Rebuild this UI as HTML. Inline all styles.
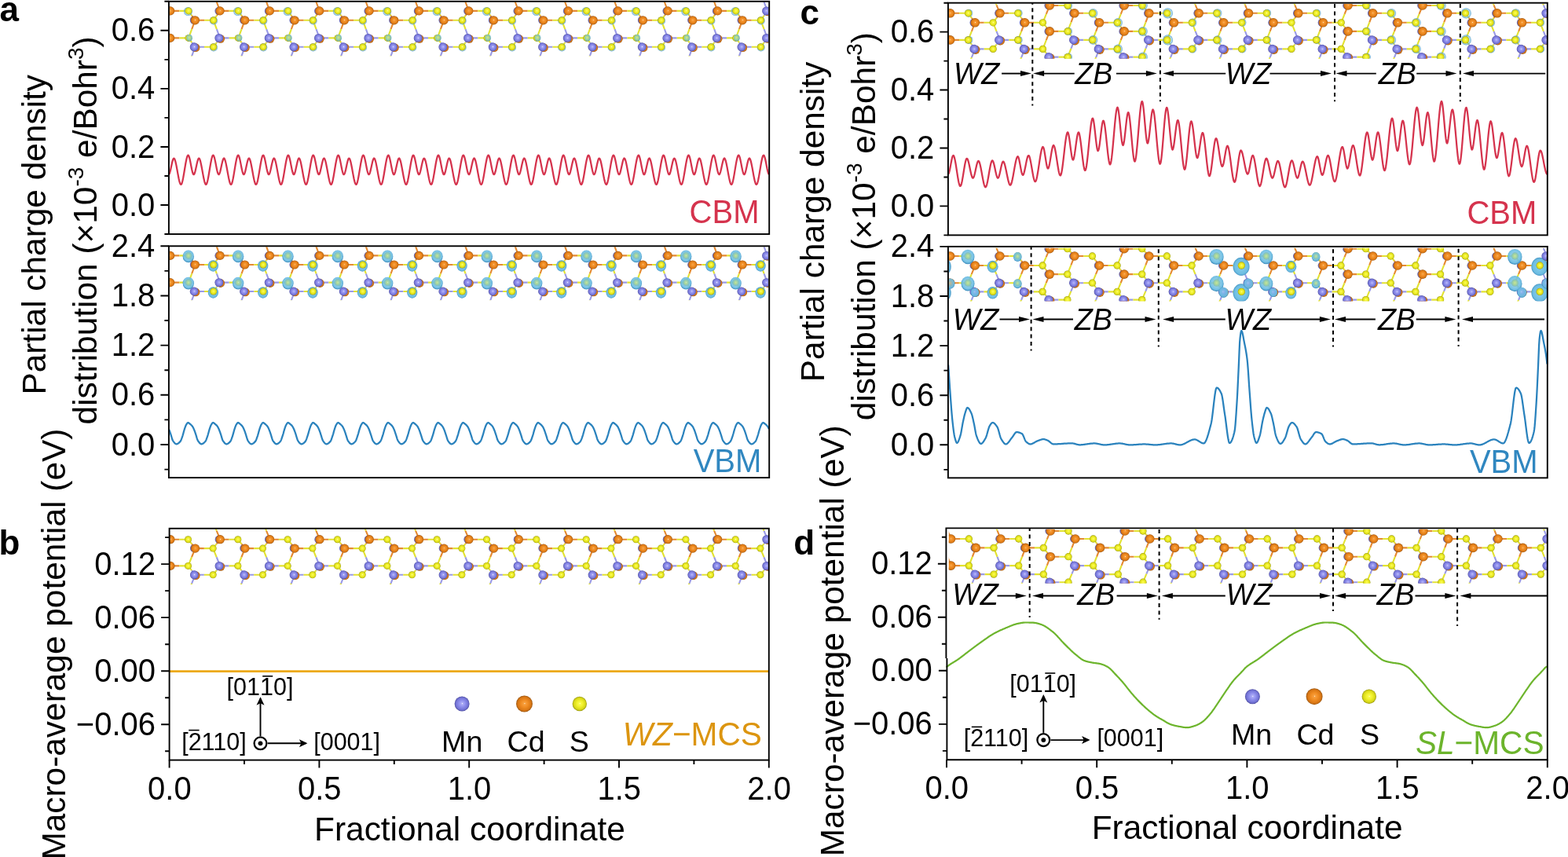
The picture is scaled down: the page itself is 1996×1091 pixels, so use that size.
<!DOCTYPE html><html><head><meta charset="utf-8"><title>Partial charge density and macro-average potential</title><style>html,body{margin:0;padding:0;background:#fff;overflow:hidden}svg{display:block}text{font-family:'Liberation Sans', Arial, Helvetica, sans-serif;fill:#000}</style></head><body>
<svg xmlns="http://www.w3.org/2000/svg" width="1996" height="1091" viewBox="0 0 1996 1091">
<defs>
<radialGradient id="gCd" cx="0.5" cy="0.5" r="0.5" fx="0.52" fy="0.48"><stop offset="0" stop-color="#FFF2DA"/><stop offset="0.1" stop-color="#F7A040"/><stop offset="0.45" stop-color="#F08C22"/><stop offset="0.82" stop-color="#D87614"/><stop offset="1" stop-color="#9A5612"/></radialGradient>
<radialGradient id="gMn" cx="0.5" cy="0.5" r="0.5" fx="0.52" fy="0.48"><stop offset="0" stop-color="#FFFFFF"/><stop offset="0.1" stop-color="#AEAEF6"/><stop offset="0.45" stop-color="#8E8EEC"/><stop offset="0.82" stop-color="#7272D4"/><stop offset="1" stop-color="#4E4EA0"/></radialGradient>
<radialGradient id="gS" cx="0.5" cy="0.5" r="0.5" fx="0.52" fy="0.48"><stop offset="0" stop-color="#FFFFE8"/><stop offset="0.1" stop-color="#FAFA50"/><stop offset="0.45" stop-color="#F0F02A"/><stop offset="0.82" stop-color="#D6D618"/><stop offset="1" stop-color="#96960E"/></radialGradient>
<radialGradient id="gIso" cx="0.5" cy="0.5" r="0.5"><stop offset="0" stop-color="#8ED0EC"/><stop offset="0.82" stop-color="#6CBDE2"/><stop offset="1" stop-color="#4A98C6"/></radialGradient>
<radialGradient id="gIsoF" cx="0.5" cy="0.45" r="0.5"><stop offset="0" stop-color="#86CBE8" stop-opacity="0.45"/><stop offset="0.45" stop-color="#74C2E5" stop-opacity="0.8"/><stop offset="0.85" stop-color="#6CBDE2" stop-opacity="0.95"/><stop offset="1" stop-color="#4A98C6" stop-opacity="1"/></radialGradient>
<radialGradient id="gIsoC" cx="0.5" cy="0.5" r="0.5"><stop offset="0" stop-color="#8ED0EC" stop-opacity="0.25"/><stop offset="0.7" stop-color="#7CC6E6" stop-opacity="0.55"/><stop offset="1" stop-color="#4A98C6" stop-opacity="0.8"/></radialGradient>
</defs>
<rect width="1996" height="1091" fill="#fff"/>
<clipPath id="cpaC"><rect x="215.8" y="2.3" width="762.5" height="69.2"/></clipPath>
<g clip-path="url(#cpaC)">
<path d="M153.36 13.9L165.01 13.9M153.36 13.9L149.17 19.85M153.36 13.9L149.17 2.73M185.03 25.8L196.68 25.8M185.03 25.8L180.84 19.85M185.03 25.8L180.84 37.1M216.7 13.9L228.35 13.9M216.7 13.9L212.51 19.85M216.7 13.9L212.51 2.73M216.7 48.4L228.35 48.4M216.7 48.4L212.51 54.1M216.7 48.4L212.51 37.1M248.37 25.8L260.02 25.8M248.37 25.8L244.19 19.85M248.37 25.8L244.19 37.1M280.04 13.9L291.69 13.9M280.04 13.9L275.86 19.85M280.04 13.9L275.86 2.73M311.71 25.8L323.36 25.8M311.71 25.8L307.52 19.85M311.71 25.8L307.52 37.1M343.38 13.9L355.03 13.9M343.38 13.9L339.19 19.85M343.38 13.9L339.19 2.73M375.05 25.8L386.7 25.8M375.05 25.8L370.87 19.85M375.05 25.8L370.87 37.1M406.72 13.9L418.37 13.9M406.72 13.9L402.54 19.85M406.72 13.9L402.54 2.73M438.39 25.8L450.04 25.8M438.39 25.8L434.21 19.85M438.39 25.8L434.21 37.1M470.06 13.9L481.71 13.9M470.06 13.9L465.88 19.85M470.06 13.9L465.88 2.73M501.73 25.8L513.38 25.8M501.73 25.8L497.55 19.85M501.73 25.8L497.55 37.1M533.4 13.9L545.05 13.9M533.4 13.9L529.22 19.85M533.4 13.9L529.22 2.73M565.07 25.8L576.72 25.8M565.07 25.8L560.88 19.85M565.07 25.8L560.88 37.1M596.74 13.9L608.39 13.9M596.74 13.9L592.55 19.85M596.74 13.9L592.55 2.73M628.41 25.8L640.06 25.8M628.41 25.8L624.23 19.85M628.41 25.8L624.23 37.1M660.08 13.9L671.73 13.9M660.08 13.9L655.89 19.85M660.08 13.9L655.89 2.73M691.75 25.8L703.4 25.8M691.75 25.8L687.56 19.85M691.75 25.8L687.56 37.1M723.42 13.9L735.07 13.9M723.42 13.9L719.24 19.85M723.42 13.9L719.24 2.73M755.09 25.8L766.74 25.8M755.09 25.8L750.9 19.85M755.09 25.8L750.9 37.1M786.76 13.9L798.41 13.9M786.76 13.9L782.57 19.85M786.76 13.9L782.57 2.73M818.43 25.8L830.08 25.8M818.43 25.8L814.25 19.85M818.43 25.8L814.25 37.1M850.1 13.9L861.75 13.9M850.1 13.9L845.92 19.85M850.1 13.9L845.92 2.73M881.77 25.8L893.42 25.8M881.77 25.8L877.59 19.85M881.77 25.8L877.59 37.1M913.44 13.9L925.09 13.9M913.44 13.9L909.25 19.85M913.44 13.9L909.25 2.73M945.11 25.8L956.76 25.8M945.11 25.8L940.93 19.85M945.11 25.8L940.93 37.1M1008.45 25.8L1020.1 25.8M1008.45 25.8L1004.26 19.85M1008.45 25.8L1004.26 37.1M1040.12 13.9L1051.77 13.9M1040.12 13.9L1035.93 19.85M1040.12 13.9L1035.93 2.73" stroke="#E58A32" stroke-width="2.1" fill="none"/>
<path d="M153.36 48.4L165.01 48.4M153.36 48.4L149.17 54.1M153.36 48.4L149.17 37.1M185.03 59.8L196.68 59.8M185.03 59.8L180.84 54.1M185.03 59.8L180.84 71.22M248.37 59.8L260.02 59.8M248.37 59.8L244.19 54.1M248.37 59.8L244.19 71.22M280.04 48.4L291.69 48.4M280.04 48.4L275.86 54.1M280.04 48.4L275.86 37.1M311.71 59.8L323.36 59.8M311.71 59.8L307.52 54.1M311.71 59.8L307.52 71.22M343.38 48.4L355.03 48.4M343.38 48.4L339.19 54.1M343.38 48.4L339.19 37.1M375.05 59.8L386.7 59.8M375.05 59.8L370.87 54.1M375.05 59.8L370.87 71.22M406.72 48.4L418.37 48.4M406.72 48.4L402.54 54.1M406.72 48.4L402.54 37.1M438.39 59.8L450.04 59.8M438.39 59.8L434.21 54.1M438.39 59.8L434.21 71.22M470.06 48.4L481.71 48.4M470.06 48.4L465.88 54.1M470.06 48.4L465.88 37.1M501.73 59.8L513.38 59.8M501.73 59.8L497.55 54.1M501.73 59.8L497.55 71.22M533.4 48.4L545.05 48.4M533.4 48.4L529.22 54.1M533.4 48.4L529.22 37.1M565.07 59.8L576.72 59.8M565.07 59.8L560.88 54.1M565.07 59.8L560.88 71.22M596.74 48.4L608.39 48.4M596.74 48.4L592.55 54.1M596.74 48.4L592.55 37.1M628.41 59.8L640.06 59.8M628.41 59.8L624.23 54.1M628.41 59.8L624.23 71.22M660.08 48.4L671.73 48.4M660.08 48.4L655.89 54.1M660.08 48.4L655.89 37.1M691.75 59.8L703.4 59.8M691.75 59.8L687.56 54.1M691.75 59.8L687.56 71.22M723.42 48.4L735.07 48.4M723.42 48.4L719.24 54.1M723.42 48.4L719.24 37.1M755.09 59.8L766.74 59.8M755.09 59.8L750.9 54.1M755.09 59.8L750.9 71.22M786.76 48.4L798.41 48.4M786.76 48.4L782.57 54.1M786.76 48.4L782.57 37.1M818.43 59.8L830.08 59.8M818.43 59.8L814.25 54.1M818.43 59.8L814.25 71.22M850.1 48.4L861.75 48.4M850.1 48.4L845.92 54.1M850.1 48.4L845.92 37.1M881.77 59.8L893.42 59.8M881.77 59.8L877.59 54.1M881.77 59.8L877.59 71.22M913.44 48.4L925.09 48.4M913.44 48.4L909.25 54.1M913.44 48.4L909.25 37.1M945.11 59.8L956.76 59.8M945.11 59.8L940.93 54.1M945.11 59.8L940.93 71.22M976.78 13.9L988.43 13.9M976.78 13.9L972.6 19.85M976.78 13.9L972.6 2.73M976.78 48.4L988.43 48.4M976.78 48.4L972.6 54.1M976.78 48.4L972.6 37.1M1008.45 59.8L1020.1 59.8M1008.45 59.8L1004.26 54.1M1008.45 59.8L1004.26 71.22M1040.12 48.4L1051.77 48.4M1040.12 48.4L1035.93 54.1M1040.12 48.4L1035.93 37.1" stroke="#9A9AE6" stroke-width="2.1" fill="none"/>
<path d="M165.01 13.9L176.66 13.9M149.17 19.85L144.99 25.8M149.17 2.73L144.99 -8.45M165.01 48.4L176.66 48.4M149.17 54.1L144.99 59.8M149.17 37.1L144.99 25.8M196.68 25.8L208.33 25.8M180.84 19.85L176.66 13.9M180.84 37.1L176.66 48.4M196.68 59.8L208.33 59.8M180.84 54.1L176.66 48.4M180.84 71.22L176.66 82.65M228.35 13.9L240 13.9M212.51 19.85L208.33 25.8M212.51 2.73L208.33 -8.45M228.35 48.4L240 48.4M212.51 54.1L208.33 59.8M212.51 37.1L208.33 25.8M260.02 25.8L271.67 25.8M244.19 19.85L240 13.9M244.19 37.1L240 48.4M260.02 59.8L271.67 59.8M244.19 54.1L240 48.4M244.19 71.22L240 82.65M291.69 13.9L303.34 13.9M275.86 19.85L271.67 25.8M275.86 2.73L271.67 -8.45M291.69 48.4L303.34 48.4M275.86 54.1L271.67 59.8M275.86 37.1L271.67 25.8M323.36 25.8L335.01 25.8M307.52 19.85L303.34 13.9M307.52 37.1L303.34 48.4M323.36 59.8L335.01 59.8M307.52 54.1L303.34 48.4M307.52 71.22L303.34 82.65M355.03 13.9L366.68 13.9M339.19 19.85L335.01 25.8M339.19 2.73L335.01 -8.45M355.03 48.4L366.68 48.4M339.19 54.1L335.01 59.8M339.19 37.1L335.01 25.8M386.7 25.8L398.35 25.8M370.87 19.85L366.68 13.9M370.87 37.1L366.68 48.4M386.7 59.8L398.35 59.8M370.87 54.1L366.68 48.4M370.87 71.22L366.68 82.65M418.37 13.9L430.02 13.9M402.54 19.85L398.35 25.8M402.54 2.73L398.35 -8.45M418.37 48.4L430.02 48.4M402.54 54.1L398.35 59.8M402.54 37.1L398.35 25.8M450.04 25.8L461.69 25.8M434.21 19.85L430.02 13.9M434.21 37.1L430.02 48.4M450.04 59.8L461.69 59.8M434.21 54.1L430.02 48.4M434.21 71.22L430.02 82.65M481.71 13.9L493.36 13.9M465.88 19.85L461.69 25.8M465.88 2.73L461.69 -8.45M481.71 48.4L493.36 48.4M465.88 54.1L461.69 59.8M465.88 37.1L461.69 25.8M513.38 25.8L525.03 25.8M497.55 19.85L493.36 13.9M497.55 37.1L493.36 48.4M513.38 59.8L525.03 59.8M497.55 54.1L493.36 48.4M497.55 71.22L493.36 82.65M545.05 13.9L556.7 13.9M529.22 19.85L525.03 25.8M529.22 2.73L525.03 -8.45M545.05 48.4L556.7 48.4M529.22 54.1L525.03 59.8M529.22 37.1L525.03 25.8M576.72 25.8L588.37 25.8M560.88 19.85L556.7 13.9M560.88 37.1L556.7 48.4M576.72 59.8L588.37 59.8M560.88 54.1L556.7 48.4M560.88 71.22L556.7 82.65M608.39 13.9L620.04 13.9M592.55 19.85L588.37 25.8M592.55 2.73L588.37 -8.45M608.39 48.4L620.04 48.4M592.55 54.1L588.37 59.8M592.55 37.1L588.37 25.8M640.06 25.8L651.71 25.8M624.23 19.85L620.04 13.9M624.23 37.1L620.04 48.4M640.06 59.8L651.71 59.8M624.23 54.1L620.04 48.4M624.23 71.22L620.04 82.65M671.73 13.9L683.38 13.9M655.89 19.85L651.71 25.8M655.89 2.73L651.71 -8.45M671.73 48.4L683.38 48.4M655.89 54.1L651.71 59.8M655.89 37.1L651.71 25.8M703.4 25.8L715.05 25.8M687.56 19.85L683.38 13.9M687.56 37.1L683.38 48.4M703.4 59.8L715.05 59.8M687.56 54.1L683.38 48.4M687.56 71.22L683.38 82.65M735.07 13.9L746.72 13.9M719.24 19.85L715.05 25.8M719.24 2.73L715.05 -8.45M735.07 48.4L746.72 48.4M719.24 54.1L715.05 59.8M719.24 37.1L715.05 25.8M766.74 25.8L778.39 25.8M750.9 19.85L746.72 13.9M750.9 37.1L746.72 48.4M766.74 59.8L778.39 59.8M750.9 54.1L746.72 48.4M750.9 71.22L746.72 82.65M798.41 13.9L810.06 13.9M782.57 19.85L778.39 25.8M782.57 2.73L778.39 -8.45M798.41 48.4L810.06 48.4M782.57 54.1L778.39 59.8M782.57 37.1L778.39 25.8M830.08 25.8L841.73 25.8M814.25 19.85L810.06 13.9M814.25 37.1L810.06 48.4M830.08 59.8L841.73 59.8M814.25 54.1L810.06 48.4M814.25 71.22L810.06 82.65M861.75 13.9L873.4 13.9M845.92 19.85L841.73 25.8M845.92 2.73L841.73 -8.45M861.75 48.4L873.4 48.4M845.92 54.1L841.73 59.8M845.92 37.1L841.73 25.8M893.42 25.8L905.07 25.8M877.59 19.85L873.4 13.9M877.59 37.1L873.4 48.4M893.42 59.8L905.07 59.8M877.59 54.1L873.4 48.4M877.59 71.22L873.4 82.65M925.09 13.9L936.74 13.9M909.25 19.85L905.07 25.8M909.25 2.73L905.07 -8.45M925.09 48.4L936.74 48.4M909.25 54.1L905.07 59.8M909.25 37.1L905.07 25.8M956.76 25.8L968.41 25.8M940.93 19.85L936.74 13.9M940.93 37.1L936.74 48.4M956.76 59.8L968.41 59.8M940.93 54.1L936.74 48.4M940.93 71.22L936.74 82.65M988.43 13.9L1000.08 13.9M972.6 19.85L968.41 25.8M972.6 2.73L968.41 -8.45M988.43 48.4L1000.08 48.4M972.6 54.1L968.41 59.8M972.6 37.1L968.41 25.8M1020.1 25.8L1031.75 25.8M1004.26 19.85L1000.08 13.9M1004.26 37.1L1000.08 48.4M1020.1 59.8L1031.75 59.8M1004.26 54.1L1000.08 48.4M1004.26 71.22L1000.08 82.65M1051.77 13.9L1063.42 13.9M1035.93 19.85L1031.75 25.8M1035.93 2.73L1031.75 -8.45M1051.77 48.4L1063.42 48.4M1035.93 54.1L1031.75 59.8M1035.93 37.1L1031.75 25.8" stroke="#E2E232" stroke-width="2.1" fill="none"/>
<circle cx="176.06" cy="14.5" r="5.5" fill="url(#gIsoC)"/>
<circle cx="208.63" cy="26.4" r="5" fill="url(#gIsoC)"/>
<circle cx="208.63" cy="60.4" r="5" fill="url(#gIsoC)"/>
<circle cx="239.4" cy="14.5" r="5.5" fill="url(#gIsoC)"/>
<circle cx="271.97" cy="26.4" r="5" fill="url(#gIsoC)"/>
<circle cx="271.97" cy="60.4" r="5" fill="url(#gIsoC)"/>
<circle cx="302.74" cy="14.5" r="5.5" fill="url(#gIsoC)"/>
<circle cx="335.31" cy="26.4" r="5" fill="url(#gIsoC)"/>
<circle cx="335.31" cy="60.4" r="5" fill="url(#gIsoC)"/>
<circle cx="366.08" cy="14.5" r="5.5" fill="url(#gIsoC)"/>
<circle cx="398.65" cy="26.4" r="5" fill="url(#gIsoC)"/>
<circle cx="398.65" cy="60.4" r="5" fill="url(#gIsoC)"/>
<circle cx="429.42" cy="14.5" r="5.5" fill="url(#gIsoC)"/>
<circle cx="461.99" cy="26.4" r="5" fill="url(#gIsoC)"/>
<circle cx="461.99" cy="60.4" r="5" fill="url(#gIsoC)"/>
<circle cx="492.76" cy="14.5" r="5.5" fill="url(#gIsoC)"/>
<circle cx="525.33" cy="26.4" r="5" fill="url(#gIsoC)"/>
<circle cx="525.33" cy="60.4" r="5" fill="url(#gIsoC)"/>
<circle cx="556.1" cy="14.5" r="5.5" fill="url(#gIsoC)"/>
<circle cx="588.67" cy="26.4" r="5" fill="url(#gIsoC)"/>
<circle cx="588.67" cy="60.4" r="5" fill="url(#gIsoC)"/>
<circle cx="619.44" cy="14.5" r="5.5" fill="url(#gIsoC)"/>
<circle cx="652.01" cy="26.4" r="5" fill="url(#gIsoC)"/>
<circle cx="652.01" cy="60.4" r="5" fill="url(#gIsoC)"/>
<circle cx="682.78" cy="14.5" r="5.5" fill="url(#gIsoC)"/>
<circle cx="715.35" cy="26.4" r="5" fill="url(#gIsoC)"/>
<circle cx="715.35" cy="60.4" r="5" fill="url(#gIsoC)"/>
<circle cx="746.12" cy="14.5" r="5.5" fill="url(#gIsoC)"/>
<circle cx="778.69" cy="26.4" r="5" fill="url(#gIsoC)"/>
<circle cx="778.69" cy="60.4" r="5" fill="url(#gIsoC)"/>
<circle cx="809.46" cy="14.5" r="5.5" fill="url(#gIsoC)"/>
<circle cx="842.03" cy="26.4" r="5" fill="url(#gIsoC)"/>
<circle cx="842.03" cy="60.4" r="5" fill="url(#gIsoC)"/>
<circle cx="872.8" cy="14.5" r="5.5" fill="url(#gIsoC)"/>
<circle cx="905.37" cy="26.4" r="5" fill="url(#gIsoC)"/>
<circle cx="905.37" cy="60.4" r="5" fill="url(#gIsoC)"/>
<circle cx="936.14" cy="14.5" r="5.5" fill="url(#gIsoC)"/>
<circle cx="968.71" cy="26.4" r="5" fill="url(#gIsoC)"/>
<circle cx="968.71" cy="60.4" r="5" fill="url(#gIsoC)"/>
<circle cx="999.48" cy="14.5" r="5.5" fill="url(#gIsoC)"/>
<circle cx="1032.05" cy="26.4" r="5" fill="url(#gIsoC)"/>
<circle cx="1032.05" cy="60.4" r="5" fill="url(#gIsoC)"/>
<circle cx="1062.82" cy="14.5" r="5.5" fill="url(#gIsoC)"/>
<circle cx="151.76" cy="13.9" r="4.96" fill="url(#gMn)"/>
<circle cx="153.36" cy="13.9" r="5.62" fill="url(#gCd)"/>
<circle cx="176.66" cy="13.9" r="4.52" fill="url(#gS)"/>
<circle cx="153.96" cy="49.3" r="5.42" fill="url(#gCd)"/>
<circle cx="152.16" cy="48.4" r="5.46" fill="url(#gMn)"/>
<circle cx="176.66" cy="48.4" r="4.52" fill="url(#gS)"/>
<circle cx="183.43" cy="25.8" r="4.96" fill="url(#gMn)"/>
<circle cx="185.03" cy="25.8" r="5.62" fill="url(#gCd)"/>
<circle cx="208.33" cy="25.8" r="4.52" fill="url(#gS)"/>
<circle cx="185.63" cy="60.7" r="5.42" fill="url(#gCd)"/>
<circle cx="183.83" cy="59.8" r="5.46" fill="url(#gMn)"/>
<circle cx="208.33" cy="59.8" r="4.52" fill="url(#gS)"/>
<circle cx="216.7" cy="13.9" r="5.62" fill="url(#gCd)"/>
<circle cx="240" cy="13.9" r="4.52" fill="url(#gS)"/>
<circle cx="216.7" cy="48.4" r="5.62" fill="url(#gCd)"/>
<circle cx="240" cy="48.4" r="4.52" fill="url(#gS)"/>
<circle cx="246.77" cy="25.8" r="4.96" fill="url(#gMn)"/>
<circle cx="248.37" cy="25.8" r="5.62" fill="url(#gCd)"/>
<circle cx="271.67" cy="25.8" r="4.52" fill="url(#gS)"/>
<circle cx="248.97" cy="60.7" r="5.42" fill="url(#gCd)"/>
<circle cx="247.17" cy="59.8" r="5.46" fill="url(#gMn)"/>
<circle cx="271.67" cy="59.8" r="4.52" fill="url(#gS)"/>
<circle cx="278.44" cy="13.9" r="4.96" fill="url(#gMn)"/>
<circle cx="280.04" cy="13.9" r="5.62" fill="url(#gCd)"/>
<circle cx="303.34" cy="13.9" r="4.52" fill="url(#gS)"/>
<circle cx="280.64" cy="49.3" r="5.42" fill="url(#gCd)"/>
<circle cx="278.84" cy="48.4" r="5.46" fill="url(#gMn)"/>
<circle cx="303.34" cy="48.4" r="4.52" fill="url(#gS)"/>
<circle cx="310.11" cy="25.8" r="4.96" fill="url(#gMn)"/>
<circle cx="311.71" cy="25.8" r="5.62" fill="url(#gCd)"/>
<circle cx="335.01" cy="25.8" r="4.52" fill="url(#gS)"/>
<circle cx="312.31" cy="60.7" r="5.42" fill="url(#gCd)"/>
<circle cx="310.51" cy="59.8" r="5.46" fill="url(#gMn)"/>
<circle cx="335.01" cy="59.8" r="4.52" fill="url(#gS)"/>
<circle cx="341.78" cy="13.9" r="4.96" fill="url(#gMn)"/>
<circle cx="343.38" cy="13.9" r="5.62" fill="url(#gCd)"/>
<circle cx="366.68" cy="13.9" r="4.52" fill="url(#gS)"/>
<circle cx="343.98" cy="49.3" r="5.42" fill="url(#gCd)"/>
<circle cx="342.18" cy="48.4" r="5.46" fill="url(#gMn)"/>
<circle cx="366.68" cy="48.4" r="4.52" fill="url(#gS)"/>
<circle cx="373.45" cy="25.8" r="4.96" fill="url(#gMn)"/>
<circle cx="375.05" cy="25.8" r="5.62" fill="url(#gCd)"/>
<circle cx="398.35" cy="25.8" r="4.52" fill="url(#gS)"/>
<circle cx="375.65" cy="60.7" r="5.42" fill="url(#gCd)"/>
<circle cx="373.85" cy="59.8" r="5.46" fill="url(#gMn)"/>
<circle cx="398.35" cy="59.8" r="4.52" fill="url(#gS)"/>
<circle cx="405.12" cy="13.9" r="4.96" fill="url(#gMn)"/>
<circle cx="406.72" cy="13.9" r="5.62" fill="url(#gCd)"/>
<circle cx="430.02" cy="13.9" r="4.52" fill="url(#gS)"/>
<circle cx="407.32" cy="49.3" r="5.42" fill="url(#gCd)"/>
<circle cx="405.52" cy="48.4" r="5.46" fill="url(#gMn)"/>
<circle cx="430.02" cy="48.4" r="4.52" fill="url(#gS)"/>
<circle cx="436.79" cy="25.8" r="4.96" fill="url(#gMn)"/>
<circle cx="438.39" cy="25.8" r="5.62" fill="url(#gCd)"/>
<circle cx="461.69" cy="25.8" r="4.52" fill="url(#gS)"/>
<circle cx="438.99" cy="60.7" r="5.42" fill="url(#gCd)"/>
<circle cx="437.19" cy="59.8" r="5.46" fill="url(#gMn)"/>
<circle cx="461.69" cy="59.8" r="4.52" fill="url(#gS)"/>
<circle cx="468.46" cy="13.9" r="4.96" fill="url(#gMn)"/>
<circle cx="470.06" cy="13.9" r="5.62" fill="url(#gCd)"/>
<circle cx="493.36" cy="13.9" r="4.52" fill="url(#gS)"/>
<circle cx="470.66" cy="49.3" r="5.42" fill="url(#gCd)"/>
<circle cx="468.86" cy="48.4" r="5.46" fill="url(#gMn)"/>
<circle cx="493.36" cy="48.4" r="4.52" fill="url(#gS)"/>
<circle cx="500.13" cy="25.8" r="4.96" fill="url(#gMn)"/>
<circle cx="501.73" cy="25.8" r="5.62" fill="url(#gCd)"/>
<circle cx="525.03" cy="25.8" r="4.52" fill="url(#gS)"/>
<circle cx="502.33" cy="60.7" r="5.42" fill="url(#gCd)"/>
<circle cx="500.53" cy="59.8" r="5.46" fill="url(#gMn)"/>
<circle cx="525.03" cy="59.8" r="4.52" fill="url(#gS)"/>
<circle cx="531.8" cy="13.9" r="4.96" fill="url(#gMn)"/>
<circle cx="533.4" cy="13.9" r="5.62" fill="url(#gCd)"/>
<circle cx="556.7" cy="13.9" r="4.52" fill="url(#gS)"/>
<circle cx="534" cy="49.3" r="5.42" fill="url(#gCd)"/>
<circle cx="532.2" cy="48.4" r="5.46" fill="url(#gMn)"/>
<circle cx="556.7" cy="48.4" r="4.52" fill="url(#gS)"/>
<circle cx="563.47" cy="25.8" r="4.96" fill="url(#gMn)"/>
<circle cx="565.07" cy="25.8" r="5.62" fill="url(#gCd)"/>
<circle cx="588.37" cy="25.8" r="4.52" fill="url(#gS)"/>
<circle cx="565.67" cy="60.7" r="5.42" fill="url(#gCd)"/>
<circle cx="563.87" cy="59.8" r="5.46" fill="url(#gMn)"/>
<circle cx="588.37" cy="59.8" r="4.52" fill="url(#gS)"/>
<circle cx="595.14" cy="13.9" r="4.96" fill="url(#gMn)"/>
<circle cx="596.74" cy="13.9" r="5.62" fill="url(#gCd)"/>
<circle cx="620.04" cy="13.9" r="4.52" fill="url(#gS)"/>
<circle cx="597.34" cy="49.3" r="5.42" fill="url(#gCd)"/>
<circle cx="595.54" cy="48.4" r="5.46" fill="url(#gMn)"/>
<circle cx="620.04" cy="48.4" r="4.52" fill="url(#gS)"/>
<circle cx="626.81" cy="25.8" r="4.96" fill="url(#gMn)"/>
<circle cx="628.41" cy="25.8" r="5.62" fill="url(#gCd)"/>
<circle cx="651.71" cy="25.8" r="4.52" fill="url(#gS)"/>
<circle cx="629.01" cy="60.7" r="5.42" fill="url(#gCd)"/>
<circle cx="627.21" cy="59.8" r="5.46" fill="url(#gMn)"/>
<circle cx="651.71" cy="59.8" r="4.52" fill="url(#gS)"/>
<circle cx="658.48" cy="13.9" r="4.96" fill="url(#gMn)"/>
<circle cx="660.08" cy="13.9" r="5.62" fill="url(#gCd)"/>
<circle cx="683.38" cy="13.9" r="4.52" fill="url(#gS)"/>
<circle cx="660.68" cy="49.3" r="5.42" fill="url(#gCd)"/>
<circle cx="658.88" cy="48.4" r="5.46" fill="url(#gMn)"/>
<circle cx="683.38" cy="48.4" r="4.52" fill="url(#gS)"/>
<circle cx="690.15" cy="25.8" r="4.96" fill="url(#gMn)"/>
<circle cx="691.75" cy="25.8" r="5.62" fill="url(#gCd)"/>
<circle cx="715.05" cy="25.8" r="4.52" fill="url(#gS)"/>
<circle cx="692.35" cy="60.7" r="5.42" fill="url(#gCd)"/>
<circle cx="690.55" cy="59.8" r="5.46" fill="url(#gMn)"/>
<circle cx="715.05" cy="59.8" r="4.52" fill="url(#gS)"/>
<circle cx="721.82" cy="13.9" r="4.96" fill="url(#gMn)"/>
<circle cx="723.42" cy="13.9" r="5.62" fill="url(#gCd)"/>
<circle cx="746.72" cy="13.9" r="4.52" fill="url(#gS)"/>
<circle cx="724.02" cy="49.3" r="5.42" fill="url(#gCd)"/>
<circle cx="722.22" cy="48.4" r="5.46" fill="url(#gMn)"/>
<circle cx="746.72" cy="48.4" r="4.52" fill="url(#gS)"/>
<circle cx="753.49" cy="25.8" r="4.96" fill="url(#gMn)"/>
<circle cx="755.09" cy="25.8" r="5.62" fill="url(#gCd)"/>
<circle cx="778.39" cy="25.8" r="4.52" fill="url(#gS)"/>
<circle cx="755.69" cy="60.7" r="5.42" fill="url(#gCd)"/>
<circle cx="753.89" cy="59.8" r="5.46" fill="url(#gMn)"/>
<circle cx="778.39" cy="59.8" r="4.52" fill="url(#gS)"/>
<circle cx="785.16" cy="13.9" r="4.96" fill="url(#gMn)"/>
<circle cx="786.76" cy="13.9" r="5.62" fill="url(#gCd)"/>
<circle cx="810.06" cy="13.9" r="4.52" fill="url(#gS)"/>
<circle cx="787.36" cy="49.3" r="5.42" fill="url(#gCd)"/>
<circle cx="785.56" cy="48.4" r="5.46" fill="url(#gMn)"/>
<circle cx="810.06" cy="48.4" r="4.52" fill="url(#gS)"/>
<circle cx="816.83" cy="25.8" r="4.96" fill="url(#gMn)"/>
<circle cx="818.43" cy="25.8" r="5.62" fill="url(#gCd)"/>
<circle cx="841.73" cy="25.8" r="4.52" fill="url(#gS)"/>
<circle cx="819.03" cy="60.7" r="5.42" fill="url(#gCd)"/>
<circle cx="817.23" cy="59.8" r="5.46" fill="url(#gMn)"/>
<circle cx="841.73" cy="59.8" r="4.52" fill="url(#gS)"/>
<circle cx="848.5" cy="13.9" r="4.96" fill="url(#gMn)"/>
<circle cx="850.1" cy="13.9" r="5.62" fill="url(#gCd)"/>
<circle cx="873.4" cy="13.9" r="4.52" fill="url(#gS)"/>
<circle cx="850.7" cy="49.3" r="5.42" fill="url(#gCd)"/>
<circle cx="848.9" cy="48.4" r="5.46" fill="url(#gMn)"/>
<circle cx="873.4" cy="48.4" r="4.52" fill="url(#gS)"/>
<circle cx="880.17" cy="25.8" r="4.96" fill="url(#gMn)"/>
<circle cx="881.77" cy="25.8" r="5.62" fill="url(#gCd)"/>
<circle cx="905.07" cy="25.8" r="4.52" fill="url(#gS)"/>
<circle cx="882.37" cy="60.7" r="5.42" fill="url(#gCd)"/>
<circle cx="880.57" cy="59.8" r="5.46" fill="url(#gMn)"/>
<circle cx="905.07" cy="59.8" r="4.52" fill="url(#gS)"/>
<circle cx="911.84" cy="13.9" r="4.96" fill="url(#gMn)"/>
<circle cx="913.44" cy="13.9" r="5.62" fill="url(#gCd)"/>
<circle cx="936.74" cy="13.9" r="4.52" fill="url(#gS)"/>
<circle cx="914.04" cy="49.3" r="5.42" fill="url(#gCd)"/>
<circle cx="912.24" cy="48.4" r="5.46" fill="url(#gMn)"/>
<circle cx="936.74" cy="48.4" r="4.52" fill="url(#gS)"/>
<circle cx="943.51" cy="25.8" r="4.96" fill="url(#gMn)"/>
<circle cx="945.11" cy="25.8" r="5.62" fill="url(#gCd)"/>
<circle cx="968.41" cy="25.8" r="4.52" fill="url(#gS)"/>
<circle cx="945.71" cy="60.7" r="5.42" fill="url(#gCd)"/>
<circle cx="943.91" cy="59.8" r="5.46" fill="url(#gMn)"/>
<circle cx="968.41" cy="59.8" r="4.52" fill="url(#gS)"/>
<circle cx="977.38" cy="14.8" r="5.42" fill="url(#gCd)"/>
<circle cx="975.58" cy="13.9" r="5.46" fill="url(#gMn)"/>
<circle cx="1000.08" cy="13.9" r="4.52" fill="url(#gS)"/>
<circle cx="977.38" cy="49.3" r="5.42" fill="url(#gCd)"/>
<circle cx="975.58" cy="48.4" r="5.46" fill="url(#gMn)"/>
<circle cx="1000.08" cy="48.4" r="4.52" fill="url(#gS)"/>
<circle cx="1006.85" cy="25.8" r="4.96" fill="url(#gMn)"/>
<circle cx="1008.45" cy="25.8" r="5.62" fill="url(#gCd)"/>
<circle cx="1031.75" cy="25.8" r="4.52" fill="url(#gS)"/>
<circle cx="1009.05" cy="60.7" r="5.42" fill="url(#gCd)"/>
<circle cx="1007.25" cy="59.8" r="5.46" fill="url(#gMn)"/>
<circle cx="1031.75" cy="59.8" r="4.52" fill="url(#gS)"/>
<circle cx="1038.52" cy="13.9" r="4.96" fill="url(#gMn)"/>
<circle cx="1040.12" cy="13.9" r="5.62" fill="url(#gCd)"/>
<circle cx="1063.42" cy="13.9" r="4.52" fill="url(#gS)"/>
<circle cx="1040.72" cy="49.3" r="5.42" fill="url(#gCd)"/>
<circle cx="1038.92" cy="48.4" r="5.46" fill="url(#gMn)"/>
<circle cx="1063.42" cy="48.4" r="4.52" fill="url(#gS)"/>
<ellipse cx="177.76" cy="48.1" rx="4" ry="4.4" fill="url(#gIsoF)" opacity="0.75"/>
<ellipse cx="241.1" cy="48.1" rx="4" ry="4.4" fill="url(#gIsoF)" opacity="0.75"/>
<ellipse cx="304.44" cy="48.1" rx="4" ry="4.4" fill="url(#gIsoF)" opacity="0.75"/>
<ellipse cx="367.78" cy="48.1" rx="4" ry="4.4" fill="url(#gIsoF)" opacity="0.75"/>
<ellipse cx="431.12" cy="48.1" rx="4" ry="4.4" fill="url(#gIsoF)" opacity="0.75"/>
<ellipse cx="494.46" cy="48.1" rx="4" ry="4.4" fill="url(#gIsoF)" opacity="0.75"/>
<ellipse cx="557.8" cy="48.1" rx="4" ry="4.4" fill="url(#gIsoF)" opacity="0.75"/>
<ellipse cx="621.14" cy="48.1" rx="4" ry="4.4" fill="url(#gIsoF)" opacity="0.75"/>
<ellipse cx="684.48" cy="48.1" rx="4" ry="4.4" fill="url(#gIsoF)" opacity="0.75"/>
<ellipse cx="747.82" cy="48.1" rx="4" ry="4.4" fill="url(#gIsoF)" opacity="0.75"/>
<ellipse cx="811.16" cy="48.1" rx="4" ry="4.4" fill="url(#gIsoF)" opacity="0.75"/>
<ellipse cx="874.5" cy="48.1" rx="4" ry="4.4" fill="url(#gIsoF)" opacity="0.75"/>
<ellipse cx="937.84" cy="48.1" rx="4" ry="4.4" fill="url(#gIsoF)" opacity="0.75"/>
<ellipse cx="1001.18" cy="48.1" rx="4" ry="4.4" fill="url(#gIsoF)" opacity="0.75"/>
<ellipse cx="1064.52" cy="48.1" rx="4" ry="4.4" fill="url(#gIsoF)" opacity="0.75"/>
</g>
<clipPath id="cpaV"><rect x="215.8" y="314.2" width="762.5" height="68.1"/></clipPath>
<g clip-path="url(#cpaV)">
<path d="M153.36 325.4L165.01 325.4M153.36 325.4L149.17 331.2M153.36 325.4L149.17 314.15M185.03 337L196.68 337M185.03 337L180.84 331.2M185.03 337L180.84 348.3M216.7 325.4L228.35 325.4M216.7 325.4L212.51 331.2M216.7 325.4L212.51 314.15M216.7 359.6L228.35 359.6M216.7 359.6L212.51 365.3M216.7 359.6L212.51 348.3M248.37 337L260.02 337M248.37 337L244.19 331.2M248.37 337L244.19 348.3M280.04 325.4L291.69 325.4M280.04 325.4L275.86 331.2M280.04 325.4L275.86 314.15M311.71 337L323.36 337M311.71 337L307.52 331.2M311.71 337L307.52 348.3M343.38 325.4L355.03 325.4M343.38 325.4L339.19 331.2M343.38 325.4L339.19 314.15M375.05 337L386.7 337M375.05 337L370.87 331.2M375.05 337L370.87 348.3M406.72 325.4L418.37 325.4M406.72 325.4L402.54 331.2M406.72 325.4L402.54 314.15M438.39 337L450.04 337M438.39 337L434.21 331.2M438.39 337L434.21 348.3M470.06 325.4L481.71 325.4M470.06 325.4L465.88 331.2M470.06 325.4L465.88 314.15M501.73 337L513.38 337M501.73 337L497.55 331.2M501.73 337L497.55 348.3M533.4 325.4L545.05 325.4M533.4 325.4L529.22 331.2M533.4 325.4L529.22 314.15M565.07 337L576.72 337M565.07 337L560.88 331.2M565.07 337L560.88 348.3M596.74 325.4L608.39 325.4M596.74 325.4L592.55 331.2M596.74 325.4L592.55 314.15M628.41 337L640.06 337M628.41 337L624.23 331.2M628.41 337L624.23 348.3M660.08 325.4L671.73 325.4M660.08 325.4L655.89 331.2M660.08 325.4L655.89 314.15M691.75 337L703.4 337M691.75 337L687.56 331.2M691.75 337L687.56 348.3M723.42 325.4L735.07 325.4M723.42 325.4L719.24 331.2M723.42 325.4L719.24 314.15M755.09 337L766.74 337M755.09 337L750.9 331.2M755.09 337L750.9 348.3M786.76 325.4L798.41 325.4M786.76 325.4L782.57 331.2M786.76 325.4L782.57 314.15M818.43 337L830.08 337M818.43 337L814.25 331.2M818.43 337L814.25 348.3M850.1 325.4L861.75 325.4M850.1 325.4L845.92 331.2M850.1 325.4L845.92 314.15M881.77 337L893.42 337M881.77 337L877.59 331.2M881.77 337L877.59 348.3M913.44 325.4L925.09 325.4M913.44 325.4L909.25 331.2M913.44 325.4L909.25 314.15M945.11 337L956.76 337M945.11 337L940.93 331.2M945.11 337L940.93 348.3M1008.45 337L1020.1 337M1008.45 337L1004.26 331.2M1008.45 337L1004.26 348.3M1040.12 325.4L1051.77 325.4M1040.12 325.4L1035.93 331.2M1040.12 325.4L1035.93 314.15" stroke="#E58A32" stroke-width="2.1" fill="none"/>
<path d="M153.36 359.6L165.01 359.6M153.36 359.6L149.17 365.3M153.36 359.6L149.17 348.3M185.03 371L196.68 371M185.03 371L180.84 365.3M185.03 371L180.84 382.35M248.37 371L260.02 371M248.37 371L244.19 365.3M248.37 371L244.19 382.35M280.04 359.6L291.69 359.6M280.04 359.6L275.86 365.3M280.04 359.6L275.86 348.3M311.71 371L323.36 371M311.71 371L307.52 365.3M311.71 371L307.52 382.35M343.38 359.6L355.03 359.6M343.38 359.6L339.19 365.3M343.38 359.6L339.19 348.3M375.05 371L386.7 371M375.05 371L370.87 365.3M375.05 371L370.87 382.35M406.72 359.6L418.37 359.6M406.72 359.6L402.54 365.3M406.72 359.6L402.54 348.3M438.39 371L450.04 371M438.39 371L434.21 365.3M438.39 371L434.21 382.35M470.06 359.6L481.71 359.6M470.06 359.6L465.88 365.3M470.06 359.6L465.88 348.3M501.73 371L513.38 371M501.73 371L497.55 365.3M501.73 371L497.55 382.35M533.4 359.6L545.05 359.6M533.4 359.6L529.22 365.3M533.4 359.6L529.22 348.3M565.07 371L576.72 371M565.07 371L560.88 365.3M565.07 371L560.88 382.35M596.74 359.6L608.39 359.6M596.74 359.6L592.55 365.3M596.74 359.6L592.55 348.3M628.41 371L640.06 371M628.41 371L624.23 365.3M628.41 371L624.23 382.35M660.08 359.6L671.73 359.6M660.08 359.6L655.89 365.3M660.08 359.6L655.89 348.3M691.75 371L703.4 371M691.75 371L687.56 365.3M691.75 371L687.56 382.35M723.42 359.6L735.07 359.6M723.42 359.6L719.24 365.3M723.42 359.6L719.24 348.3M755.09 371L766.74 371M755.09 371L750.9 365.3M755.09 371L750.9 382.35M786.76 359.6L798.41 359.6M786.76 359.6L782.57 365.3M786.76 359.6L782.57 348.3M818.43 371L830.08 371M818.43 371L814.25 365.3M818.43 371L814.25 382.35M850.1 359.6L861.75 359.6M850.1 359.6L845.92 365.3M850.1 359.6L845.92 348.3M881.77 371L893.42 371M881.77 371L877.59 365.3M881.77 371L877.59 382.35M913.44 359.6L925.09 359.6M913.44 359.6L909.25 365.3M913.44 359.6L909.25 348.3M945.11 371L956.76 371M945.11 371L940.93 365.3M945.11 371L940.93 382.35M976.78 325.4L988.43 325.4M976.78 325.4L972.6 331.2M976.78 325.4L972.6 314.15M976.78 359.6L988.43 359.6M976.78 359.6L972.6 365.3M976.78 359.6L972.6 348.3M1008.45 371L1020.1 371M1008.45 371L1004.26 365.3M1008.45 371L1004.26 382.35M1040.12 359.6L1051.77 359.6M1040.12 359.6L1035.93 365.3M1040.12 359.6L1035.93 348.3" stroke="#9A9AE6" stroke-width="2.1" fill="none"/>
<path d="M165.01 325.4L176.66 325.4M149.17 331.2L144.99 337M149.17 314.15L144.99 302.9M165.01 359.6L176.66 359.6M149.17 365.3L144.99 371M149.17 348.3L144.99 337M196.68 337L208.33 337M180.84 331.2L176.66 325.4M180.84 348.3L176.66 359.6M196.68 371L208.33 371M180.84 365.3L176.66 359.6M180.84 382.35L176.66 393.7M228.35 325.4L240 325.4M212.51 331.2L208.33 337M212.51 314.15L208.33 302.9M228.35 359.6L240 359.6M212.51 365.3L208.33 371M212.51 348.3L208.33 337M260.02 337L271.67 337M244.19 331.2L240 325.4M244.19 348.3L240 359.6M260.02 371L271.67 371M244.19 365.3L240 359.6M244.19 382.35L240 393.7M291.69 325.4L303.34 325.4M275.86 331.2L271.67 337M275.86 314.15L271.67 302.9M291.69 359.6L303.34 359.6M275.86 365.3L271.67 371M275.86 348.3L271.67 337M323.36 337L335.01 337M307.52 331.2L303.34 325.4M307.52 348.3L303.34 359.6M323.36 371L335.01 371M307.52 365.3L303.34 359.6M307.52 382.35L303.34 393.7M355.03 325.4L366.68 325.4M339.19 331.2L335.01 337M339.19 314.15L335.01 302.9M355.03 359.6L366.68 359.6M339.19 365.3L335.01 371M339.19 348.3L335.01 337M386.7 337L398.35 337M370.87 331.2L366.68 325.4M370.87 348.3L366.68 359.6M386.7 371L398.35 371M370.87 365.3L366.68 359.6M370.87 382.35L366.68 393.7M418.37 325.4L430.02 325.4M402.54 331.2L398.35 337M402.54 314.15L398.35 302.9M418.37 359.6L430.02 359.6M402.54 365.3L398.35 371M402.54 348.3L398.35 337M450.04 337L461.69 337M434.21 331.2L430.02 325.4M434.21 348.3L430.02 359.6M450.04 371L461.69 371M434.21 365.3L430.02 359.6M434.21 382.35L430.02 393.7M481.71 325.4L493.36 325.4M465.88 331.2L461.69 337M465.88 314.15L461.69 302.9M481.71 359.6L493.36 359.6M465.88 365.3L461.69 371M465.88 348.3L461.69 337M513.38 337L525.03 337M497.55 331.2L493.36 325.4M497.55 348.3L493.36 359.6M513.38 371L525.03 371M497.55 365.3L493.36 359.6M497.55 382.35L493.36 393.7M545.05 325.4L556.7 325.4M529.22 331.2L525.03 337M529.22 314.15L525.03 302.9M545.05 359.6L556.7 359.6M529.22 365.3L525.03 371M529.22 348.3L525.03 337M576.72 337L588.37 337M560.88 331.2L556.7 325.4M560.88 348.3L556.7 359.6M576.72 371L588.37 371M560.88 365.3L556.7 359.6M560.88 382.35L556.7 393.7M608.39 325.4L620.04 325.4M592.55 331.2L588.37 337M592.55 314.15L588.37 302.9M608.39 359.6L620.04 359.6M592.55 365.3L588.37 371M592.55 348.3L588.37 337M640.06 337L651.71 337M624.23 331.2L620.04 325.4M624.23 348.3L620.04 359.6M640.06 371L651.71 371M624.23 365.3L620.04 359.6M624.23 382.35L620.04 393.7M671.73 325.4L683.38 325.4M655.89 331.2L651.71 337M655.89 314.15L651.71 302.9M671.73 359.6L683.38 359.6M655.89 365.3L651.71 371M655.89 348.3L651.71 337M703.4 337L715.05 337M687.56 331.2L683.38 325.4M687.56 348.3L683.38 359.6M703.4 371L715.05 371M687.56 365.3L683.38 359.6M687.56 382.35L683.38 393.7M735.07 325.4L746.72 325.4M719.24 331.2L715.05 337M719.24 314.15L715.05 302.9M735.07 359.6L746.72 359.6M719.24 365.3L715.05 371M719.24 348.3L715.05 337M766.74 337L778.39 337M750.9 331.2L746.72 325.4M750.9 348.3L746.72 359.6M766.74 371L778.39 371M750.9 365.3L746.72 359.6M750.9 382.35L746.72 393.7M798.41 325.4L810.06 325.4M782.57 331.2L778.39 337M782.57 314.15L778.39 302.9M798.41 359.6L810.06 359.6M782.57 365.3L778.39 371M782.57 348.3L778.39 337M830.08 337L841.73 337M814.25 331.2L810.06 325.4M814.25 348.3L810.06 359.6M830.08 371L841.73 371M814.25 365.3L810.06 359.6M814.25 382.35L810.06 393.7M861.75 325.4L873.4 325.4M845.92 331.2L841.73 337M845.92 314.15L841.73 302.9M861.75 359.6L873.4 359.6M845.92 365.3L841.73 371M845.92 348.3L841.73 337M893.42 337L905.07 337M877.59 331.2L873.4 325.4M877.59 348.3L873.4 359.6M893.42 371L905.07 371M877.59 365.3L873.4 359.6M877.59 382.35L873.4 393.7M925.09 325.4L936.74 325.4M909.25 331.2L905.07 337M909.25 314.15L905.07 302.9M925.09 359.6L936.74 359.6M909.25 365.3L905.07 371M909.25 348.3L905.07 337M956.76 337L968.41 337M940.93 331.2L936.74 325.4M940.93 348.3L936.74 359.6M956.76 371L968.41 371M940.93 365.3L936.74 359.6M940.93 382.35L936.74 393.7M988.43 325.4L1000.08 325.4M972.6 331.2L968.41 337M972.6 314.15L968.41 302.9M988.43 359.6L1000.08 359.6M972.6 365.3L968.41 371M972.6 348.3L968.41 337M1020.1 337L1031.75 337M1004.26 331.2L1000.08 325.4M1004.26 348.3L1000.08 359.6M1020.1 371L1031.75 371M1004.26 365.3L1000.08 359.6M1004.26 382.35L1000.08 393.7M1051.77 325.4L1063.42 325.4M1035.93 331.2L1031.75 337M1035.93 314.15L1031.75 302.9M1051.77 359.6L1063.42 359.6M1035.93 365.3L1031.75 371M1035.93 348.3L1031.75 337" stroke="#E2E232" stroke-width="2.1" fill="none"/>
<ellipse cx="208.03" cy="338.4" rx="6.6" ry="7.26" fill="url(#gIso)"/>
<ellipse cx="208.03" cy="372.4" rx="6.6" ry="7.26" fill="url(#gIso)"/>
<ellipse cx="271.37" cy="338.4" rx="6.6" ry="7.26" fill="url(#gIso)"/>
<ellipse cx="271.37" cy="372.4" rx="6.6" ry="7.26" fill="url(#gIso)"/>
<ellipse cx="334.71" cy="338.4" rx="6.6" ry="7.26" fill="url(#gIso)"/>
<ellipse cx="334.71" cy="372.4" rx="6.6" ry="7.26" fill="url(#gIso)"/>
<ellipse cx="398.05" cy="338.4" rx="6.6" ry="7.26" fill="url(#gIso)"/>
<ellipse cx="398.05" cy="372.4" rx="6.6" ry="7.26" fill="url(#gIso)"/>
<ellipse cx="461.39" cy="338.4" rx="6.6" ry="7.26" fill="url(#gIso)"/>
<ellipse cx="461.39" cy="372.4" rx="6.6" ry="7.26" fill="url(#gIso)"/>
<ellipse cx="524.73" cy="338.4" rx="6.6" ry="7.26" fill="url(#gIso)"/>
<ellipse cx="524.73" cy="372.4" rx="6.6" ry="7.26" fill="url(#gIso)"/>
<ellipse cx="588.07" cy="338.4" rx="6.6" ry="7.26" fill="url(#gIso)"/>
<ellipse cx="588.07" cy="372.4" rx="6.6" ry="7.26" fill="url(#gIso)"/>
<ellipse cx="651.41" cy="338.4" rx="6.6" ry="7.26" fill="url(#gIso)"/>
<ellipse cx="651.41" cy="372.4" rx="6.6" ry="7.26" fill="url(#gIso)"/>
<ellipse cx="714.75" cy="338.4" rx="6.6" ry="7.26" fill="url(#gIso)"/>
<ellipse cx="714.75" cy="372.4" rx="6.6" ry="7.26" fill="url(#gIso)"/>
<ellipse cx="778.09" cy="338.4" rx="6.6" ry="7.26" fill="url(#gIso)"/>
<ellipse cx="778.09" cy="372.4" rx="6.6" ry="7.26" fill="url(#gIso)"/>
<ellipse cx="841.43" cy="338.4" rx="6.6" ry="7.26" fill="url(#gIso)"/>
<ellipse cx="841.43" cy="372.4" rx="6.6" ry="7.26" fill="url(#gIso)"/>
<ellipse cx="904.77" cy="338.4" rx="6.6" ry="7.26" fill="url(#gIso)"/>
<ellipse cx="904.77" cy="372.4" rx="6.6" ry="7.26" fill="url(#gIso)"/>
<ellipse cx="968.11" cy="338.4" rx="6.6" ry="7.26" fill="url(#gIso)"/>
<ellipse cx="968.11" cy="372.4" rx="6.6" ry="7.26" fill="url(#gIso)"/>
<ellipse cx="1031.45" cy="338.4" rx="6.6" ry="7.26" fill="url(#gIso)"/>
<ellipse cx="1031.45" cy="372.4" rx="6.6" ry="7.26" fill="url(#gIso)"/>
<circle cx="151.76" cy="325.4" r="4.96" fill="url(#gMn)"/>
<circle cx="153.36" cy="325.4" r="5.62" fill="url(#gCd)"/>
<circle cx="176.66" cy="325.4" r="4.52" fill="url(#gS)"/>
<circle cx="153.96" cy="360.5" r="5.42" fill="url(#gCd)"/>
<circle cx="152.16" cy="359.6" r="5.46" fill="url(#gMn)"/>
<circle cx="176.66" cy="359.6" r="4.52" fill="url(#gS)"/>
<circle cx="183.43" cy="337" r="4.96" fill="url(#gMn)"/>
<circle cx="185.03" cy="337" r="5.62" fill="url(#gCd)"/>
<circle cx="208.33" cy="337" r="4.52" fill="url(#gS)"/>
<circle cx="185.63" cy="371.9" r="5.42" fill="url(#gCd)"/>
<circle cx="183.83" cy="371" r="5.46" fill="url(#gMn)"/>
<circle cx="208.33" cy="371" r="4.52" fill="url(#gS)"/>
<circle cx="216.7" cy="325.4" r="5.62" fill="url(#gCd)"/>
<circle cx="240" cy="325.4" r="4.52" fill="url(#gS)"/>
<circle cx="216.7" cy="359.6" r="5.62" fill="url(#gCd)"/>
<circle cx="240" cy="359.6" r="4.52" fill="url(#gS)"/>
<circle cx="246.77" cy="337" r="4.96" fill="url(#gMn)"/>
<circle cx="248.37" cy="337" r="5.62" fill="url(#gCd)"/>
<circle cx="271.67" cy="337" r="4.52" fill="url(#gS)"/>
<circle cx="248.97" cy="371.9" r="5.42" fill="url(#gCd)"/>
<circle cx="247.17" cy="371" r="5.46" fill="url(#gMn)"/>
<circle cx="271.67" cy="371" r="4.52" fill="url(#gS)"/>
<circle cx="278.44" cy="325.4" r="4.96" fill="url(#gMn)"/>
<circle cx="280.04" cy="325.4" r="5.62" fill="url(#gCd)"/>
<circle cx="303.34" cy="325.4" r="4.52" fill="url(#gS)"/>
<circle cx="280.64" cy="360.5" r="5.42" fill="url(#gCd)"/>
<circle cx="278.84" cy="359.6" r="5.46" fill="url(#gMn)"/>
<circle cx="303.34" cy="359.6" r="4.52" fill="url(#gS)"/>
<circle cx="310.11" cy="337" r="4.96" fill="url(#gMn)"/>
<circle cx="311.71" cy="337" r="5.62" fill="url(#gCd)"/>
<circle cx="335.01" cy="337" r="4.52" fill="url(#gS)"/>
<circle cx="312.31" cy="371.9" r="5.42" fill="url(#gCd)"/>
<circle cx="310.51" cy="371" r="5.46" fill="url(#gMn)"/>
<circle cx="335.01" cy="371" r="4.52" fill="url(#gS)"/>
<circle cx="341.78" cy="325.4" r="4.96" fill="url(#gMn)"/>
<circle cx="343.38" cy="325.4" r="5.62" fill="url(#gCd)"/>
<circle cx="366.68" cy="325.4" r="4.52" fill="url(#gS)"/>
<circle cx="343.98" cy="360.5" r="5.42" fill="url(#gCd)"/>
<circle cx="342.18" cy="359.6" r="5.46" fill="url(#gMn)"/>
<circle cx="366.68" cy="359.6" r="4.52" fill="url(#gS)"/>
<circle cx="373.45" cy="337" r="4.96" fill="url(#gMn)"/>
<circle cx="375.05" cy="337" r="5.62" fill="url(#gCd)"/>
<circle cx="398.35" cy="337" r="4.52" fill="url(#gS)"/>
<circle cx="375.65" cy="371.9" r="5.42" fill="url(#gCd)"/>
<circle cx="373.85" cy="371" r="5.46" fill="url(#gMn)"/>
<circle cx="398.35" cy="371" r="4.52" fill="url(#gS)"/>
<circle cx="405.12" cy="325.4" r="4.96" fill="url(#gMn)"/>
<circle cx="406.72" cy="325.4" r="5.62" fill="url(#gCd)"/>
<circle cx="430.02" cy="325.4" r="4.52" fill="url(#gS)"/>
<circle cx="407.32" cy="360.5" r="5.42" fill="url(#gCd)"/>
<circle cx="405.52" cy="359.6" r="5.46" fill="url(#gMn)"/>
<circle cx="430.02" cy="359.6" r="4.52" fill="url(#gS)"/>
<circle cx="436.79" cy="337" r="4.96" fill="url(#gMn)"/>
<circle cx="438.39" cy="337" r="5.62" fill="url(#gCd)"/>
<circle cx="461.69" cy="337" r="4.52" fill="url(#gS)"/>
<circle cx="438.99" cy="371.9" r="5.42" fill="url(#gCd)"/>
<circle cx="437.19" cy="371" r="5.46" fill="url(#gMn)"/>
<circle cx="461.69" cy="371" r="4.52" fill="url(#gS)"/>
<circle cx="468.46" cy="325.4" r="4.96" fill="url(#gMn)"/>
<circle cx="470.06" cy="325.4" r="5.62" fill="url(#gCd)"/>
<circle cx="493.36" cy="325.4" r="4.52" fill="url(#gS)"/>
<circle cx="470.66" cy="360.5" r="5.42" fill="url(#gCd)"/>
<circle cx="468.86" cy="359.6" r="5.46" fill="url(#gMn)"/>
<circle cx="493.36" cy="359.6" r="4.52" fill="url(#gS)"/>
<circle cx="500.13" cy="337" r="4.96" fill="url(#gMn)"/>
<circle cx="501.73" cy="337" r="5.62" fill="url(#gCd)"/>
<circle cx="525.03" cy="337" r="4.52" fill="url(#gS)"/>
<circle cx="502.33" cy="371.9" r="5.42" fill="url(#gCd)"/>
<circle cx="500.53" cy="371" r="5.46" fill="url(#gMn)"/>
<circle cx="525.03" cy="371" r="4.52" fill="url(#gS)"/>
<circle cx="531.8" cy="325.4" r="4.96" fill="url(#gMn)"/>
<circle cx="533.4" cy="325.4" r="5.62" fill="url(#gCd)"/>
<circle cx="556.7" cy="325.4" r="4.52" fill="url(#gS)"/>
<circle cx="534" cy="360.5" r="5.42" fill="url(#gCd)"/>
<circle cx="532.2" cy="359.6" r="5.46" fill="url(#gMn)"/>
<circle cx="556.7" cy="359.6" r="4.52" fill="url(#gS)"/>
<circle cx="563.47" cy="337" r="4.96" fill="url(#gMn)"/>
<circle cx="565.07" cy="337" r="5.62" fill="url(#gCd)"/>
<circle cx="588.37" cy="337" r="4.52" fill="url(#gS)"/>
<circle cx="565.67" cy="371.9" r="5.42" fill="url(#gCd)"/>
<circle cx="563.87" cy="371" r="5.46" fill="url(#gMn)"/>
<circle cx="588.37" cy="371" r="4.52" fill="url(#gS)"/>
<circle cx="595.14" cy="325.4" r="4.96" fill="url(#gMn)"/>
<circle cx="596.74" cy="325.4" r="5.62" fill="url(#gCd)"/>
<circle cx="620.04" cy="325.4" r="4.52" fill="url(#gS)"/>
<circle cx="597.34" cy="360.5" r="5.42" fill="url(#gCd)"/>
<circle cx="595.54" cy="359.6" r="5.46" fill="url(#gMn)"/>
<circle cx="620.04" cy="359.6" r="4.52" fill="url(#gS)"/>
<circle cx="626.81" cy="337" r="4.96" fill="url(#gMn)"/>
<circle cx="628.41" cy="337" r="5.62" fill="url(#gCd)"/>
<circle cx="651.71" cy="337" r="4.52" fill="url(#gS)"/>
<circle cx="629.01" cy="371.9" r="5.42" fill="url(#gCd)"/>
<circle cx="627.21" cy="371" r="5.46" fill="url(#gMn)"/>
<circle cx="651.71" cy="371" r="4.52" fill="url(#gS)"/>
<circle cx="658.48" cy="325.4" r="4.96" fill="url(#gMn)"/>
<circle cx="660.08" cy="325.4" r="5.62" fill="url(#gCd)"/>
<circle cx="683.38" cy="325.4" r="4.52" fill="url(#gS)"/>
<circle cx="660.68" cy="360.5" r="5.42" fill="url(#gCd)"/>
<circle cx="658.88" cy="359.6" r="5.46" fill="url(#gMn)"/>
<circle cx="683.38" cy="359.6" r="4.52" fill="url(#gS)"/>
<circle cx="690.15" cy="337" r="4.96" fill="url(#gMn)"/>
<circle cx="691.75" cy="337" r="5.62" fill="url(#gCd)"/>
<circle cx="715.05" cy="337" r="4.52" fill="url(#gS)"/>
<circle cx="692.35" cy="371.9" r="5.42" fill="url(#gCd)"/>
<circle cx="690.55" cy="371" r="5.46" fill="url(#gMn)"/>
<circle cx="715.05" cy="371" r="4.52" fill="url(#gS)"/>
<circle cx="721.82" cy="325.4" r="4.96" fill="url(#gMn)"/>
<circle cx="723.42" cy="325.4" r="5.62" fill="url(#gCd)"/>
<circle cx="746.72" cy="325.4" r="4.52" fill="url(#gS)"/>
<circle cx="724.02" cy="360.5" r="5.42" fill="url(#gCd)"/>
<circle cx="722.22" cy="359.6" r="5.46" fill="url(#gMn)"/>
<circle cx="746.72" cy="359.6" r="4.52" fill="url(#gS)"/>
<circle cx="753.49" cy="337" r="4.96" fill="url(#gMn)"/>
<circle cx="755.09" cy="337" r="5.62" fill="url(#gCd)"/>
<circle cx="778.39" cy="337" r="4.52" fill="url(#gS)"/>
<circle cx="755.69" cy="371.9" r="5.42" fill="url(#gCd)"/>
<circle cx="753.89" cy="371" r="5.46" fill="url(#gMn)"/>
<circle cx="778.39" cy="371" r="4.52" fill="url(#gS)"/>
<circle cx="785.16" cy="325.4" r="4.96" fill="url(#gMn)"/>
<circle cx="786.76" cy="325.4" r="5.62" fill="url(#gCd)"/>
<circle cx="810.06" cy="325.4" r="4.52" fill="url(#gS)"/>
<circle cx="787.36" cy="360.5" r="5.42" fill="url(#gCd)"/>
<circle cx="785.56" cy="359.6" r="5.46" fill="url(#gMn)"/>
<circle cx="810.06" cy="359.6" r="4.52" fill="url(#gS)"/>
<circle cx="816.83" cy="337" r="4.96" fill="url(#gMn)"/>
<circle cx="818.43" cy="337" r="5.62" fill="url(#gCd)"/>
<circle cx="841.73" cy="337" r="4.52" fill="url(#gS)"/>
<circle cx="819.03" cy="371.9" r="5.42" fill="url(#gCd)"/>
<circle cx="817.23" cy="371" r="5.46" fill="url(#gMn)"/>
<circle cx="841.73" cy="371" r="4.52" fill="url(#gS)"/>
<circle cx="848.5" cy="325.4" r="4.96" fill="url(#gMn)"/>
<circle cx="850.1" cy="325.4" r="5.62" fill="url(#gCd)"/>
<circle cx="873.4" cy="325.4" r="4.52" fill="url(#gS)"/>
<circle cx="850.7" cy="360.5" r="5.42" fill="url(#gCd)"/>
<circle cx="848.9" cy="359.6" r="5.46" fill="url(#gMn)"/>
<circle cx="873.4" cy="359.6" r="4.52" fill="url(#gS)"/>
<circle cx="880.17" cy="337" r="4.96" fill="url(#gMn)"/>
<circle cx="881.77" cy="337" r="5.62" fill="url(#gCd)"/>
<circle cx="905.07" cy="337" r="4.52" fill="url(#gS)"/>
<circle cx="882.37" cy="371.9" r="5.42" fill="url(#gCd)"/>
<circle cx="880.57" cy="371" r="5.46" fill="url(#gMn)"/>
<circle cx="905.07" cy="371" r="4.52" fill="url(#gS)"/>
<circle cx="911.84" cy="325.4" r="4.96" fill="url(#gMn)"/>
<circle cx="913.44" cy="325.4" r="5.62" fill="url(#gCd)"/>
<circle cx="936.74" cy="325.4" r="4.52" fill="url(#gS)"/>
<circle cx="914.04" cy="360.5" r="5.42" fill="url(#gCd)"/>
<circle cx="912.24" cy="359.6" r="5.46" fill="url(#gMn)"/>
<circle cx="936.74" cy="359.6" r="4.52" fill="url(#gS)"/>
<circle cx="943.51" cy="337" r="4.96" fill="url(#gMn)"/>
<circle cx="945.11" cy="337" r="5.62" fill="url(#gCd)"/>
<circle cx="968.41" cy="337" r="4.52" fill="url(#gS)"/>
<circle cx="945.71" cy="371.9" r="5.42" fill="url(#gCd)"/>
<circle cx="943.91" cy="371" r="5.46" fill="url(#gMn)"/>
<circle cx="968.41" cy="371" r="4.52" fill="url(#gS)"/>
<circle cx="977.38" cy="326.3" r="5.42" fill="url(#gCd)"/>
<circle cx="975.58" cy="325.4" r="5.46" fill="url(#gMn)"/>
<circle cx="1000.08" cy="325.4" r="4.52" fill="url(#gS)"/>
<circle cx="977.38" cy="360.5" r="5.42" fill="url(#gCd)"/>
<circle cx="975.58" cy="359.6" r="5.46" fill="url(#gMn)"/>
<circle cx="1000.08" cy="359.6" r="4.52" fill="url(#gS)"/>
<circle cx="1006.85" cy="337" r="4.96" fill="url(#gMn)"/>
<circle cx="1008.45" cy="337" r="5.62" fill="url(#gCd)"/>
<circle cx="1031.75" cy="337" r="4.52" fill="url(#gS)"/>
<circle cx="1009.05" cy="371.9" r="5.42" fill="url(#gCd)"/>
<circle cx="1007.25" cy="371" r="5.46" fill="url(#gMn)"/>
<circle cx="1031.75" cy="371" r="4.52" fill="url(#gS)"/>
<circle cx="1038.52" cy="325.4" r="4.96" fill="url(#gMn)"/>
<circle cx="1040.12" cy="325.4" r="5.62" fill="url(#gCd)"/>
<circle cx="1063.42" cy="325.4" r="4.52" fill="url(#gS)"/>
<circle cx="1040.72" cy="360.5" r="5.42" fill="url(#gCd)"/>
<circle cx="1038.92" cy="359.6" r="5.46" fill="url(#gMn)"/>
<circle cx="1063.42" cy="359.6" r="4.52" fill="url(#gS)"/>
<ellipse cx="176.46" cy="326.4" rx="7.2" ry="7.92" fill="url(#gIsoF)"/>
<ellipse cx="176.46" cy="360.6" rx="7.2" ry="7.92" fill="url(#gIsoF)"/>
<ellipse cx="239.8" cy="326.4" rx="7.2" ry="7.92" fill="url(#gIsoF)"/>
<ellipse cx="239.8" cy="360.6" rx="7.2" ry="7.92" fill="url(#gIsoF)"/>
<ellipse cx="303.14" cy="326.4" rx="7.2" ry="7.92" fill="url(#gIsoF)"/>
<ellipse cx="303.14" cy="360.6" rx="7.2" ry="7.92" fill="url(#gIsoF)"/>
<ellipse cx="366.48" cy="326.4" rx="7.2" ry="7.92" fill="url(#gIsoF)"/>
<ellipse cx="366.48" cy="360.6" rx="7.2" ry="7.92" fill="url(#gIsoF)"/>
<ellipse cx="429.82" cy="326.4" rx="7.2" ry="7.92" fill="url(#gIsoF)"/>
<ellipse cx="429.82" cy="360.6" rx="7.2" ry="7.92" fill="url(#gIsoF)"/>
<ellipse cx="493.16" cy="326.4" rx="7.2" ry="7.92" fill="url(#gIsoF)"/>
<ellipse cx="493.16" cy="360.6" rx="7.2" ry="7.92" fill="url(#gIsoF)"/>
<ellipse cx="556.5" cy="326.4" rx="7.2" ry="7.92" fill="url(#gIsoF)"/>
<ellipse cx="556.5" cy="360.6" rx="7.2" ry="7.92" fill="url(#gIsoF)"/>
<ellipse cx="619.84" cy="326.4" rx="7.2" ry="7.92" fill="url(#gIsoF)"/>
<ellipse cx="619.84" cy="360.6" rx="7.2" ry="7.92" fill="url(#gIsoF)"/>
<ellipse cx="683.18" cy="326.4" rx="7.2" ry="7.92" fill="url(#gIsoF)"/>
<ellipse cx="683.18" cy="360.6" rx="7.2" ry="7.92" fill="url(#gIsoF)"/>
<ellipse cx="746.52" cy="326.4" rx="7.2" ry="7.92" fill="url(#gIsoF)"/>
<ellipse cx="746.52" cy="360.6" rx="7.2" ry="7.92" fill="url(#gIsoF)"/>
<ellipse cx="809.86" cy="326.4" rx="7.2" ry="7.92" fill="url(#gIsoF)"/>
<ellipse cx="809.86" cy="360.6" rx="7.2" ry="7.92" fill="url(#gIsoF)"/>
<ellipse cx="873.2" cy="326.4" rx="7.2" ry="7.92" fill="url(#gIsoF)"/>
<ellipse cx="873.2" cy="360.6" rx="7.2" ry="7.92" fill="url(#gIsoF)"/>
<ellipse cx="936.54" cy="326.4" rx="7.2" ry="7.92" fill="url(#gIsoF)"/>
<ellipse cx="936.54" cy="360.6" rx="7.2" ry="7.92" fill="url(#gIsoF)"/>
<ellipse cx="999.88" cy="326.4" rx="7.2" ry="7.92" fill="url(#gIsoF)"/>
<ellipse cx="999.88" cy="360.6" rx="7.2" ry="7.92" fill="url(#gIsoF)"/>
<ellipse cx="1063.22" cy="326.4" rx="7.2" ry="7.92" fill="url(#gIsoF)"/>
<ellipse cx="1063.22" cy="360.6" rx="7.2" ry="7.92" fill="url(#gIsoF)"/>
</g>
<clipPath id="cpb"><rect x="215.8" y="673.6" width="762.5" height="70.4"/></clipPath>
<g clip-path="url(#cpb)">
<path d="M153.56 686.7L164.86 686.7M153.56 686.7L149.03 692.4M153.56 686.7L149.03 675.55M185.23 698.1L196.53 698.1M185.23 698.1L180.69 692.4M185.23 698.1L180.69 709.25M216.9 686.7L228.2 686.7M216.9 686.7L212.37 692.4M216.9 686.7L212.37 675.55M216.9 720.4L228.2 720.4M216.9 720.4L212.37 726.1M216.9 720.4L212.37 709.25M248.57 698.1L259.87 698.1M248.57 698.1L244.03 692.4M248.57 698.1L244.03 709.25M280.24 686.7L291.54 686.7M280.24 686.7L275.71 692.4M280.24 686.7L275.71 675.55M311.91 698.1L323.21 698.1M311.91 698.1L307.38 692.4M311.91 698.1L307.38 709.25M343.58 686.7L354.88 686.7M343.58 686.7L339.05 692.4M343.58 686.7L339.05 675.55M375.25 698.1L386.55 698.1M375.25 698.1L370.72 692.4M375.25 698.1L370.72 709.25M406.92 686.7L418.22 686.7M406.92 686.7L402.38 692.4M406.92 686.7L402.38 675.55M438.59 698.1L449.89 698.1M438.59 698.1L434.06 692.4M438.59 698.1L434.06 709.25M470.26 686.7L481.56 686.7M470.26 686.7L465.73 692.4M470.26 686.7L465.73 675.55M501.93 698.1L513.23 698.1M501.93 698.1L497.4 692.4M501.93 698.1L497.4 709.25M533.6 686.7L544.9 686.7M533.6 686.7L529.07 692.4M533.6 686.7L529.07 675.55M565.27 698.1L576.57 698.1M565.27 698.1L560.74 692.4M565.27 698.1L560.74 709.25M596.94 686.7L608.24 686.7M596.94 686.7L592.4 692.4M596.94 686.7L592.4 675.55M628.61 698.1L639.91 698.1M628.61 698.1L624.08 692.4M628.61 698.1L624.08 709.25M660.28 686.7L671.58 686.7M660.28 686.7L655.75 692.4M660.28 686.7L655.75 675.55M691.95 698.1L703.25 698.1M691.95 698.1L687.41 692.4M691.95 698.1L687.41 709.25M723.62 686.7L734.92 686.7M723.62 686.7L719.09 692.4M723.62 686.7L719.09 675.55M755.29 698.1L766.59 698.1M755.29 698.1L750.75 692.4M755.29 698.1L750.75 709.25M786.96 686.7L798.26 686.7M786.96 686.7L782.42 692.4M786.96 686.7L782.42 675.55M818.63 698.1L829.93 698.1M818.63 698.1L814.1 692.4M818.63 698.1L814.1 709.25M850.3 686.7L861.6 686.7M850.3 686.7L845.77 692.4M850.3 686.7L845.77 675.55M881.97 698.1L893.27 698.1M881.97 698.1L877.44 692.4M881.97 698.1L877.44 709.25M913.64 686.7L924.94 686.7M913.64 686.7L909.11 692.4M913.64 686.7L909.11 675.55M945.31 698.1L956.61 698.1M945.31 698.1L940.78 692.4M945.31 698.1L940.78 709.25M1008.65 698.1L1019.95 698.1M1008.65 698.1L1004.12 692.4M1008.65 698.1L1004.12 709.25M1040.32 686.7L1051.62 686.7M1040.32 686.7L1035.79 692.4M1040.32 686.7L1035.79 675.55" stroke="#E58A32" stroke-width="2.1" fill="none"/>
<path d="M153.56 720.4L164.86 720.4M153.56 720.4L149.03 726.1M153.56 720.4L149.03 709.25M185.23 731.8L196.53 731.8M185.23 731.8L180.69 726.1M185.23 731.8L180.69 742.95M248.57 731.8L259.87 731.8M248.57 731.8L244.03 726.1M248.57 731.8L244.03 742.95M280.24 720.4L291.54 720.4M280.24 720.4L275.71 726.1M280.24 720.4L275.71 709.25M311.91 731.8L323.21 731.8M311.91 731.8L307.38 726.1M311.91 731.8L307.38 742.95M343.58 720.4L354.88 720.4M343.58 720.4L339.05 726.1M343.58 720.4L339.05 709.25M375.25 731.8L386.55 731.8M375.25 731.8L370.72 726.1M375.25 731.8L370.72 742.95M406.92 720.4L418.22 720.4M406.92 720.4L402.38 726.1M406.92 720.4L402.38 709.25M438.59 731.8L449.89 731.8M438.59 731.8L434.06 726.1M438.59 731.8L434.06 742.95M470.26 720.4L481.56 720.4M470.26 720.4L465.73 726.1M470.26 720.4L465.73 709.25M501.93 731.8L513.23 731.8M501.93 731.8L497.4 726.1M501.93 731.8L497.4 742.95M533.6 720.4L544.9 720.4M533.6 720.4L529.07 726.1M533.6 720.4L529.07 709.25M565.27 731.8L576.57 731.8M565.27 731.8L560.74 726.1M565.27 731.8L560.74 742.95M596.94 720.4L608.24 720.4M596.94 720.4L592.4 726.1M596.94 720.4L592.4 709.25M628.61 731.8L639.91 731.8M628.61 731.8L624.08 726.1M628.61 731.8L624.08 742.95M660.28 720.4L671.58 720.4M660.28 720.4L655.75 726.1M660.28 720.4L655.75 709.25M691.95 731.8L703.25 731.8M691.95 731.8L687.41 726.1M691.95 731.8L687.41 742.95M723.62 720.4L734.92 720.4M723.62 720.4L719.09 726.1M723.62 720.4L719.09 709.25M755.29 731.8L766.59 731.8M755.29 731.8L750.75 726.1M755.29 731.8L750.75 742.95M786.96 720.4L798.26 720.4M786.96 720.4L782.42 726.1M786.96 720.4L782.42 709.25M818.63 731.8L829.93 731.8M818.63 731.8L814.1 726.1M818.63 731.8L814.1 742.95M850.3 720.4L861.6 720.4M850.3 720.4L845.77 726.1M850.3 720.4L845.77 709.25M881.97 731.8L893.27 731.8M881.97 731.8L877.44 726.1M881.97 731.8L877.44 742.95M913.64 720.4L924.94 720.4M913.64 720.4L909.11 726.1M913.64 720.4L909.11 709.25M945.31 731.8L956.61 731.8M945.31 731.8L940.78 726.1M945.31 731.8L940.78 742.95M976.98 686.7L988.28 686.7M976.98 686.7L972.45 692.4M976.98 686.7L972.45 675.55M976.98 720.4L988.28 720.4M976.98 720.4L972.45 726.1M976.98 720.4L972.45 709.25M1008.65 731.8L1019.95 731.8M1008.65 731.8L1004.12 726.1M1008.65 731.8L1004.12 742.95M1040.32 720.4L1051.62 720.4M1040.32 720.4L1035.79 726.1M1040.32 720.4L1035.79 709.25" stroke="#9A9AE6" stroke-width="2.1" fill="none"/>
<path d="M164.86 686.7L176.16 686.7M149.03 692.4L144.49 698.1M149.03 675.55L144.49 664.4M164.86 720.4L176.16 720.4M149.03 726.1L144.49 731.8M149.03 709.25L144.49 698.1M196.53 698.1L207.83 698.1M180.69 692.4L176.16 686.7M180.69 709.25L176.16 720.4M196.53 731.8L207.83 731.8M180.69 726.1L176.16 720.4M180.69 742.95L176.16 754.1M228.2 686.7L239.5 686.7M212.37 692.4L207.83 698.1M212.37 675.55L207.83 664.4M228.2 720.4L239.5 720.4M212.37 726.1L207.83 731.8M212.37 709.25L207.83 698.1M259.87 698.1L271.17 698.1M244.03 692.4L239.5 686.7M244.03 709.25L239.5 720.4M259.87 731.8L271.17 731.8M244.03 726.1L239.5 720.4M244.03 742.95L239.5 754.1M291.54 686.7L302.84 686.7M275.71 692.4L271.17 698.1M275.71 675.55L271.17 664.4M291.54 720.4L302.84 720.4M275.71 726.1L271.17 731.8M275.71 709.25L271.17 698.1M323.21 698.1L334.51 698.1M307.38 692.4L302.84 686.7M307.38 709.25L302.84 720.4M323.21 731.8L334.51 731.8M307.38 726.1L302.84 720.4M307.38 742.95L302.84 754.1M354.88 686.7L366.18 686.7M339.05 692.4L334.51 698.1M339.05 675.55L334.51 664.4M354.88 720.4L366.18 720.4M339.05 726.1L334.51 731.8M339.05 709.25L334.51 698.1M386.55 698.1L397.85 698.1M370.72 692.4L366.18 686.7M370.72 709.25L366.18 720.4M386.55 731.8L397.85 731.8M370.72 726.1L366.18 720.4M370.72 742.95L366.18 754.1M418.22 686.7L429.52 686.7M402.38 692.4L397.85 698.1M402.38 675.55L397.85 664.4M418.22 720.4L429.52 720.4M402.38 726.1L397.85 731.8M402.38 709.25L397.85 698.1M449.89 698.1L461.19 698.1M434.06 692.4L429.52 686.7M434.06 709.25L429.52 720.4M449.89 731.8L461.19 731.8M434.06 726.1L429.52 720.4M434.06 742.95L429.52 754.1M481.56 686.7L492.86 686.7M465.73 692.4L461.19 698.1M465.73 675.55L461.19 664.4M481.56 720.4L492.86 720.4M465.73 726.1L461.19 731.8M465.73 709.25L461.19 698.1M513.23 698.1L524.53 698.1M497.4 692.4L492.86 686.7M497.4 709.25L492.86 720.4M513.23 731.8L524.53 731.8M497.4 726.1L492.86 720.4M497.4 742.95L492.86 754.1M544.9 686.7L556.2 686.7M529.07 692.4L524.53 698.1M529.07 675.55L524.53 664.4M544.9 720.4L556.2 720.4M529.07 726.1L524.53 731.8M529.07 709.25L524.53 698.1M576.57 698.1L587.87 698.1M560.74 692.4L556.2 686.7M560.74 709.25L556.2 720.4M576.57 731.8L587.87 731.8M560.74 726.1L556.2 720.4M560.74 742.95L556.2 754.1M608.24 686.7L619.54 686.7M592.4 692.4L587.87 698.1M592.4 675.55L587.87 664.4M608.24 720.4L619.54 720.4M592.4 726.1L587.87 731.8M592.4 709.25L587.87 698.1M639.91 698.1L651.21 698.1M624.08 692.4L619.54 686.7M624.08 709.25L619.54 720.4M639.91 731.8L651.21 731.8M624.08 726.1L619.54 720.4M624.08 742.95L619.54 754.1M671.58 686.7L682.88 686.7M655.75 692.4L651.21 698.1M655.75 675.55L651.21 664.4M671.58 720.4L682.88 720.4M655.75 726.1L651.21 731.8M655.75 709.25L651.21 698.1M703.25 698.1L714.55 698.1M687.41 692.4L682.88 686.7M687.41 709.25L682.88 720.4M703.25 731.8L714.55 731.8M687.41 726.1L682.88 720.4M687.41 742.95L682.88 754.1M734.92 686.7L746.22 686.7M719.09 692.4L714.55 698.1M719.09 675.55L714.55 664.4M734.92 720.4L746.22 720.4M719.09 726.1L714.55 731.8M719.09 709.25L714.55 698.1M766.59 698.1L777.89 698.1M750.75 692.4L746.22 686.7M750.75 709.25L746.22 720.4M766.59 731.8L777.89 731.8M750.75 726.1L746.22 720.4M750.75 742.95L746.22 754.1M798.26 686.7L809.56 686.7M782.42 692.4L777.89 698.1M782.42 675.55L777.89 664.4M798.26 720.4L809.56 720.4M782.42 726.1L777.89 731.8M782.42 709.25L777.89 698.1M829.93 698.1L841.23 698.1M814.1 692.4L809.56 686.7M814.1 709.25L809.56 720.4M829.93 731.8L841.23 731.8M814.1 726.1L809.56 720.4M814.1 742.95L809.56 754.1M861.6 686.7L872.9 686.7M845.77 692.4L841.23 698.1M845.77 675.55L841.23 664.4M861.6 720.4L872.9 720.4M845.77 726.1L841.23 731.8M845.77 709.25L841.23 698.1M893.27 698.1L904.57 698.1M877.44 692.4L872.9 686.7M877.44 709.25L872.9 720.4M893.27 731.8L904.57 731.8M877.44 726.1L872.9 720.4M877.44 742.95L872.9 754.1M924.94 686.7L936.24 686.7M909.11 692.4L904.57 698.1M909.11 675.55L904.57 664.4M924.94 720.4L936.24 720.4M909.11 726.1L904.57 731.8M909.11 709.25L904.57 698.1M956.61 698.1L967.91 698.1M940.78 692.4L936.24 686.7M940.78 709.25L936.24 720.4M956.61 731.8L967.91 731.8M940.78 726.1L936.24 720.4M940.78 742.95L936.24 754.1M988.28 686.7L999.58 686.7M972.45 692.4L967.91 698.1M972.45 675.55L967.91 664.4M988.28 720.4L999.58 720.4M972.45 726.1L967.91 731.8M972.45 709.25L967.91 698.1M1019.95 698.1L1031.25 698.1M1004.12 692.4L999.58 686.7M1004.12 709.25L999.58 720.4M1019.95 731.8L1031.25 731.8M1004.12 726.1L999.58 720.4M1004.12 742.95L999.58 754.1M1051.62 686.7L1062.92 686.7M1035.79 692.4L1031.25 698.1M1035.79 675.55L1031.25 664.4M1051.62 720.4L1062.92 720.4M1035.79 726.1L1031.25 731.8M1035.79 709.25L1031.25 698.1" stroke="#E2E232" stroke-width="2.1" fill="none"/>
<circle cx="151.96" cy="686.7" r="4.96" fill="url(#gMn)"/>
<circle cx="153.56" cy="686.7" r="5.62" fill="url(#gCd)"/>
<circle cx="176.16" cy="686.7" r="4.52" fill="url(#gS)"/>
<circle cx="154.16" cy="721.3" r="5.42" fill="url(#gCd)"/>
<circle cx="152.36" cy="720.4" r="5.46" fill="url(#gMn)"/>
<circle cx="176.16" cy="720.4" r="4.52" fill="url(#gS)"/>
<circle cx="183.63" cy="698.1" r="4.96" fill="url(#gMn)"/>
<circle cx="185.23" cy="698.1" r="5.62" fill="url(#gCd)"/>
<circle cx="207.83" cy="698.1" r="4.52" fill="url(#gS)"/>
<circle cx="185.83" cy="732.7" r="5.42" fill="url(#gCd)"/>
<circle cx="184.03" cy="731.8" r="5.46" fill="url(#gMn)"/>
<circle cx="207.83" cy="731.8" r="4.52" fill="url(#gS)"/>
<circle cx="216.9" cy="686.7" r="5.62" fill="url(#gCd)"/>
<circle cx="239.5" cy="686.7" r="4.52" fill="url(#gS)"/>
<circle cx="216.9" cy="720.4" r="5.62" fill="url(#gCd)"/>
<circle cx="239.5" cy="720.4" r="4.52" fill="url(#gS)"/>
<circle cx="246.97" cy="698.1" r="4.96" fill="url(#gMn)"/>
<circle cx="248.57" cy="698.1" r="5.62" fill="url(#gCd)"/>
<circle cx="271.17" cy="698.1" r="4.52" fill="url(#gS)"/>
<circle cx="249.17" cy="732.7" r="5.42" fill="url(#gCd)"/>
<circle cx="247.37" cy="731.8" r="5.46" fill="url(#gMn)"/>
<circle cx="271.17" cy="731.8" r="4.52" fill="url(#gS)"/>
<circle cx="278.64" cy="686.7" r="4.96" fill="url(#gMn)"/>
<circle cx="280.24" cy="686.7" r="5.62" fill="url(#gCd)"/>
<circle cx="302.84" cy="686.7" r="4.52" fill="url(#gS)"/>
<circle cx="280.84" cy="721.3" r="5.42" fill="url(#gCd)"/>
<circle cx="279.04" cy="720.4" r="5.46" fill="url(#gMn)"/>
<circle cx="302.84" cy="720.4" r="4.52" fill="url(#gS)"/>
<circle cx="310.31" cy="698.1" r="4.96" fill="url(#gMn)"/>
<circle cx="311.91" cy="698.1" r="5.62" fill="url(#gCd)"/>
<circle cx="334.51" cy="698.1" r="4.52" fill="url(#gS)"/>
<circle cx="312.51" cy="732.7" r="5.42" fill="url(#gCd)"/>
<circle cx="310.71" cy="731.8" r="5.46" fill="url(#gMn)"/>
<circle cx="334.51" cy="731.8" r="4.52" fill="url(#gS)"/>
<circle cx="341.98" cy="686.7" r="4.96" fill="url(#gMn)"/>
<circle cx="343.58" cy="686.7" r="5.62" fill="url(#gCd)"/>
<circle cx="366.18" cy="686.7" r="4.52" fill="url(#gS)"/>
<circle cx="344.18" cy="721.3" r="5.42" fill="url(#gCd)"/>
<circle cx="342.38" cy="720.4" r="5.46" fill="url(#gMn)"/>
<circle cx="366.18" cy="720.4" r="4.52" fill="url(#gS)"/>
<circle cx="373.65" cy="698.1" r="4.96" fill="url(#gMn)"/>
<circle cx="375.25" cy="698.1" r="5.62" fill="url(#gCd)"/>
<circle cx="397.85" cy="698.1" r="4.52" fill="url(#gS)"/>
<circle cx="375.85" cy="732.7" r="5.42" fill="url(#gCd)"/>
<circle cx="374.05" cy="731.8" r="5.46" fill="url(#gMn)"/>
<circle cx="397.85" cy="731.8" r="4.52" fill="url(#gS)"/>
<circle cx="405.32" cy="686.7" r="4.96" fill="url(#gMn)"/>
<circle cx="406.92" cy="686.7" r="5.62" fill="url(#gCd)"/>
<circle cx="429.52" cy="686.7" r="4.52" fill="url(#gS)"/>
<circle cx="407.52" cy="721.3" r="5.42" fill="url(#gCd)"/>
<circle cx="405.72" cy="720.4" r="5.46" fill="url(#gMn)"/>
<circle cx="429.52" cy="720.4" r="4.52" fill="url(#gS)"/>
<circle cx="436.99" cy="698.1" r="4.96" fill="url(#gMn)"/>
<circle cx="438.59" cy="698.1" r="5.62" fill="url(#gCd)"/>
<circle cx="461.19" cy="698.1" r="4.52" fill="url(#gS)"/>
<circle cx="439.19" cy="732.7" r="5.42" fill="url(#gCd)"/>
<circle cx="437.39" cy="731.8" r="5.46" fill="url(#gMn)"/>
<circle cx="461.19" cy="731.8" r="4.52" fill="url(#gS)"/>
<circle cx="468.66" cy="686.7" r="4.96" fill="url(#gMn)"/>
<circle cx="470.26" cy="686.7" r="5.62" fill="url(#gCd)"/>
<circle cx="492.86" cy="686.7" r="4.52" fill="url(#gS)"/>
<circle cx="470.86" cy="721.3" r="5.42" fill="url(#gCd)"/>
<circle cx="469.06" cy="720.4" r="5.46" fill="url(#gMn)"/>
<circle cx="492.86" cy="720.4" r="4.52" fill="url(#gS)"/>
<circle cx="500.33" cy="698.1" r="4.96" fill="url(#gMn)"/>
<circle cx="501.93" cy="698.1" r="5.62" fill="url(#gCd)"/>
<circle cx="524.53" cy="698.1" r="4.52" fill="url(#gS)"/>
<circle cx="502.53" cy="732.7" r="5.42" fill="url(#gCd)"/>
<circle cx="500.73" cy="731.8" r="5.46" fill="url(#gMn)"/>
<circle cx="524.53" cy="731.8" r="4.52" fill="url(#gS)"/>
<circle cx="532" cy="686.7" r="4.96" fill="url(#gMn)"/>
<circle cx="533.6" cy="686.7" r="5.62" fill="url(#gCd)"/>
<circle cx="556.2" cy="686.7" r="4.52" fill="url(#gS)"/>
<circle cx="534.2" cy="721.3" r="5.42" fill="url(#gCd)"/>
<circle cx="532.4" cy="720.4" r="5.46" fill="url(#gMn)"/>
<circle cx="556.2" cy="720.4" r="4.52" fill="url(#gS)"/>
<circle cx="563.67" cy="698.1" r="4.96" fill="url(#gMn)"/>
<circle cx="565.27" cy="698.1" r="5.62" fill="url(#gCd)"/>
<circle cx="587.87" cy="698.1" r="4.52" fill="url(#gS)"/>
<circle cx="565.87" cy="732.7" r="5.42" fill="url(#gCd)"/>
<circle cx="564.07" cy="731.8" r="5.46" fill="url(#gMn)"/>
<circle cx="587.87" cy="731.8" r="4.52" fill="url(#gS)"/>
<circle cx="595.34" cy="686.7" r="4.96" fill="url(#gMn)"/>
<circle cx="596.94" cy="686.7" r="5.62" fill="url(#gCd)"/>
<circle cx="619.54" cy="686.7" r="4.52" fill="url(#gS)"/>
<circle cx="597.54" cy="721.3" r="5.42" fill="url(#gCd)"/>
<circle cx="595.74" cy="720.4" r="5.46" fill="url(#gMn)"/>
<circle cx="619.54" cy="720.4" r="4.52" fill="url(#gS)"/>
<circle cx="627.01" cy="698.1" r="4.96" fill="url(#gMn)"/>
<circle cx="628.61" cy="698.1" r="5.62" fill="url(#gCd)"/>
<circle cx="651.21" cy="698.1" r="4.52" fill="url(#gS)"/>
<circle cx="629.21" cy="732.7" r="5.42" fill="url(#gCd)"/>
<circle cx="627.41" cy="731.8" r="5.46" fill="url(#gMn)"/>
<circle cx="651.21" cy="731.8" r="4.52" fill="url(#gS)"/>
<circle cx="658.68" cy="686.7" r="4.96" fill="url(#gMn)"/>
<circle cx="660.28" cy="686.7" r="5.62" fill="url(#gCd)"/>
<circle cx="682.88" cy="686.7" r="4.52" fill="url(#gS)"/>
<circle cx="660.88" cy="721.3" r="5.42" fill="url(#gCd)"/>
<circle cx="659.08" cy="720.4" r="5.46" fill="url(#gMn)"/>
<circle cx="682.88" cy="720.4" r="4.52" fill="url(#gS)"/>
<circle cx="690.35" cy="698.1" r="4.96" fill="url(#gMn)"/>
<circle cx="691.95" cy="698.1" r="5.62" fill="url(#gCd)"/>
<circle cx="714.55" cy="698.1" r="4.52" fill="url(#gS)"/>
<circle cx="692.55" cy="732.7" r="5.42" fill="url(#gCd)"/>
<circle cx="690.75" cy="731.8" r="5.46" fill="url(#gMn)"/>
<circle cx="714.55" cy="731.8" r="4.52" fill="url(#gS)"/>
<circle cx="722.02" cy="686.7" r="4.96" fill="url(#gMn)"/>
<circle cx="723.62" cy="686.7" r="5.62" fill="url(#gCd)"/>
<circle cx="746.22" cy="686.7" r="4.52" fill="url(#gS)"/>
<circle cx="724.22" cy="721.3" r="5.42" fill="url(#gCd)"/>
<circle cx="722.42" cy="720.4" r="5.46" fill="url(#gMn)"/>
<circle cx="746.22" cy="720.4" r="4.52" fill="url(#gS)"/>
<circle cx="753.69" cy="698.1" r="4.96" fill="url(#gMn)"/>
<circle cx="755.29" cy="698.1" r="5.62" fill="url(#gCd)"/>
<circle cx="777.89" cy="698.1" r="4.52" fill="url(#gS)"/>
<circle cx="755.89" cy="732.7" r="5.42" fill="url(#gCd)"/>
<circle cx="754.09" cy="731.8" r="5.46" fill="url(#gMn)"/>
<circle cx="777.89" cy="731.8" r="4.52" fill="url(#gS)"/>
<circle cx="785.36" cy="686.7" r="4.96" fill="url(#gMn)"/>
<circle cx="786.96" cy="686.7" r="5.62" fill="url(#gCd)"/>
<circle cx="809.56" cy="686.7" r="4.52" fill="url(#gS)"/>
<circle cx="787.56" cy="721.3" r="5.42" fill="url(#gCd)"/>
<circle cx="785.76" cy="720.4" r="5.46" fill="url(#gMn)"/>
<circle cx="809.56" cy="720.4" r="4.52" fill="url(#gS)"/>
<circle cx="817.03" cy="698.1" r="4.96" fill="url(#gMn)"/>
<circle cx="818.63" cy="698.1" r="5.62" fill="url(#gCd)"/>
<circle cx="841.23" cy="698.1" r="4.52" fill="url(#gS)"/>
<circle cx="819.23" cy="732.7" r="5.42" fill="url(#gCd)"/>
<circle cx="817.43" cy="731.8" r="5.46" fill="url(#gMn)"/>
<circle cx="841.23" cy="731.8" r="4.52" fill="url(#gS)"/>
<circle cx="848.7" cy="686.7" r="4.96" fill="url(#gMn)"/>
<circle cx="850.3" cy="686.7" r="5.62" fill="url(#gCd)"/>
<circle cx="872.9" cy="686.7" r="4.52" fill="url(#gS)"/>
<circle cx="850.9" cy="721.3" r="5.42" fill="url(#gCd)"/>
<circle cx="849.1" cy="720.4" r="5.46" fill="url(#gMn)"/>
<circle cx="872.9" cy="720.4" r="4.52" fill="url(#gS)"/>
<circle cx="880.37" cy="698.1" r="4.96" fill="url(#gMn)"/>
<circle cx="881.97" cy="698.1" r="5.62" fill="url(#gCd)"/>
<circle cx="904.57" cy="698.1" r="4.52" fill="url(#gS)"/>
<circle cx="882.57" cy="732.7" r="5.42" fill="url(#gCd)"/>
<circle cx="880.77" cy="731.8" r="5.46" fill="url(#gMn)"/>
<circle cx="904.57" cy="731.8" r="4.52" fill="url(#gS)"/>
<circle cx="912.04" cy="686.7" r="4.96" fill="url(#gMn)"/>
<circle cx="913.64" cy="686.7" r="5.62" fill="url(#gCd)"/>
<circle cx="936.24" cy="686.7" r="4.52" fill="url(#gS)"/>
<circle cx="914.24" cy="721.3" r="5.42" fill="url(#gCd)"/>
<circle cx="912.44" cy="720.4" r="5.46" fill="url(#gMn)"/>
<circle cx="936.24" cy="720.4" r="4.52" fill="url(#gS)"/>
<circle cx="943.71" cy="698.1" r="4.96" fill="url(#gMn)"/>
<circle cx="945.31" cy="698.1" r="5.62" fill="url(#gCd)"/>
<circle cx="967.91" cy="698.1" r="4.52" fill="url(#gS)"/>
<circle cx="945.91" cy="732.7" r="5.42" fill="url(#gCd)"/>
<circle cx="944.11" cy="731.8" r="5.46" fill="url(#gMn)"/>
<circle cx="967.91" cy="731.8" r="4.52" fill="url(#gS)"/>
<circle cx="977.58" cy="687.6" r="5.42" fill="url(#gCd)"/>
<circle cx="975.78" cy="686.7" r="5.46" fill="url(#gMn)"/>
<circle cx="999.58" cy="686.7" r="4.52" fill="url(#gS)"/>
<circle cx="977.58" cy="721.3" r="5.42" fill="url(#gCd)"/>
<circle cx="975.78" cy="720.4" r="5.46" fill="url(#gMn)"/>
<circle cx="999.58" cy="720.4" r="4.52" fill="url(#gS)"/>
<circle cx="1007.05" cy="698.1" r="4.96" fill="url(#gMn)"/>
<circle cx="1008.65" cy="698.1" r="5.62" fill="url(#gCd)"/>
<circle cx="1031.25" cy="698.1" r="4.52" fill="url(#gS)"/>
<circle cx="1009.25" cy="732.7" r="5.42" fill="url(#gCd)"/>
<circle cx="1007.45" cy="731.8" r="5.46" fill="url(#gMn)"/>
<circle cx="1031.25" cy="731.8" r="4.52" fill="url(#gS)"/>
<circle cx="1038.72" cy="686.7" r="4.96" fill="url(#gMn)"/>
<circle cx="1040.32" cy="686.7" r="5.62" fill="url(#gCd)"/>
<circle cx="1062.92" cy="686.7" r="4.52" fill="url(#gS)"/>
<circle cx="1040.92" cy="721.3" r="5.42" fill="url(#gCd)"/>
<circle cx="1039.12" cy="720.4" r="5.46" fill="url(#gMn)"/>
<circle cx="1062.92" cy="720.4" r="4.52" fill="url(#gS)"/>
</g>
<clipPath id="cpcC"><rect x="1207.8" y="5" width="761.1" height="69.7"/></clipPath>
<g clip-path="url(#cpcC)">
<path d="M1146.3 16.8L1157.75 16.8M1146.3 16.8L1141.92 22.8M1146.3 16.8L1141.92 6.4M1177.95 28.8L1189.4 28.8M1177.95 28.8L1173.57 22.8M1177.95 28.8L1173.57 39.85M1209.6 16.8L1221.05 16.8M1209.6 16.8L1205.22 22.8M1209.6 16.8L1205.22 6.4M1209.6 50.9L1221.05 50.9M1209.6 50.9L1205.22 56.65M1209.6 50.9L1205.22 39.85M1241.25 28.8L1252.7 28.8M1241.25 28.8L1236.88 22.8M1241.25 28.8L1236.88 39.85M1272.9 16.8L1284.35 16.8M1272.9 16.8L1268.53 22.8M1272.9 16.8L1268.53 6.4M1304.55 28.8L1316 28.8M1304.55 28.8L1300.17 22.8M1304.55 28.8L1300.17 39.85M1336.2 7L1347.65 7M1336.2 7L1331.82 1.5M1336.2 7L1331.82 17.9M1336.2 39.9L1347.65 39.9M1336.2 39.9L1331.82 34.35M1336.2 39.9L1331.82 51.15M1367.85 16.8L1379.3 16.8M1367.85 16.8L1363.47 11.9M1367.85 16.8L1363.47 28.35M1399.5 28.8L1410.95 28.8M1399.5 28.8L1395.12 22.8M1399.5 28.8L1395.12 39.85M1431.15 7L1442.6 7M1431.15 7L1426.78 1.5M1431.15 7L1426.78 17.9M1431.15 39.9L1442.6 39.9M1431.15 39.9L1426.78 34.35M1431.15 39.9L1426.78 51.15M1462.8 16.8L1474.25 16.8M1462.8 16.8L1458.42 11.9M1462.8 16.8L1458.42 28.35M1494.45 28.8L1505.9 28.8M1494.45 28.8L1490.07 22.8M1494.45 28.8L1490.07 39.85M1526.1 16.8L1537.55 16.8M1526.1 16.8L1521.72 22.8M1526.1 16.8L1521.72 6.4M1557.75 28.8L1569.2 28.8M1557.75 28.8L1553.38 22.8M1557.75 28.8L1553.38 39.85M1589.4 16.8L1600.85 16.8M1589.4 16.8L1585.03 22.8M1589.4 16.8L1585.03 6.4M1621.05 28.8L1632.5 28.8M1621.05 28.8L1616.67 22.8M1621.05 28.8L1616.67 39.85M1652.7 16.8L1664.15 16.8M1652.7 16.8L1648.32 22.8M1652.7 16.8L1648.32 6.4M1684.35 28.8L1695.8 28.8M1684.35 28.8L1679.97 22.8M1684.35 28.8L1679.97 39.85M1716 7L1727.45 7M1716 7L1711.62 1.5M1716 7L1711.62 17.9M1716 39.9L1727.45 39.9M1716 39.9L1711.62 34.35M1716 39.9L1711.62 51.15M1747.65 16.8L1759.1 16.8M1747.65 16.8L1743.28 11.9M1747.65 16.8L1743.28 28.35M1779.3 28.8L1790.75 28.8M1779.3 28.8L1774.92 22.8M1779.3 28.8L1774.92 39.85M1810.95 7L1822.4 7M1810.95 7L1806.57 1.5M1810.95 7L1806.57 17.9M1810.95 39.9L1822.4 39.9M1810.95 39.9L1806.57 34.35M1810.95 39.9L1806.57 51.15M1842.6 16.8L1854.05 16.8M1842.6 16.8L1838.22 11.9M1842.6 16.8L1838.22 28.35M1874.25 28.8L1885.7 28.8M1874.25 28.8L1869.88 22.8M1874.25 28.8L1869.88 39.85M1905.9 16.8L1917.35 16.8M1905.9 16.8L1901.53 22.8M1905.9 16.8L1901.53 6.4M1937.55 28.8L1949 28.8M1937.55 28.8L1933.17 22.8M1937.55 28.8L1933.17 39.85M2000.85 28.8L2012.3 28.8M2000.85 28.8L1996.47 22.8M2000.85 28.8L1996.47 39.85M2032.5 16.8L2043.95 16.8M2032.5 16.8L2028.12 22.8M2032.5 16.8L2028.12 6.4" stroke="#E58A32" stroke-width="2.1" fill="none"/>
<path d="M1146.3 50.9L1157.75 50.9M1146.3 50.9L1141.92 56.65M1146.3 50.9L1141.92 39.85M1177.95 62.4L1189.4 62.4M1177.95 62.4L1173.57 56.65M1177.95 62.4L1173.57 73.05M1241.25 62.4L1252.7 62.4M1241.25 62.4L1236.88 56.65M1241.25 62.4L1236.88 73.05M1272.9 50.9L1284.35 50.9M1272.9 50.9L1268.53 56.65M1272.9 50.9L1268.53 39.85M1304.55 62.4L1316 62.4M1304.55 62.4L1300.17 56.65M1304.55 62.4L1300.17 73.05M1336.2 72.6L1347.65 72.6M1336.2 72.6L1331.82 67.5M1336.2 72.6L1331.82 83.9M1367.85 50.9L1379.3 50.9M1367.85 50.9L1363.47 45.4M1367.85 50.9L1363.47 61.75M1399.5 62.4L1410.95 62.4M1399.5 62.4L1395.12 56.65M1399.5 62.4L1395.12 73.05M1431.15 72.6L1442.6 72.6M1431.15 72.6L1426.78 67.5M1431.15 72.6L1426.78 83.9M1462.8 50.9L1474.25 50.9M1462.8 50.9L1458.42 45.4M1462.8 50.9L1458.42 61.75M1494.45 62.4L1505.9 62.4M1494.45 62.4L1490.07 56.65M1494.45 62.4L1490.07 73.05M1526.1 50.9L1537.55 50.9M1526.1 50.9L1521.72 56.65M1526.1 50.9L1521.72 39.85M1557.75 62.4L1569.2 62.4M1557.75 62.4L1553.38 56.65M1557.75 62.4L1553.38 73.05M1589.4 50.9L1600.85 50.9M1589.4 50.9L1585.03 56.65M1589.4 50.9L1585.03 39.85M1621.05 62.4L1632.5 62.4M1621.05 62.4L1616.67 56.65M1621.05 62.4L1616.67 73.05M1652.7 50.9L1664.15 50.9M1652.7 50.9L1648.32 56.65M1652.7 50.9L1648.32 39.85M1684.35 62.4L1695.8 62.4M1684.35 62.4L1679.97 56.65M1684.35 62.4L1679.97 73.05M1716 72.6L1727.45 72.6M1716 72.6L1711.62 67.5M1716 72.6L1711.62 83.9M1747.65 50.9L1759.1 50.9M1747.65 50.9L1743.28 45.4M1747.65 50.9L1743.28 61.75M1779.3 62.4L1790.75 62.4M1779.3 62.4L1774.92 56.65M1779.3 62.4L1774.92 73.05M1810.95 72.6L1822.4 72.6M1810.95 72.6L1806.57 67.5M1810.95 72.6L1806.57 83.9M1842.6 50.9L1854.05 50.9M1842.6 50.9L1838.22 45.4M1842.6 50.9L1838.22 61.75M1874.25 62.4L1885.7 62.4M1874.25 62.4L1869.88 56.65M1874.25 62.4L1869.88 73.05M1905.9 50.9L1917.35 50.9M1905.9 50.9L1901.53 56.65M1905.9 50.9L1901.53 39.85M1937.55 62.4L1949 62.4M1937.55 62.4L1933.17 56.65M1937.55 62.4L1933.17 73.05M1969.2 16.8L1980.65 16.8M1969.2 16.8L1964.82 22.8M1969.2 16.8L1964.82 6.4M1969.2 50.9L1980.65 50.9M1969.2 50.9L1964.82 56.65M1969.2 50.9L1964.82 39.85M2000.85 62.4L2012.3 62.4M2000.85 62.4L1996.47 56.65M2000.85 62.4L1996.47 73.05M2032.5 50.9L2043.95 50.9M2032.5 50.9L2028.12 56.65M2032.5 50.9L2028.12 39.85" stroke="#9A9AE6" stroke-width="2.1" fill="none"/>
<path d="M1157.75 16.8L1169.2 16.8M1141.92 22.8L1137.55 28.8M1141.92 6.4L1137.55 -4M1157.75 50.9L1169.2 50.9M1141.92 56.65L1137.55 62.4M1141.92 39.85L1137.55 28.8M1189.4 28.8L1200.85 28.8M1173.57 22.8L1169.2 16.8M1173.57 39.85L1169.2 50.9M1189.4 62.4L1200.85 62.4M1173.57 56.65L1169.2 50.9M1173.57 73.05L1169.2 83.7M1221.05 16.8L1232.5 16.8M1205.22 22.8L1200.85 28.8M1205.22 6.4L1200.85 -4M1221.05 50.9L1232.5 50.9M1205.22 56.65L1200.85 62.4M1205.22 39.85L1200.85 28.8M1252.7 28.8L1264.15 28.8M1236.88 22.8L1232.5 16.8M1236.88 39.85L1232.5 50.9M1252.7 62.4L1264.15 62.4M1236.88 56.65L1232.5 50.9M1236.88 73.05L1232.5 83.7M1284.35 16.8L1295.8 16.8M1268.53 22.8L1264.15 28.8M1268.53 6.4L1264.15 -4M1284.35 50.9L1295.8 50.9M1268.53 56.65L1264.15 62.4M1268.53 39.85L1264.15 28.8M1316 28.8L1327.45 28.8M1300.17 22.8L1295.8 16.8M1300.17 39.85L1295.8 50.9M1316 62.4L1327.45 62.4M1300.17 56.65L1295.8 50.9M1300.17 73.05L1295.8 83.7M1347.65 7L1359.1 7M1331.82 1.5L1327.45 -4M1331.82 17.9L1327.45 28.8M1347.65 39.9L1359.1 39.9M1331.82 34.35L1327.45 28.8M1331.82 51.15L1327.45 62.4M1347.65 72.6L1359.1 72.6M1331.82 67.5L1327.45 62.4M1331.82 83.9L1327.45 95.2M1379.3 16.8L1390.75 16.8M1363.47 11.9L1359.1 7M1363.47 28.35L1359.1 39.9M1379.3 50.9L1390.75 50.9M1363.47 45.4L1359.1 39.9M1363.47 61.75L1359.1 72.6M1410.95 28.8L1422.4 28.8M1395.12 22.8L1390.75 16.8M1395.12 39.85L1390.75 50.9M1410.95 62.4L1422.4 62.4M1395.12 56.65L1390.75 50.9M1395.12 73.05L1390.75 83.7M1442.6 7L1454.05 7M1426.78 1.5L1422.4 -4M1426.78 17.9L1422.4 28.8M1442.6 39.9L1454.05 39.9M1426.78 34.35L1422.4 28.8M1426.78 51.15L1422.4 62.4M1442.6 72.6L1454.05 72.6M1426.78 67.5L1422.4 62.4M1426.78 83.9L1422.4 95.2M1474.25 16.8L1485.7 16.8M1458.42 11.9L1454.05 7M1458.42 28.35L1454.05 39.9M1474.25 50.9L1485.7 50.9M1458.42 45.4L1454.05 39.9M1458.42 61.75L1454.05 72.6M1505.9 28.8L1517.35 28.8M1490.07 22.8L1485.7 16.8M1490.07 39.85L1485.7 50.9M1505.9 62.4L1517.35 62.4M1490.07 56.65L1485.7 50.9M1490.07 73.05L1485.7 83.7M1537.55 16.8L1549 16.8M1521.72 22.8L1517.35 28.8M1521.72 6.4L1517.35 -4M1537.55 50.9L1549 50.9M1521.72 56.65L1517.35 62.4M1521.72 39.85L1517.35 28.8M1569.2 28.8L1580.65 28.8M1553.38 22.8L1549 16.8M1553.38 39.85L1549 50.9M1569.2 62.4L1580.65 62.4M1553.38 56.65L1549 50.9M1553.38 73.05L1549 83.7M1600.85 16.8L1612.3 16.8M1585.03 22.8L1580.65 28.8M1585.03 6.4L1580.65 -4M1600.85 50.9L1612.3 50.9M1585.03 56.65L1580.65 62.4M1585.03 39.85L1580.65 28.8M1632.5 28.8L1643.95 28.8M1616.67 22.8L1612.3 16.8M1616.67 39.85L1612.3 50.9M1632.5 62.4L1643.95 62.4M1616.67 56.65L1612.3 50.9M1616.67 73.05L1612.3 83.7M1664.15 16.8L1675.6 16.8M1648.32 22.8L1643.95 28.8M1648.32 6.4L1643.95 -4M1664.15 50.9L1675.6 50.9M1648.32 56.65L1643.95 62.4M1648.32 39.85L1643.95 28.8M1695.8 28.8L1707.25 28.8M1679.97 22.8L1675.6 16.8M1679.97 39.85L1675.6 50.9M1695.8 62.4L1707.25 62.4M1679.97 56.65L1675.6 50.9M1679.97 73.05L1675.6 83.7M1727.45 7L1738.9 7M1711.62 1.5L1707.25 -4M1711.62 17.9L1707.25 28.8M1727.45 39.9L1738.9 39.9M1711.62 34.35L1707.25 28.8M1711.62 51.15L1707.25 62.4M1727.45 72.6L1738.9 72.6M1711.62 67.5L1707.25 62.4M1711.62 83.9L1707.25 95.2M1759.1 16.8L1770.55 16.8M1743.28 11.9L1738.9 7M1743.28 28.35L1738.9 39.9M1759.1 50.9L1770.55 50.9M1743.28 45.4L1738.9 39.9M1743.28 61.75L1738.9 72.6M1790.75 28.8L1802.2 28.8M1774.92 22.8L1770.55 16.8M1774.92 39.85L1770.55 50.9M1790.75 62.4L1802.2 62.4M1774.92 56.65L1770.55 50.9M1774.92 73.05L1770.55 83.7M1822.4 7L1833.85 7M1806.57 1.5L1802.2 -4M1806.57 17.9L1802.2 28.8M1822.4 39.9L1833.85 39.9M1806.57 34.35L1802.2 28.8M1806.57 51.15L1802.2 62.4M1822.4 72.6L1833.85 72.6M1806.57 67.5L1802.2 62.4M1806.57 83.9L1802.2 95.2M1854.05 16.8L1865.5 16.8M1838.22 11.9L1833.85 7M1838.22 28.35L1833.85 39.9M1854.05 50.9L1865.5 50.9M1838.22 45.4L1833.85 39.9M1838.22 61.75L1833.85 72.6M1885.7 28.8L1897.15 28.8M1869.88 22.8L1865.5 16.8M1869.88 39.85L1865.5 50.9M1885.7 62.4L1897.15 62.4M1869.88 56.65L1865.5 50.9M1869.88 73.05L1865.5 83.7M1917.35 16.8L1928.8 16.8M1901.53 22.8L1897.15 28.8M1901.53 6.4L1897.15 -4M1917.35 50.9L1928.8 50.9M1901.53 56.65L1897.15 62.4M1901.53 39.85L1897.15 28.8M1949 28.8L1960.45 28.8M1933.17 22.8L1928.8 16.8M1933.17 39.85L1928.8 50.9M1949 62.4L1960.45 62.4M1933.17 56.65L1928.8 50.9M1933.17 73.05L1928.8 83.7M1980.65 16.8L1992.1 16.8M1964.82 22.8L1960.45 28.8M1964.82 6.4L1960.45 -4M1980.65 50.9L1992.1 50.9M1964.82 56.65L1960.45 62.4M1964.82 39.85L1960.45 28.8M2012.3 28.8L2023.75 28.8M1996.47 22.8L1992.1 16.8M1996.47 39.85L1992.1 50.9M2012.3 62.4L2023.75 62.4M1996.47 56.65L1992.1 50.9M1996.47 73.05L1992.1 83.7M2043.95 16.8L2055.4 16.8M2028.12 22.8L2023.75 28.8M2028.12 6.4L2023.75 -4M2043.95 50.9L2055.4 50.9M2028.12 56.65L2023.75 62.4M2028.12 39.85L2023.75 28.8" stroke="#E2E232" stroke-width="2.1" fill="none"/>
<circle cx="1170" cy="16.8" r="5.6" fill="url(#gIsoC)"/>
<circle cx="1170" cy="50.9" r="5.6" fill="url(#gIsoC)"/>
<circle cx="1201.65" cy="28.8" r="5" fill="url(#gIsoC)"/>
<circle cx="1201.65" cy="62.4" r="5" fill="url(#gIsoC)"/>
<circle cx="1233.3" cy="16.8" r="5" fill="url(#gIsoC)"/>
<circle cx="1233.3" cy="50.9" r="5" fill="url(#gIsoC)"/>
<circle cx="1296.6" cy="16.8" r="5" fill="url(#gIsoC)"/>
<circle cx="1296.6" cy="50.9" r="5" fill="url(#gIsoC)"/>
<circle cx="1359.9" cy="7" r="5.2" fill="url(#gIsoC)"/>
<circle cx="1359.9" cy="39.9" r="5.2" fill="url(#gIsoC)"/>
<circle cx="1359.9" cy="72.6" r="5.2" fill="url(#gIsoC)"/>
<circle cx="1391.55" cy="16.8" r="5.8" fill="url(#gIsoC)"/>
<circle cx="1391.55" cy="50.9" r="5.8" fill="url(#gIsoC)"/>
<circle cx="1423.2" cy="28.8" r="5.8" fill="url(#gIsoC)"/>
<circle cx="1423.2" cy="62.4" r="5.8" fill="url(#gIsoC)"/>
<circle cx="1454.85" cy="7" r="6" fill="url(#gIsoC)"/>
<circle cx="1454.85" cy="39.9" r="6" fill="url(#gIsoC)"/>
<circle cx="1454.85" cy="72.6" r="6" fill="url(#gIsoC)"/>
<circle cx="1486.5" cy="16.8" r="6.6" fill="url(#gIsoC)"/>
<circle cx="1486.5" cy="50.9" r="6.6" fill="url(#gIsoC)"/>
<circle cx="1518.15" cy="28.8" r="5.2" fill="url(#gIsoC)"/>
<circle cx="1518.15" cy="62.4" r="5.2" fill="url(#gIsoC)"/>
<circle cx="1549.8" cy="16.8" r="5.6" fill="url(#gIsoC)"/>
<circle cx="1549.8" cy="50.9" r="5.6" fill="url(#gIsoC)"/>
<circle cx="1581.45" cy="28.8" r="5" fill="url(#gIsoC)"/>
<circle cx="1581.45" cy="62.4" r="5" fill="url(#gIsoC)"/>
<circle cx="1613.1" cy="16.8" r="5" fill="url(#gIsoC)"/>
<circle cx="1613.1" cy="50.9" r="5" fill="url(#gIsoC)"/>
<circle cx="1676.4" cy="16.8" r="5" fill="url(#gIsoC)"/>
<circle cx="1676.4" cy="50.9" r="5" fill="url(#gIsoC)"/>
<circle cx="1739.7" cy="7" r="5.2" fill="url(#gIsoC)"/>
<circle cx="1739.7" cy="39.9" r="5.2" fill="url(#gIsoC)"/>
<circle cx="1739.7" cy="72.6" r="5.2" fill="url(#gIsoC)"/>
<circle cx="1771.35" cy="16.8" r="5.8" fill="url(#gIsoC)"/>
<circle cx="1771.35" cy="50.9" r="5.8" fill="url(#gIsoC)"/>
<circle cx="1803" cy="28.8" r="5.8" fill="url(#gIsoC)"/>
<circle cx="1803" cy="62.4" r="5.8" fill="url(#gIsoC)"/>
<circle cx="1834.65" cy="7" r="6" fill="url(#gIsoC)"/>
<circle cx="1834.65" cy="39.9" r="6" fill="url(#gIsoC)"/>
<circle cx="1834.65" cy="72.6" r="6" fill="url(#gIsoC)"/>
<circle cx="1866.3" cy="16.8" r="6.6" fill="url(#gIsoC)"/>
<circle cx="1866.3" cy="50.9" r="6.6" fill="url(#gIsoC)"/>
<circle cx="1897.95" cy="28.8" r="5.2" fill="url(#gIsoC)"/>
<circle cx="1897.95" cy="62.4" r="5.2" fill="url(#gIsoC)"/>
<circle cx="1929.6" cy="16.8" r="5.6" fill="url(#gIsoC)"/>
<circle cx="1929.6" cy="50.9" r="5.6" fill="url(#gIsoC)"/>
<circle cx="1961.25" cy="28.8" r="5" fill="url(#gIsoC)"/>
<circle cx="1961.25" cy="62.4" r="5" fill="url(#gIsoC)"/>
<circle cx="1992.9" cy="16.8" r="5" fill="url(#gIsoC)"/>
<circle cx="1992.9" cy="50.9" r="5" fill="url(#gIsoC)"/>
<circle cx="2056.2" cy="16.8" r="5" fill="url(#gIsoC)"/>
<circle cx="2056.2" cy="50.9" r="5" fill="url(#gIsoC)"/>
<circle cx="1144.7" cy="16.8" r="5.12" fill="url(#gMn)"/>
<circle cx="1146.3" cy="16.8" r="5.78" fill="url(#gCd)"/>
<circle cx="1169.2" cy="16.8" r="4.65" fill="url(#gS)"/>
<circle cx="1146.9" cy="51.8" r="5.58" fill="url(#gCd)"/>
<circle cx="1145.1" cy="50.9" r="5.62" fill="url(#gMn)"/>
<circle cx="1169.2" cy="50.9" r="4.65" fill="url(#gS)"/>
<circle cx="1176.35" cy="28.8" r="5.12" fill="url(#gMn)"/>
<circle cx="1177.95" cy="28.8" r="5.78" fill="url(#gCd)"/>
<circle cx="1200.85" cy="28.8" r="4.65" fill="url(#gS)"/>
<circle cx="1178.55" cy="63.3" r="5.58" fill="url(#gCd)"/>
<circle cx="1176.75" cy="62.4" r="5.62" fill="url(#gMn)"/>
<circle cx="1200.85" cy="62.4" r="4.65" fill="url(#gS)"/>
<circle cx="1209.6" cy="16.8" r="5.78" fill="url(#gCd)"/>
<circle cx="1232.5" cy="16.8" r="4.65" fill="url(#gS)"/>
<circle cx="1209.6" cy="50.9" r="5.78" fill="url(#gCd)"/>
<circle cx="1232.5" cy="50.9" r="4.65" fill="url(#gS)"/>
<circle cx="1239.65" cy="28.8" r="5.12" fill="url(#gMn)"/>
<circle cx="1241.25" cy="28.8" r="5.78" fill="url(#gCd)"/>
<circle cx="1264.15" cy="28.8" r="4.65" fill="url(#gS)"/>
<circle cx="1241.85" cy="63.3" r="5.58" fill="url(#gCd)"/>
<circle cx="1240.05" cy="62.4" r="5.62" fill="url(#gMn)"/>
<circle cx="1264.15" cy="62.4" r="4.65" fill="url(#gS)"/>
<circle cx="1271.3" cy="16.8" r="5.12" fill="url(#gMn)"/>
<circle cx="1272.9" cy="16.8" r="5.78" fill="url(#gCd)"/>
<circle cx="1295.8" cy="16.8" r="4.65" fill="url(#gS)"/>
<circle cx="1273.5" cy="51.8" r="5.58" fill="url(#gCd)"/>
<circle cx="1271.7" cy="50.9" r="5.62" fill="url(#gMn)"/>
<circle cx="1295.8" cy="50.9" r="4.65" fill="url(#gS)"/>
<circle cx="1302.95" cy="28.8" r="5.12" fill="url(#gMn)"/>
<circle cx="1304.55" cy="28.8" r="5.78" fill="url(#gCd)"/>
<circle cx="1327.45" cy="28.8" r="4.65" fill="url(#gS)"/>
<circle cx="1305.15" cy="63.3" r="5.58" fill="url(#gCd)"/>
<circle cx="1303.35" cy="62.4" r="5.62" fill="url(#gMn)"/>
<circle cx="1327.45" cy="62.4" r="4.65" fill="url(#gS)"/>
<circle cx="1334.6" cy="7" r="5.12" fill="url(#gMn)"/>
<circle cx="1336.2" cy="7" r="5.78" fill="url(#gCd)"/>
<circle cx="1359.1" cy="7" r="4.65" fill="url(#gS)"/>
<circle cx="1334.6" cy="39.9" r="5.12" fill="url(#gMn)"/>
<circle cx="1336.2" cy="39.9" r="5.78" fill="url(#gCd)"/>
<circle cx="1359.1" cy="39.9" r="4.65" fill="url(#gS)"/>
<circle cx="1336.8" cy="73.5" r="5.58" fill="url(#gCd)"/>
<circle cx="1335" cy="72.6" r="5.62" fill="url(#gMn)"/>
<circle cx="1359.1" cy="72.6" r="4.65" fill="url(#gS)"/>
<circle cx="1366.25" cy="16.8" r="5.12" fill="url(#gMn)"/>
<circle cx="1367.85" cy="16.8" r="5.78" fill="url(#gCd)"/>
<circle cx="1390.75" cy="16.8" r="4.65" fill="url(#gS)"/>
<circle cx="1368.45" cy="51.8" r="5.58" fill="url(#gCd)"/>
<circle cx="1366.65" cy="50.9" r="5.62" fill="url(#gMn)"/>
<circle cx="1390.75" cy="50.9" r="4.65" fill="url(#gS)"/>
<circle cx="1397.9" cy="28.8" r="5.12" fill="url(#gMn)"/>
<circle cx="1399.5" cy="28.8" r="5.78" fill="url(#gCd)"/>
<circle cx="1422.4" cy="28.8" r="4.65" fill="url(#gS)"/>
<circle cx="1400.1" cy="63.3" r="5.58" fill="url(#gCd)"/>
<circle cx="1398.3" cy="62.4" r="5.62" fill="url(#gMn)"/>
<circle cx="1422.4" cy="62.4" r="4.65" fill="url(#gS)"/>
<circle cx="1429.55" cy="7" r="5.12" fill="url(#gMn)"/>
<circle cx="1431.15" cy="7" r="5.78" fill="url(#gCd)"/>
<circle cx="1454.05" cy="7" r="4.65" fill="url(#gS)"/>
<circle cx="1429.55" cy="39.9" r="5.12" fill="url(#gMn)"/>
<circle cx="1431.15" cy="39.9" r="5.78" fill="url(#gCd)"/>
<circle cx="1454.05" cy="39.9" r="4.65" fill="url(#gS)"/>
<circle cx="1431.75" cy="73.5" r="5.58" fill="url(#gCd)"/>
<circle cx="1429.95" cy="72.6" r="5.62" fill="url(#gMn)"/>
<circle cx="1454.05" cy="72.6" r="4.65" fill="url(#gS)"/>
<circle cx="1461.2" cy="16.8" r="5.12" fill="url(#gMn)"/>
<circle cx="1462.8" cy="16.8" r="5.78" fill="url(#gCd)"/>
<circle cx="1485.7" cy="16.8" r="4.65" fill="url(#gS)"/>
<circle cx="1463.4" cy="51.8" r="5.58" fill="url(#gCd)"/>
<circle cx="1461.6" cy="50.9" r="5.62" fill="url(#gMn)"/>
<circle cx="1485.7" cy="50.9" r="4.65" fill="url(#gS)"/>
<circle cx="1492.85" cy="28.8" r="5.12" fill="url(#gMn)"/>
<circle cx="1494.45" cy="28.8" r="5.78" fill="url(#gCd)"/>
<circle cx="1517.35" cy="28.8" r="4.65" fill="url(#gS)"/>
<circle cx="1495.05" cy="63.3" r="5.58" fill="url(#gCd)"/>
<circle cx="1493.25" cy="62.4" r="5.62" fill="url(#gMn)"/>
<circle cx="1517.35" cy="62.4" r="4.65" fill="url(#gS)"/>
<circle cx="1524.5" cy="16.8" r="5.12" fill="url(#gMn)"/>
<circle cx="1526.1" cy="16.8" r="5.78" fill="url(#gCd)"/>
<circle cx="1549" cy="16.8" r="4.65" fill="url(#gS)"/>
<circle cx="1526.7" cy="51.8" r="5.58" fill="url(#gCd)"/>
<circle cx="1524.9" cy="50.9" r="5.62" fill="url(#gMn)"/>
<circle cx="1549" cy="50.9" r="4.65" fill="url(#gS)"/>
<circle cx="1556.15" cy="28.8" r="5.12" fill="url(#gMn)"/>
<circle cx="1557.75" cy="28.8" r="5.78" fill="url(#gCd)"/>
<circle cx="1580.65" cy="28.8" r="4.65" fill="url(#gS)"/>
<circle cx="1558.35" cy="63.3" r="5.58" fill="url(#gCd)"/>
<circle cx="1556.55" cy="62.4" r="5.62" fill="url(#gMn)"/>
<circle cx="1580.65" cy="62.4" r="4.65" fill="url(#gS)"/>
<circle cx="1587.8" cy="16.8" r="5.12" fill="url(#gMn)"/>
<circle cx="1589.4" cy="16.8" r="5.78" fill="url(#gCd)"/>
<circle cx="1612.3" cy="16.8" r="4.65" fill="url(#gS)"/>
<circle cx="1590" cy="51.8" r="5.58" fill="url(#gCd)"/>
<circle cx="1588.2" cy="50.9" r="5.62" fill="url(#gMn)"/>
<circle cx="1612.3" cy="50.9" r="4.65" fill="url(#gS)"/>
<circle cx="1619.45" cy="28.8" r="5.12" fill="url(#gMn)"/>
<circle cx="1621.05" cy="28.8" r="5.78" fill="url(#gCd)"/>
<circle cx="1643.95" cy="28.8" r="4.65" fill="url(#gS)"/>
<circle cx="1621.65" cy="63.3" r="5.58" fill="url(#gCd)"/>
<circle cx="1619.85" cy="62.4" r="5.62" fill="url(#gMn)"/>
<circle cx="1643.95" cy="62.4" r="4.65" fill="url(#gS)"/>
<circle cx="1651.1" cy="16.8" r="5.12" fill="url(#gMn)"/>
<circle cx="1652.7" cy="16.8" r="5.78" fill="url(#gCd)"/>
<circle cx="1675.6" cy="16.8" r="4.65" fill="url(#gS)"/>
<circle cx="1653.3" cy="51.8" r="5.58" fill="url(#gCd)"/>
<circle cx="1651.5" cy="50.9" r="5.62" fill="url(#gMn)"/>
<circle cx="1675.6" cy="50.9" r="4.65" fill="url(#gS)"/>
<circle cx="1682.75" cy="28.8" r="5.12" fill="url(#gMn)"/>
<circle cx="1684.35" cy="28.8" r="5.78" fill="url(#gCd)"/>
<circle cx="1707.25" cy="28.8" r="4.65" fill="url(#gS)"/>
<circle cx="1684.95" cy="63.3" r="5.58" fill="url(#gCd)"/>
<circle cx="1683.15" cy="62.4" r="5.62" fill="url(#gMn)"/>
<circle cx="1707.25" cy="62.4" r="4.65" fill="url(#gS)"/>
<circle cx="1714.4" cy="7" r="5.12" fill="url(#gMn)"/>
<circle cx="1716" cy="7" r="5.78" fill="url(#gCd)"/>
<circle cx="1738.9" cy="7" r="4.65" fill="url(#gS)"/>
<circle cx="1714.4" cy="39.9" r="5.12" fill="url(#gMn)"/>
<circle cx="1716" cy="39.9" r="5.78" fill="url(#gCd)"/>
<circle cx="1738.9" cy="39.9" r="4.65" fill="url(#gS)"/>
<circle cx="1716.6" cy="73.5" r="5.58" fill="url(#gCd)"/>
<circle cx="1714.8" cy="72.6" r="5.62" fill="url(#gMn)"/>
<circle cx="1738.9" cy="72.6" r="4.65" fill="url(#gS)"/>
<circle cx="1746.05" cy="16.8" r="5.12" fill="url(#gMn)"/>
<circle cx="1747.65" cy="16.8" r="5.78" fill="url(#gCd)"/>
<circle cx="1770.55" cy="16.8" r="4.65" fill="url(#gS)"/>
<circle cx="1748.25" cy="51.8" r="5.58" fill="url(#gCd)"/>
<circle cx="1746.45" cy="50.9" r="5.62" fill="url(#gMn)"/>
<circle cx="1770.55" cy="50.9" r="4.65" fill="url(#gS)"/>
<circle cx="1777.7" cy="28.8" r="5.12" fill="url(#gMn)"/>
<circle cx="1779.3" cy="28.8" r="5.78" fill="url(#gCd)"/>
<circle cx="1802.2" cy="28.8" r="4.65" fill="url(#gS)"/>
<circle cx="1779.9" cy="63.3" r="5.58" fill="url(#gCd)"/>
<circle cx="1778.1" cy="62.4" r="5.62" fill="url(#gMn)"/>
<circle cx="1802.2" cy="62.4" r="4.65" fill="url(#gS)"/>
<circle cx="1809.35" cy="7" r="5.12" fill="url(#gMn)"/>
<circle cx="1810.95" cy="7" r="5.78" fill="url(#gCd)"/>
<circle cx="1833.85" cy="7" r="4.65" fill="url(#gS)"/>
<circle cx="1809.35" cy="39.9" r="5.12" fill="url(#gMn)"/>
<circle cx="1810.95" cy="39.9" r="5.78" fill="url(#gCd)"/>
<circle cx="1833.85" cy="39.9" r="4.65" fill="url(#gS)"/>
<circle cx="1811.55" cy="73.5" r="5.58" fill="url(#gCd)"/>
<circle cx="1809.75" cy="72.6" r="5.62" fill="url(#gMn)"/>
<circle cx="1833.85" cy="72.6" r="4.65" fill="url(#gS)"/>
<circle cx="1841" cy="16.8" r="5.12" fill="url(#gMn)"/>
<circle cx="1842.6" cy="16.8" r="5.78" fill="url(#gCd)"/>
<circle cx="1865.5" cy="16.8" r="4.65" fill="url(#gS)"/>
<circle cx="1843.2" cy="51.8" r="5.58" fill="url(#gCd)"/>
<circle cx="1841.4" cy="50.9" r="5.62" fill="url(#gMn)"/>
<circle cx="1865.5" cy="50.9" r="4.65" fill="url(#gS)"/>
<circle cx="1872.65" cy="28.8" r="5.12" fill="url(#gMn)"/>
<circle cx="1874.25" cy="28.8" r="5.78" fill="url(#gCd)"/>
<circle cx="1897.15" cy="28.8" r="4.65" fill="url(#gS)"/>
<circle cx="1874.85" cy="63.3" r="5.58" fill="url(#gCd)"/>
<circle cx="1873.05" cy="62.4" r="5.62" fill="url(#gMn)"/>
<circle cx="1897.15" cy="62.4" r="4.65" fill="url(#gS)"/>
<circle cx="1904.3" cy="16.8" r="5.12" fill="url(#gMn)"/>
<circle cx="1905.9" cy="16.8" r="5.78" fill="url(#gCd)"/>
<circle cx="1928.8" cy="16.8" r="4.65" fill="url(#gS)"/>
<circle cx="1906.5" cy="51.8" r="5.58" fill="url(#gCd)"/>
<circle cx="1904.7" cy="50.9" r="5.62" fill="url(#gMn)"/>
<circle cx="1928.8" cy="50.9" r="4.65" fill="url(#gS)"/>
<circle cx="1935.95" cy="28.8" r="5.12" fill="url(#gMn)"/>
<circle cx="1937.55" cy="28.8" r="5.78" fill="url(#gCd)"/>
<circle cx="1960.45" cy="28.8" r="4.65" fill="url(#gS)"/>
<circle cx="1938.15" cy="63.3" r="5.58" fill="url(#gCd)"/>
<circle cx="1936.35" cy="62.4" r="5.62" fill="url(#gMn)"/>
<circle cx="1960.45" cy="62.4" r="4.65" fill="url(#gS)"/>
<circle cx="1969.8" cy="17.7" r="5.58" fill="url(#gCd)"/>
<circle cx="1968" cy="16.8" r="5.62" fill="url(#gMn)"/>
<circle cx="1992.1" cy="16.8" r="4.65" fill="url(#gS)"/>
<circle cx="1969.8" cy="51.8" r="5.58" fill="url(#gCd)"/>
<circle cx="1968" cy="50.9" r="5.62" fill="url(#gMn)"/>
<circle cx="1992.1" cy="50.9" r="4.65" fill="url(#gS)"/>
<circle cx="1999.25" cy="28.8" r="5.12" fill="url(#gMn)"/>
<circle cx="2000.85" cy="28.8" r="5.78" fill="url(#gCd)"/>
<circle cx="2023.75" cy="28.8" r="4.65" fill="url(#gS)"/>
<circle cx="2001.45" cy="63.3" r="5.58" fill="url(#gCd)"/>
<circle cx="1999.65" cy="62.4" r="5.62" fill="url(#gMn)"/>
<circle cx="2023.75" cy="62.4" r="4.65" fill="url(#gS)"/>
<circle cx="2030.9" cy="16.8" r="5.12" fill="url(#gMn)"/>
<circle cx="2032.5" cy="16.8" r="5.78" fill="url(#gCd)"/>
<circle cx="2055.4" cy="16.8" r="4.65" fill="url(#gS)"/>
<circle cx="2033.1" cy="51.8" r="5.58" fill="url(#gCd)"/>
<circle cx="2031.3" cy="50.9" r="5.62" fill="url(#gMn)"/>
<circle cx="2055.4" cy="50.9" r="4.65" fill="url(#gS)"/>
</g>
<clipPath id="cpcV"><rect x="1207.8" y="315.8" width="761.1" height="67.6"/></clipPath>
<g clip-path="url(#cpcV)">
<path d="M1146.3 326L1157.6 326M1146.3 326L1141.77 332M1146.3 326L1141.77 315.77M1177.95 338L1189.25 338M1177.95 338L1173.42 332M1177.95 338L1173.42 349.1M1209.6 326L1220.9 326M1209.6 326L1205.07 332M1209.6 326L1205.07 315.77M1209.6 360.2L1220.9 360.2M1209.6 360.2L1205.07 365.8M1209.6 360.2L1205.07 349.1M1241.25 338L1252.55 338M1241.25 338L1236.72 332M1241.25 338L1236.72 349.1M1272.9 326L1284.2 326M1272.9 326L1268.38 332M1272.9 326L1268.38 315.77M1304.55 338L1315.85 338M1304.55 338L1300.02 332M1304.55 338L1300.02 349.1M1336.2 316.7L1347.5 316.7M1336.2 316.7L1331.67 311.12M1336.2 316.7L1331.67 327.35M1336.2 349.1L1347.5 349.1M1336.2 349.1L1331.67 343.55M1336.2 349.1L1331.67 360.25M1367.85 326L1379.15 326M1367.85 326L1363.32 321.35M1367.85 326L1363.32 337.55M1399.5 338L1410.8 338M1399.5 338L1394.97 332M1399.5 338L1394.97 349.1M1431.15 316.7L1442.45 316.7M1431.15 316.7L1426.62 311.12M1431.15 316.7L1426.62 327.35M1431.15 349.1L1442.45 349.1M1431.15 349.1L1426.62 343.55M1431.15 349.1L1426.62 360.25M1462.8 326L1474.1 326M1462.8 326L1458.27 321.35M1462.8 326L1458.27 337.55M1494.45 338L1505.75 338M1494.45 338L1489.92 332M1494.45 338L1489.92 349.1M1526.1 326L1537.4 326M1526.1 326L1521.57 332M1526.1 326L1521.57 315.77M1557.75 338L1569.05 338M1557.75 338L1553.22 332M1557.75 338L1553.22 349.1M1589.4 326L1600.7 326M1589.4 326L1584.88 332M1589.4 326L1584.88 315.77M1621.05 338L1632.35 338M1621.05 338L1616.52 332M1621.05 338L1616.52 349.1M1652.7 326L1664 326M1652.7 326L1648.17 332M1652.7 326L1648.17 315.77M1684.35 338L1695.65 338M1684.35 338L1679.82 332M1684.35 338L1679.82 349.1M1716 316.7L1727.3 316.7M1716 316.7L1711.47 311.12M1716 316.7L1711.47 327.35M1716 349.1L1727.3 349.1M1716 349.1L1711.47 343.55M1716 349.1L1711.47 360.25M1747.65 326L1758.95 326M1747.65 326L1743.12 321.35M1747.65 326L1743.12 337.55M1779.3 338L1790.6 338M1779.3 338L1774.77 332M1779.3 338L1774.77 349.1M1810.95 316.7L1822.25 316.7M1810.95 316.7L1806.42 311.12M1810.95 316.7L1806.42 327.35M1810.95 349.1L1822.25 349.1M1810.95 349.1L1806.42 343.55M1810.95 349.1L1806.42 360.25M1842.6 326L1853.9 326M1842.6 326L1838.07 321.35M1842.6 326L1838.07 337.55M1874.25 338L1885.55 338M1874.25 338L1869.72 332M1874.25 338L1869.72 349.1M1905.9 326L1917.2 326M1905.9 326L1901.38 332M1905.9 326L1901.38 315.77M1937.55 338L1948.85 338M1937.55 338L1933.02 332M1937.55 338L1933.02 349.1M2000.85 338L2012.15 338M2000.85 338L1996.32 332M2000.85 338L1996.32 349.1M2032.5 326L2043.8 326M2032.5 326L2027.97 332M2032.5 326L2027.97 315.77" stroke="#E58A32" stroke-width="2.1" fill="none"/>
<path d="M1146.3 360.2L1157.6 360.2M1146.3 360.2L1141.77 365.8M1146.3 360.2L1141.77 349.1M1177.95 371.4L1189.25 371.4M1177.95 371.4L1173.42 365.8M1177.95 371.4L1173.42 382.02M1241.25 371.4L1252.55 371.4M1241.25 371.4L1236.72 365.8M1241.25 371.4L1236.72 382.02M1272.9 360.2L1284.2 360.2M1272.9 360.2L1268.38 365.8M1272.9 360.2L1268.38 349.1M1304.55 371.4L1315.85 371.4M1304.55 371.4L1300.02 365.8M1304.55 371.4L1300.02 382.02M1336.2 381.6L1347.5 381.6M1336.2 381.6L1331.67 376.5M1336.2 381.6L1331.67 392.73M1367.85 360.2L1379.15 360.2M1367.85 360.2L1363.32 354.65M1367.85 360.2L1363.32 370.9M1399.5 371.4L1410.8 371.4M1399.5 371.4L1394.97 365.8M1399.5 371.4L1394.97 382.02M1431.15 381.6L1442.45 381.6M1431.15 381.6L1426.62 376.5M1431.15 381.6L1426.62 392.73M1462.8 360.2L1474.1 360.2M1462.8 360.2L1458.27 354.65M1462.8 360.2L1458.27 370.9M1494.45 371.4L1505.75 371.4M1494.45 371.4L1489.92 365.8M1494.45 371.4L1489.92 382.02M1526.1 360.2L1537.4 360.2M1526.1 360.2L1521.57 365.8M1526.1 360.2L1521.57 349.1M1557.75 371.4L1569.05 371.4M1557.75 371.4L1553.22 365.8M1557.75 371.4L1553.22 382.02M1589.4 360.2L1600.7 360.2M1589.4 360.2L1584.88 365.8M1589.4 360.2L1584.88 349.1M1621.05 371.4L1632.35 371.4M1621.05 371.4L1616.52 365.8M1621.05 371.4L1616.52 382.02M1652.7 360.2L1664 360.2M1652.7 360.2L1648.17 365.8M1652.7 360.2L1648.17 349.1M1684.35 371.4L1695.65 371.4M1684.35 371.4L1679.82 365.8M1684.35 371.4L1679.82 382.02M1716 381.6L1727.3 381.6M1716 381.6L1711.47 376.5M1716 381.6L1711.47 392.73M1747.65 360.2L1758.95 360.2M1747.65 360.2L1743.12 354.65M1747.65 360.2L1743.12 370.9M1779.3 371.4L1790.6 371.4M1779.3 371.4L1774.77 365.8M1779.3 371.4L1774.77 382.02M1810.95 381.6L1822.25 381.6M1810.95 381.6L1806.42 376.5M1810.95 381.6L1806.42 392.73M1842.6 360.2L1853.9 360.2M1842.6 360.2L1838.07 354.65M1842.6 360.2L1838.07 370.9M1874.25 371.4L1885.55 371.4M1874.25 371.4L1869.72 365.8M1874.25 371.4L1869.72 382.02M1905.9 360.2L1917.2 360.2M1905.9 360.2L1901.38 365.8M1905.9 360.2L1901.38 349.1M1937.55 371.4L1948.85 371.4M1937.55 371.4L1933.02 365.8M1937.55 371.4L1933.02 382.02M1969.2 326L1980.5 326M1969.2 326L1964.67 332M1969.2 326L1964.67 315.77M1969.2 360.2L1980.5 360.2M1969.2 360.2L1964.67 365.8M1969.2 360.2L1964.67 349.1M2000.85 371.4L2012.15 371.4M2000.85 371.4L1996.32 365.8M2000.85 371.4L1996.32 382.02M2032.5 360.2L2043.8 360.2M2032.5 360.2L2027.97 365.8M2032.5 360.2L2027.97 349.1" stroke="#9A9AE6" stroke-width="2.1" fill="none"/>
<path d="M1157.6 326L1168.9 326M1141.77 332L1137.25 338M1141.77 315.77L1137.25 305.55M1157.6 360.2L1168.9 360.2M1141.77 365.8L1137.25 371.4M1141.77 349.1L1137.25 338M1189.25 338L1200.55 338M1173.42 332L1168.9 326M1173.42 349.1L1168.9 360.2M1189.25 371.4L1200.55 371.4M1173.42 365.8L1168.9 360.2M1173.42 382.02L1168.9 392.65M1220.9 326L1232.2 326M1205.07 332L1200.55 338M1205.07 315.77L1200.55 305.55M1220.9 360.2L1232.2 360.2M1205.07 365.8L1200.55 371.4M1205.07 349.1L1200.55 338M1252.55 338L1263.85 338M1236.72 332L1232.2 326M1236.72 349.1L1232.2 360.2M1252.55 371.4L1263.85 371.4M1236.72 365.8L1232.2 360.2M1236.72 382.02L1232.2 392.65M1284.2 326L1295.5 326M1268.38 332L1263.85 338M1268.38 315.77L1263.85 305.55M1284.2 360.2L1295.5 360.2M1268.38 365.8L1263.85 371.4M1268.38 349.1L1263.85 338M1315.85 338L1327.15 338M1300.02 332L1295.5 326M1300.02 349.1L1295.5 360.2M1315.85 371.4L1327.15 371.4M1300.02 365.8L1295.5 360.2M1300.02 382.02L1295.5 392.65M1347.5 316.7L1358.8 316.7M1331.67 311.12L1327.15 305.55M1331.67 327.35L1327.15 338M1347.5 349.1L1358.8 349.1M1331.67 343.55L1327.15 338M1331.67 360.25L1327.15 371.4M1347.5 381.6L1358.8 381.6M1331.67 376.5L1327.15 371.4M1331.67 392.73L1327.15 403.85M1379.15 326L1390.45 326M1363.32 321.35L1358.8 316.7M1363.32 337.55L1358.8 349.1M1379.15 360.2L1390.45 360.2M1363.32 354.65L1358.8 349.1M1363.32 370.9L1358.8 381.6M1410.8 338L1422.1 338M1394.97 332L1390.45 326M1394.97 349.1L1390.45 360.2M1410.8 371.4L1422.1 371.4M1394.97 365.8L1390.45 360.2M1394.97 382.02L1390.45 392.65M1442.45 316.7L1453.75 316.7M1426.62 311.12L1422.1 305.55M1426.62 327.35L1422.1 338M1442.45 349.1L1453.75 349.1M1426.62 343.55L1422.1 338M1426.62 360.25L1422.1 371.4M1442.45 381.6L1453.75 381.6M1426.62 376.5L1422.1 371.4M1426.62 392.73L1422.1 403.85M1474.1 326L1485.4 326M1458.27 321.35L1453.75 316.7M1458.27 337.55L1453.75 349.1M1474.1 360.2L1485.4 360.2M1458.27 354.65L1453.75 349.1M1458.27 370.9L1453.75 381.6M1505.75 338L1517.05 338M1489.92 332L1485.4 326M1489.92 349.1L1485.4 360.2M1505.75 371.4L1517.05 371.4M1489.92 365.8L1485.4 360.2M1489.92 382.02L1485.4 392.65M1537.4 326L1548.7 326M1521.57 332L1517.05 338M1521.57 315.77L1517.05 305.55M1537.4 360.2L1548.7 360.2M1521.57 365.8L1517.05 371.4M1521.57 349.1L1517.05 338M1569.05 338L1580.35 338M1553.22 332L1548.7 326M1553.22 349.1L1548.7 360.2M1569.05 371.4L1580.35 371.4M1553.22 365.8L1548.7 360.2M1553.22 382.02L1548.7 392.65M1600.7 326L1612 326M1584.88 332L1580.35 338M1584.88 315.77L1580.35 305.55M1600.7 360.2L1612 360.2M1584.88 365.8L1580.35 371.4M1584.88 349.1L1580.35 338M1632.35 338L1643.65 338M1616.52 332L1612 326M1616.52 349.1L1612 360.2M1632.35 371.4L1643.65 371.4M1616.52 365.8L1612 360.2M1616.52 382.02L1612 392.65M1664 326L1675.3 326M1648.17 332L1643.65 338M1648.17 315.77L1643.65 305.55M1664 360.2L1675.3 360.2M1648.17 365.8L1643.65 371.4M1648.17 349.1L1643.65 338M1695.65 338L1706.95 338M1679.82 332L1675.3 326M1679.82 349.1L1675.3 360.2M1695.65 371.4L1706.95 371.4M1679.82 365.8L1675.3 360.2M1679.82 382.02L1675.3 392.65M1727.3 316.7L1738.6 316.7M1711.47 311.12L1706.95 305.55M1711.47 327.35L1706.95 338M1727.3 349.1L1738.6 349.1M1711.47 343.55L1706.95 338M1711.47 360.25L1706.95 371.4M1727.3 381.6L1738.6 381.6M1711.47 376.5L1706.95 371.4M1711.47 392.73L1706.95 403.85M1758.95 326L1770.25 326M1743.12 321.35L1738.6 316.7M1743.12 337.55L1738.6 349.1M1758.95 360.2L1770.25 360.2M1743.12 354.65L1738.6 349.1M1743.12 370.9L1738.6 381.6M1790.6 338L1801.9 338M1774.77 332L1770.25 326M1774.77 349.1L1770.25 360.2M1790.6 371.4L1801.9 371.4M1774.77 365.8L1770.25 360.2M1774.77 382.02L1770.25 392.65M1822.25 316.7L1833.55 316.7M1806.42 311.12L1801.9 305.55M1806.42 327.35L1801.9 338M1822.25 349.1L1833.55 349.1M1806.42 343.55L1801.9 338M1806.42 360.25L1801.9 371.4M1822.25 381.6L1833.55 381.6M1806.42 376.5L1801.9 371.4M1806.42 392.73L1801.9 403.85M1853.9 326L1865.2 326M1838.07 321.35L1833.55 316.7M1838.07 337.55L1833.55 349.1M1853.9 360.2L1865.2 360.2M1838.07 354.65L1833.55 349.1M1838.07 370.9L1833.55 381.6M1885.55 338L1896.85 338M1869.72 332L1865.2 326M1869.72 349.1L1865.2 360.2M1885.55 371.4L1896.85 371.4M1869.72 365.8L1865.2 360.2M1869.72 382.02L1865.2 392.65M1917.2 326L1928.5 326M1901.38 332L1896.85 338M1901.38 315.77L1896.85 305.55M1917.2 360.2L1928.5 360.2M1901.38 365.8L1896.85 371.4M1901.38 349.1L1896.85 338M1948.85 338L1960.15 338M1933.02 332L1928.5 326M1933.02 349.1L1928.5 360.2M1948.85 371.4L1960.15 371.4M1933.02 365.8L1928.5 360.2M1933.02 382.02L1928.5 392.65M1980.5 326L1991.8 326M1964.67 332L1960.15 338M1964.67 315.77L1960.15 305.55M1980.5 360.2L1991.8 360.2M1964.67 365.8L1960.15 371.4M1964.67 349.1L1960.15 338M2012.15 338L2023.45 338M1996.32 332L1991.8 326M1996.32 349.1L1991.8 360.2M2012.15 371.4L2023.45 371.4M1996.32 365.8L1991.8 360.2M1996.32 382.02L1991.8 392.65M2043.8 326L2055.1 326M2027.97 332L2023.45 338M2027.97 315.77L2023.45 305.55M2043.8 360.2L2055.1 360.2M2027.97 365.8L2023.45 371.4M2027.97 349.1L2023.45 338" stroke="#E2E232" stroke-width="2.1" fill="none"/>
<ellipse cx="1200.25" cy="339.4" rx="10.5" ry="11.55" fill="url(#gIso)"/>
<ellipse cx="1200.25" cy="372.8" rx="10.5" ry="11.55" fill="url(#gIso)"/>
<ellipse cx="1263.55" cy="339.4" rx="7" ry="7.7" fill="url(#gIso)"/>
<ellipse cx="1263.55" cy="372.8" rx="7" ry="7.7" fill="url(#gIso)"/>
<ellipse cx="1326.85" cy="339.4" rx="3" ry="3.3" fill="url(#gIso)"/>
<ellipse cx="1326.85" cy="372.8" rx="3" ry="3.3" fill="url(#gIso)"/>
<ellipse cx="1580.05" cy="339.4" rx="10.5" ry="11.55" fill="url(#gIso)"/>
<ellipse cx="1580.05" cy="372.8" rx="10.5" ry="11.55" fill="url(#gIso)"/>
<ellipse cx="1643.35" cy="339.4" rx="7" ry="7.7" fill="url(#gIso)"/>
<ellipse cx="1643.35" cy="372.8" rx="7" ry="7.7" fill="url(#gIso)"/>
<ellipse cx="1706.65" cy="339.4" rx="3" ry="3.3" fill="url(#gIso)"/>
<ellipse cx="1706.65" cy="372.8" rx="3" ry="3.3" fill="url(#gIso)"/>
<ellipse cx="1959.85" cy="339.4" rx="10.5" ry="11.55" fill="url(#gIso)"/>
<ellipse cx="1959.85" cy="372.8" rx="10.5" ry="11.55" fill="url(#gIso)"/>
<ellipse cx="2023.15" cy="339.4" rx="7" ry="7.7" fill="url(#gIso)"/>
<ellipse cx="2023.15" cy="372.8" rx="7" ry="7.7" fill="url(#gIso)"/>
<circle cx="1144.7" cy="326" r="5.12" fill="url(#gMn)"/>
<circle cx="1146.3" cy="326" r="5.78" fill="url(#gCd)"/>
<circle cx="1168.9" cy="326" r="4.65" fill="url(#gS)"/>
<circle cx="1146.9" cy="361.1" r="5.58" fill="url(#gCd)"/>
<circle cx="1145.1" cy="360.2" r="5.62" fill="url(#gMn)"/>
<circle cx="1168.9" cy="360.2" r="4.65" fill="url(#gS)"/>
<circle cx="1176.35" cy="338" r="5.12" fill="url(#gMn)"/>
<circle cx="1177.95" cy="338" r="5.78" fill="url(#gCd)"/>
<circle cx="1200.55" cy="338" r="4.65" fill="url(#gS)"/>
<circle cx="1178.55" cy="372.3" r="5.58" fill="url(#gCd)"/>
<circle cx="1176.75" cy="371.4" r="5.62" fill="url(#gMn)"/>
<circle cx="1200.55" cy="371.4" r="4.65" fill="url(#gS)"/>
<circle cx="1209.6" cy="326" r="5.78" fill="url(#gCd)"/>
<circle cx="1232.2" cy="326" r="4.65" fill="url(#gS)"/>
<circle cx="1209.6" cy="360.2" r="5.78" fill="url(#gCd)"/>
<circle cx="1232.2" cy="360.2" r="4.65" fill="url(#gS)"/>
<circle cx="1239.65" cy="338" r="5.12" fill="url(#gMn)"/>
<circle cx="1241.25" cy="338" r="5.78" fill="url(#gCd)"/>
<circle cx="1263.85" cy="338" r="4.65" fill="url(#gS)"/>
<circle cx="1241.85" cy="372.3" r="5.58" fill="url(#gCd)"/>
<circle cx="1240.05" cy="371.4" r="5.62" fill="url(#gMn)"/>
<circle cx="1263.85" cy="371.4" r="4.65" fill="url(#gS)"/>
<circle cx="1271.3" cy="326" r="5.12" fill="url(#gMn)"/>
<circle cx="1272.9" cy="326" r="5.78" fill="url(#gCd)"/>
<circle cx="1295.5" cy="326" r="4.65" fill="url(#gS)"/>
<circle cx="1273.5" cy="361.1" r="5.58" fill="url(#gCd)"/>
<circle cx="1271.7" cy="360.2" r="5.62" fill="url(#gMn)"/>
<circle cx="1295.5" cy="360.2" r="4.65" fill="url(#gS)"/>
<circle cx="1302.95" cy="338" r="5.12" fill="url(#gMn)"/>
<circle cx="1304.55" cy="338" r="5.78" fill="url(#gCd)"/>
<circle cx="1327.15" cy="338" r="4.65" fill="url(#gS)"/>
<circle cx="1305.15" cy="372.3" r="5.58" fill="url(#gCd)"/>
<circle cx="1303.35" cy="371.4" r="5.62" fill="url(#gMn)"/>
<circle cx="1327.15" cy="371.4" r="4.65" fill="url(#gS)"/>
<circle cx="1334.6" cy="316.7" r="5.12" fill="url(#gMn)"/>
<circle cx="1336.2" cy="316.7" r="5.78" fill="url(#gCd)"/>
<circle cx="1358.8" cy="316.7" r="4.65" fill="url(#gS)"/>
<circle cx="1334.6" cy="349.1" r="5.12" fill="url(#gMn)"/>
<circle cx="1336.2" cy="349.1" r="5.78" fill="url(#gCd)"/>
<circle cx="1358.8" cy="349.1" r="4.65" fill="url(#gS)"/>
<circle cx="1336.8" cy="382.5" r="5.58" fill="url(#gCd)"/>
<circle cx="1335" cy="381.6" r="5.62" fill="url(#gMn)"/>
<circle cx="1358.8" cy="381.6" r="4.65" fill="url(#gS)"/>
<circle cx="1366.25" cy="326" r="5.12" fill="url(#gMn)"/>
<circle cx="1367.85" cy="326" r="5.78" fill="url(#gCd)"/>
<circle cx="1390.45" cy="326" r="4.65" fill="url(#gS)"/>
<circle cx="1368.45" cy="361.1" r="5.58" fill="url(#gCd)"/>
<circle cx="1366.65" cy="360.2" r="5.62" fill="url(#gMn)"/>
<circle cx="1390.45" cy="360.2" r="4.65" fill="url(#gS)"/>
<circle cx="1397.9" cy="338" r="5.12" fill="url(#gMn)"/>
<circle cx="1399.5" cy="338" r="5.78" fill="url(#gCd)"/>
<circle cx="1422.1" cy="338" r="4.65" fill="url(#gS)"/>
<circle cx="1400.1" cy="372.3" r="5.58" fill="url(#gCd)"/>
<circle cx="1398.3" cy="371.4" r="5.62" fill="url(#gMn)"/>
<circle cx="1422.1" cy="371.4" r="4.65" fill="url(#gS)"/>
<circle cx="1429.55" cy="316.7" r="5.12" fill="url(#gMn)"/>
<circle cx="1431.15" cy="316.7" r="5.78" fill="url(#gCd)"/>
<circle cx="1453.75" cy="316.7" r="4.65" fill="url(#gS)"/>
<circle cx="1429.55" cy="349.1" r="5.12" fill="url(#gMn)"/>
<circle cx="1431.15" cy="349.1" r="5.78" fill="url(#gCd)"/>
<circle cx="1453.75" cy="349.1" r="4.65" fill="url(#gS)"/>
<circle cx="1431.75" cy="382.5" r="5.58" fill="url(#gCd)"/>
<circle cx="1429.95" cy="381.6" r="5.62" fill="url(#gMn)"/>
<circle cx="1453.75" cy="381.6" r="4.65" fill="url(#gS)"/>
<circle cx="1461.2" cy="326" r="5.12" fill="url(#gMn)"/>
<circle cx="1462.8" cy="326" r="5.78" fill="url(#gCd)"/>
<circle cx="1485.4" cy="326" r="4.65" fill="url(#gS)"/>
<circle cx="1463.4" cy="361.1" r="5.58" fill="url(#gCd)"/>
<circle cx="1461.6" cy="360.2" r="5.62" fill="url(#gMn)"/>
<circle cx="1485.4" cy="360.2" r="4.65" fill="url(#gS)"/>
<circle cx="1492.85" cy="338" r="5.12" fill="url(#gMn)"/>
<circle cx="1494.45" cy="338" r="5.78" fill="url(#gCd)"/>
<circle cx="1517.05" cy="338" r="4.65" fill="url(#gS)"/>
<circle cx="1495.05" cy="372.3" r="5.58" fill="url(#gCd)"/>
<circle cx="1493.25" cy="371.4" r="5.62" fill="url(#gMn)"/>
<circle cx="1517.05" cy="371.4" r="4.65" fill="url(#gS)"/>
<circle cx="1524.5" cy="326" r="5.12" fill="url(#gMn)"/>
<circle cx="1526.1" cy="326" r="5.78" fill="url(#gCd)"/>
<circle cx="1548.7" cy="326" r="4.65" fill="url(#gS)"/>
<circle cx="1526.7" cy="361.1" r="5.58" fill="url(#gCd)"/>
<circle cx="1524.9" cy="360.2" r="5.62" fill="url(#gMn)"/>
<circle cx="1548.7" cy="360.2" r="4.65" fill="url(#gS)"/>
<circle cx="1556.15" cy="338" r="5.12" fill="url(#gMn)"/>
<circle cx="1557.75" cy="338" r="5.78" fill="url(#gCd)"/>
<circle cx="1580.35" cy="338" r="4.65" fill="url(#gS)"/>
<circle cx="1558.35" cy="372.3" r="5.58" fill="url(#gCd)"/>
<circle cx="1556.55" cy="371.4" r="5.62" fill="url(#gMn)"/>
<circle cx="1580.35" cy="371.4" r="4.65" fill="url(#gS)"/>
<circle cx="1587.8" cy="326" r="5.12" fill="url(#gMn)"/>
<circle cx="1589.4" cy="326" r="5.78" fill="url(#gCd)"/>
<circle cx="1612" cy="326" r="4.65" fill="url(#gS)"/>
<circle cx="1590" cy="361.1" r="5.58" fill="url(#gCd)"/>
<circle cx="1588.2" cy="360.2" r="5.62" fill="url(#gMn)"/>
<circle cx="1612" cy="360.2" r="4.65" fill="url(#gS)"/>
<circle cx="1619.45" cy="338" r="5.12" fill="url(#gMn)"/>
<circle cx="1621.05" cy="338" r="5.78" fill="url(#gCd)"/>
<circle cx="1643.65" cy="338" r="4.65" fill="url(#gS)"/>
<circle cx="1621.65" cy="372.3" r="5.58" fill="url(#gCd)"/>
<circle cx="1619.85" cy="371.4" r="5.62" fill="url(#gMn)"/>
<circle cx="1643.65" cy="371.4" r="4.65" fill="url(#gS)"/>
<circle cx="1651.1" cy="326" r="5.12" fill="url(#gMn)"/>
<circle cx="1652.7" cy="326" r="5.78" fill="url(#gCd)"/>
<circle cx="1675.3" cy="326" r="4.65" fill="url(#gS)"/>
<circle cx="1653.3" cy="361.1" r="5.58" fill="url(#gCd)"/>
<circle cx="1651.5" cy="360.2" r="5.62" fill="url(#gMn)"/>
<circle cx="1675.3" cy="360.2" r="4.65" fill="url(#gS)"/>
<circle cx="1682.75" cy="338" r="5.12" fill="url(#gMn)"/>
<circle cx="1684.35" cy="338" r="5.78" fill="url(#gCd)"/>
<circle cx="1706.95" cy="338" r="4.65" fill="url(#gS)"/>
<circle cx="1684.95" cy="372.3" r="5.58" fill="url(#gCd)"/>
<circle cx="1683.15" cy="371.4" r="5.62" fill="url(#gMn)"/>
<circle cx="1706.95" cy="371.4" r="4.65" fill="url(#gS)"/>
<circle cx="1714.4" cy="316.7" r="5.12" fill="url(#gMn)"/>
<circle cx="1716" cy="316.7" r="5.78" fill="url(#gCd)"/>
<circle cx="1738.6" cy="316.7" r="4.65" fill="url(#gS)"/>
<circle cx="1714.4" cy="349.1" r="5.12" fill="url(#gMn)"/>
<circle cx="1716" cy="349.1" r="5.78" fill="url(#gCd)"/>
<circle cx="1738.6" cy="349.1" r="4.65" fill="url(#gS)"/>
<circle cx="1716.6" cy="382.5" r="5.58" fill="url(#gCd)"/>
<circle cx="1714.8" cy="381.6" r="5.62" fill="url(#gMn)"/>
<circle cx="1738.6" cy="381.6" r="4.65" fill="url(#gS)"/>
<circle cx="1746.05" cy="326" r="5.12" fill="url(#gMn)"/>
<circle cx="1747.65" cy="326" r="5.78" fill="url(#gCd)"/>
<circle cx="1770.25" cy="326" r="4.65" fill="url(#gS)"/>
<circle cx="1748.25" cy="361.1" r="5.58" fill="url(#gCd)"/>
<circle cx="1746.45" cy="360.2" r="5.62" fill="url(#gMn)"/>
<circle cx="1770.25" cy="360.2" r="4.65" fill="url(#gS)"/>
<circle cx="1777.7" cy="338" r="5.12" fill="url(#gMn)"/>
<circle cx="1779.3" cy="338" r="5.78" fill="url(#gCd)"/>
<circle cx="1801.9" cy="338" r="4.65" fill="url(#gS)"/>
<circle cx="1779.9" cy="372.3" r="5.58" fill="url(#gCd)"/>
<circle cx="1778.1" cy="371.4" r="5.62" fill="url(#gMn)"/>
<circle cx="1801.9" cy="371.4" r="4.65" fill="url(#gS)"/>
<circle cx="1809.35" cy="316.7" r="5.12" fill="url(#gMn)"/>
<circle cx="1810.95" cy="316.7" r="5.78" fill="url(#gCd)"/>
<circle cx="1833.55" cy="316.7" r="4.65" fill="url(#gS)"/>
<circle cx="1809.35" cy="349.1" r="5.12" fill="url(#gMn)"/>
<circle cx="1810.95" cy="349.1" r="5.78" fill="url(#gCd)"/>
<circle cx="1833.55" cy="349.1" r="4.65" fill="url(#gS)"/>
<circle cx="1811.55" cy="382.5" r="5.58" fill="url(#gCd)"/>
<circle cx="1809.75" cy="381.6" r="5.62" fill="url(#gMn)"/>
<circle cx="1833.55" cy="381.6" r="4.65" fill="url(#gS)"/>
<circle cx="1841" cy="326" r="5.12" fill="url(#gMn)"/>
<circle cx="1842.6" cy="326" r="5.78" fill="url(#gCd)"/>
<circle cx="1865.2" cy="326" r="4.65" fill="url(#gS)"/>
<circle cx="1843.2" cy="361.1" r="5.58" fill="url(#gCd)"/>
<circle cx="1841.4" cy="360.2" r="5.62" fill="url(#gMn)"/>
<circle cx="1865.2" cy="360.2" r="4.65" fill="url(#gS)"/>
<circle cx="1872.65" cy="338" r="5.12" fill="url(#gMn)"/>
<circle cx="1874.25" cy="338" r="5.78" fill="url(#gCd)"/>
<circle cx="1896.85" cy="338" r="4.65" fill="url(#gS)"/>
<circle cx="1874.85" cy="372.3" r="5.58" fill="url(#gCd)"/>
<circle cx="1873.05" cy="371.4" r="5.62" fill="url(#gMn)"/>
<circle cx="1896.85" cy="371.4" r="4.65" fill="url(#gS)"/>
<circle cx="1904.3" cy="326" r="5.12" fill="url(#gMn)"/>
<circle cx="1905.9" cy="326" r="5.78" fill="url(#gCd)"/>
<circle cx="1928.5" cy="326" r="4.65" fill="url(#gS)"/>
<circle cx="1906.5" cy="361.1" r="5.58" fill="url(#gCd)"/>
<circle cx="1904.7" cy="360.2" r="5.62" fill="url(#gMn)"/>
<circle cx="1928.5" cy="360.2" r="4.65" fill="url(#gS)"/>
<circle cx="1935.95" cy="338" r="5.12" fill="url(#gMn)"/>
<circle cx="1937.55" cy="338" r="5.78" fill="url(#gCd)"/>
<circle cx="1960.15" cy="338" r="4.65" fill="url(#gS)"/>
<circle cx="1938.15" cy="372.3" r="5.58" fill="url(#gCd)"/>
<circle cx="1936.35" cy="371.4" r="5.62" fill="url(#gMn)"/>
<circle cx="1960.15" cy="371.4" r="4.65" fill="url(#gS)"/>
<circle cx="1969.8" cy="326.9" r="5.58" fill="url(#gCd)"/>
<circle cx="1968" cy="326" r="5.62" fill="url(#gMn)"/>
<circle cx="1991.8" cy="326" r="4.65" fill="url(#gS)"/>
<circle cx="1969.8" cy="361.1" r="5.58" fill="url(#gCd)"/>
<circle cx="1968" cy="360.2" r="5.62" fill="url(#gMn)"/>
<circle cx="1991.8" cy="360.2" r="4.65" fill="url(#gS)"/>
<circle cx="1999.25" cy="338" r="5.12" fill="url(#gMn)"/>
<circle cx="2000.85" cy="338" r="5.78" fill="url(#gCd)"/>
<circle cx="2023.45" cy="338" r="4.65" fill="url(#gS)"/>
<circle cx="2001.45" cy="372.3" r="5.58" fill="url(#gCd)"/>
<circle cx="1999.65" cy="371.4" r="5.62" fill="url(#gMn)"/>
<circle cx="2023.45" cy="371.4" r="4.65" fill="url(#gS)"/>
<circle cx="2030.9" cy="326" r="5.12" fill="url(#gMn)"/>
<circle cx="2032.5" cy="326" r="5.78" fill="url(#gCd)"/>
<circle cx="2055.1" cy="326" r="4.65" fill="url(#gS)"/>
<circle cx="2033.1" cy="361.1" r="5.58" fill="url(#gCd)"/>
<circle cx="2031.3" cy="360.2" r="5.62" fill="url(#gMn)"/>
<circle cx="2055.1" cy="360.2" r="4.65" fill="url(#gS)"/>
<ellipse cx="1168.7" cy="327" rx="9.2" ry="10.12" fill="url(#gIsoF)"/>
<ellipse cx="1168.7" cy="361.2" rx="9.2" ry="10.12" fill="url(#gIsoF)"/>
<ellipse cx="1177.75" cy="372.4" rx="6" ry="6.6" fill="url(#gIsoF)"/>
<ellipse cx="1232" cy="327" rx="8.5" ry="9.35" fill="url(#gIsoF)"/>
<ellipse cx="1209.4" cy="361.2" rx="6" ry="6.6" fill="url(#gIsoF)"/>
<ellipse cx="1232" cy="361.2" rx="8.5" ry="9.35" fill="url(#gIsoF)"/>
<ellipse cx="1241.05" cy="372.4" rx="5.2" ry="5.72" fill="url(#gIsoF)"/>
<ellipse cx="1295.3" cy="327" rx="5.4" ry="5.94" fill="url(#gIsoF)"/>
<ellipse cx="1295.3" cy="361.2" rx="5.4" ry="5.94" fill="url(#gIsoF)"/>
<ellipse cx="1548.5" cy="327" rx="9.2" ry="10.12" fill="url(#gIsoF)"/>
<ellipse cx="1548.5" cy="361.2" rx="9.2" ry="10.12" fill="url(#gIsoF)"/>
<ellipse cx="1557.55" cy="372.4" rx="6" ry="6.6" fill="url(#gIsoF)"/>
<ellipse cx="1611.8" cy="327" rx="8.5" ry="9.35" fill="url(#gIsoF)"/>
<ellipse cx="1589.2" cy="361.2" rx="6" ry="6.6" fill="url(#gIsoF)"/>
<ellipse cx="1611.8" cy="361.2" rx="8.5" ry="9.35" fill="url(#gIsoF)"/>
<ellipse cx="1620.85" cy="372.4" rx="5.2" ry="5.72" fill="url(#gIsoF)"/>
<ellipse cx="1675.1" cy="327" rx="5.4" ry="5.94" fill="url(#gIsoF)"/>
<ellipse cx="1675.1" cy="361.2" rx="5.4" ry="5.94" fill="url(#gIsoF)"/>
<ellipse cx="1928.3" cy="327" rx="9.2" ry="10.12" fill="url(#gIsoF)"/>
<ellipse cx="1928.3" cy="361.2" rx="9.2" ry="10.12" fill="url(#gIsoF)"/>
<ellipse cx="1937.35" cy="372.4" rx="6" ry="6.6" fill="url(#gIsoF)"/>
<ellipse cx="1991.6" cy="327" rx="8.5" ry="9.35" fill="url(#gIsoF)"/>
<ellipse cx="1969" cy="361.2" rx="6" ry="6.6" fill="url(#gIsoF)"/>
<ellipse cx="1991.6" cy="361.2" rx="8.5" ry="9.35" fill="url(#gIsoF)"/>
<ellipse cx="2000.65" cy="372.4" rx="5.2" ry="5.72" fill="url(#gIsoF)"/>
<ellipse cx="2054.9" cy="327" rx="5.4" ry="5.94" fill="url(#gIsoF)"/>
<ellipse cx="2054.9" cy="361.2" rx="5.4" ry="5.94" fill="url(#gIsoF)"/>
</g>
<clipPath id="cpd"><rect x="1207.8" y="673.8" width="761.1" height="68.9"/></clipPath>
<g clip-path="url(#cpd)">
<path d="M1147.3 686L1158.7 686M1147.3 686L1142.88 691.7M1147.3 686L1142.88 675.4M1178.95 697.4L1190.35 697.4M1178.95 697.4L1174.52 691.7M1178.95 697.4L1174.52 708.75M1210.6 686L1222 686M1210.6 686L1206.17 691.7M1210.6 686L1206.17 675.4M1210.6 720.1L1222 720.1M1210.6 720.1L1206.17 725.6M1210.6 720.1L1206.17 708.75M1242.25 697.4L1253.65 697.4M1242.25 697.4L1237.82 691.7M1242.25 697.4L1237.82 708.75M1273.9 686L1285.3 686M1273.9 686L1269.47 691.7M1273.9 686L1269.47 675.4M1305.55 697.4L1316.95 697.4M1305.55 697.4L1301.12 691.7M1305.55 697.4L1301.12 708.75M1337.2 676L1348.6 676M1337.2 676L1332.77 670.4M1337.2 676L1332.77 686.7M1337.2 708.7L1348.6 708.7M1337.2 708.7L1332.77 703.05M1337.2 708.7L1332.77 719.9M1368.85 686L1380.25 686M1368.85 686L1364.42 681M1368.85 686L1364.42 697.35M1400.5 697.4L1411.9 697.4M1400.5 697.4L1396.07 691.7M1400.5 697.4L1396.07 708.75M1432.15 676L1443.55 676M1432.15 676L1427.72 670.4M1432.15 676L1427.72 686.7M1432.15 708.7L1443.55 708.7M1432.15 708.7L1427.72 703.05M1432.15 708.7L1427.72 719.9M1463.8 686L1475.2 686M1463.8 686L1459.38 681M1463.8 686L1459.38 697.35M1495.45 697.4L1506.85 697.4M1495.45 697.4L1491.02 691.7M1495.45 697.4L1491.02 708.75M1527.1 686L1538.5 686M1527.1 686L1522.67 691.7M1527.1 686L1522.67 675.4M1558.75 697.4L1570.15 697.4M1558.75 697.4L1554.32 691.7M1558.75 697.4L1554.32 708.75M1590.4 686L1601.8 686M1590.4 686L1585.97 691.7M1590.4 686L1585.97 675.4M1622.05 697.4L1633.45 697.4M1622.05 697.4L1617.62 691.7M1622.05 697.4L1617.62 708.75M1653.7 686L1665.1 686M1653.7 686L1649.27 691.7M1653.7 686L1649.27 675.4M1685.35 697.4L1696.75 697.4M1685.35 697.4L1680.92 691.7M1685.35 697.4L1680.92 708.75M1717 676L1728.4 676M1717 676L1712.57 670.4M1717 676L1712.57 686.7M1717 708.7L1728.4 708.7M1717 708.7L1712.57 703.05M1717 708.7L1712.57 719.9M1748.65 686L1760.05 686M1748.65 686L1744.22 681M1748.65 686L1744.22 697.35M1780.3 697.4L1791.7 697.4M1780.3 697.4L1775.87 691.7M1780.3 697.4L1775.87 708.75M1811.95 676L1823.35 676M1811.95 676L1807.52 670.4M1811.95 676L1807.52 686.7M1811.95 708.7L1823.35 708.7M1811.95 708.7L1807.52 703.05M1811.95 708.7L1807.52 719.9M1843.6 686L1855 686M1843.6 686L1839.17 681M1843.6 686L1839.17 697.35M1875.25 697.4L1886.65 697.4M1875.25 697.4L1870.82 691.7M1875.25 697.4L1870.82 708.75M1906.9 686L1918.3 686M1906.9 686L1902.47 691.7M1906.9 686L1902.47 675.4M1938.55 697.4L1949.95 697.4M1938.55 697.4L1934.12 691.7M1938.55 697.4L1934.12 708.75M2001.85 697.4L2013.25 697.4M2001.85 697.4L1997.42 691.7M2001.85 697.4L1997.42 708.75M2033.5 686L2044.9 686M2033.5 686L2029.07 691.7M2033.5 686L2029.07 675.4" stroke="#E58A32" stroke-width="2.1" fill="none"/>
<path d="M1147.3 720.1L1158.7 720.1M1147.3 720.1L1142.88 725.6M1147.3 720.1L1142.88 708.75M1178.95 731.1L1190.35 731.1M1178.95 731.1L1174.52 725.6M1178.95 731.1L1174.52 741.9M1242.25 731.1L1253.65 731.1M1242.25 731.1L1237.82 725.6M1242.25 731.1L1237.82 741.9M1273.9 720.1L1285.3 720.1M1273.9 720.1L1269.47 725.6M1273.9 720.1L1269.47 708.75M1305.55 731.1L1316.95 731.1M1305.55 731.1L1301.12 725.6M1305.55 731.1L1301.12 741.9M1337.2 741.2L1348.6 741.2M1337.2 741.2L1332.77 736.15M1337.2 741.2L1332.77 752.45M1368.85 720.1L1380.25 720.1M1368.85 720.1L1364.42 714.4M1368.85 720.1L1364.42 730.65M1400.5 731.1L1411.9 731.1M1400.5 731.1L1396.07 725.6M1400.5 731.1L1396.07 741.9M1432.15 741.2L1443.55 741.2M1432.15 741.2L1427.72 736.15M1432.15 741.2L1427.72 752.45M1463.8 720.1L1475.2 720.1M1463.8 720.1L1459.38 714.4M1463.8 720.1L1459.38 730.65M1495.45 731.1L1506.85 731.1M1495.45 731.1L1491.02 725.6M1495.45 731.1L1491.02 741.9M1527.1 720.1L1538.5 720.1M1527.1 720.1L1522.67 725.6M1527.1 720.1L1522.67 708.75M1558.75 731.1L1570.15 731.1M1558.75 731.1L1554.32 725.6M1558.75 731.1L1554.32 741.9M1590.4 720.1L1601.8 720.1M1590.4 720.1L1585.97 725.6M1590.4 720.1L1585.97 708.75M1622.05 731.1L1633.45 731.1M1622.05 731.1L1617.62 725.6M1622.05 731.1L1617.62 741.9M1653.7 720.1L1665.1 720.1M1653.7 720.1L1649.27 725.6M1653.7 720.1L1649.27 708.75M1685.35 731.1L1696.75 731.1M1685.35 731.1L1680.92 725.6M1685.35 731.1L1680.92 741.9M1717 741.2L1728.4 741.2M1717 741.2L1712.57 736.15M1717 741.2L1712.57 752.45M1748.65 720.1L1760.05 720.1M1748.65 720.1L1744.22 714.4M1748.65 720.1L1744.22 730.65M1780.3 731.1L1791.7 731.1M1780.3 731.1L1775.87 725.6M1780.3 731.1L1775.87 741.9M1811.95 741.2L1823.35 741.2M1811.95 741.2L1807.52 736.15M1811.95 741.2L1807.52 752.45M1843.6 720.1L1855 720.1M1843.6 720.1L1839.17 714.4M1843.6 720.1L1839.17 730.65M1875.25 731.1L1886.65 731.1M1875.25 731.1L1870.82 725.6M1875.25 731.1L1870.82 741.9M1906.9 720.1L1918.3 720.1M1906.9 720.1L1902.47 725.6M1906.9 720.1L1902.47 708.75M1938.55 731.1L1949.95 731.1M1938.55 731.1L1934.12 725.6M1938.55 731.1L1934.12 741.9M1970.2 686L1981.6 686M1970.2 686L1965.77 691.7M1970.2 686L1965.77 675.4M1970.2 720.1L1981.6 720.1M1970.2 720.1L1965.77 725.6M1970.2 720.1L1965.77 708.75M2001.85 731.1L2013.25 731.1M2001.85 731.1L1997.42 725.6M2001.85 731.1L1997.42 741.9M2033.5 720.1L2044.9 720.1M2033.5 720.1L2029.07 725.6M2033.5 720.1L2029.07 708.75" stroke="#9A9AE6" stroke-width="2.1" fill="none"/>
<path d="M1158.7 686L1170.1 686M1142.88 691.7L1138.45 697.4M1142.88 675.4L1138.45 664.8M1158.7 720.1L1170.1 720.1M1142.88 725.6L1138.45 731.1M1142.88 708.75L1138.45 697.4M1190.35 697.4L1201.75 697.4M1174.52 691.7L1170.1 686M1174.52 708.75L1170.1 720.1M1190.35 731.1L1201.75 731.1M1174.52 725.6L1170.1 720.1M1174.52 741.9L1170.1 752.7M1222 686L1233.4 686M1206.17 691.7L1201.75 697.4M1206.17 675.4L1201.75 664.8M1222 720.1L1233.4 720.1M1206.17 725.6L1201.75 731.1M1206.17 708.75L1201.75 697.4M1253.65 697.4L1265.05 697.4M1237.82 691.7L1233.4 686M1237.82 708.75L1233.4 720.1M1253.65 731.1L1265.05 731.1M1237.82 725.6L1233.4 720.1M1237.82 741.9L1233.4 752.7M1285.3 686L1296.7 686M1269.47 691.7L1265.05 697.4M1269.47 675.4L1265.05 664.8M1285.3 720.1L1296.7 720.1M1269.47 725.6L1265.05 731.1M1269.47 708.75L1265.05 697.4M1316.95 697.4L1328.35 697.4M1301.12 691.7L1296.7 686M1301.12 708.75L1296.7 720.1M1316.95 731.1L1328.35 731.1M1301.12 725.6L1296.7 720.1M1301.12 741.9L1296.7 752.7M1348.6 676L1360 676M1332.77 670.4L1328.35 664.8M1332.77 686.7L1328.35 697.4M1348.6 708.7L1360 708.7M1332.77 703.05L1328.35 697.4M1332.77 719.9L1328.35 731.1M1348.6 741.2L1360 741.2M1332.77 736.15L1328.35 731.1M1332.77 752.45L1328.35 763.7M1380.25 686L1391.65 686M1364.42 681L1360 676M1364.42 697.35L1360 708.7M1380.25 720.1L1391.65 720.1M1364.42 714.4L1360 708.7M1364.42 730.65L1360 741.2M1411.9 697.4L1423.3 697.4M1396.07 691.7L1391.65 686M1396.07 708.75L1391.65 720.1M1411.9 731.1L1423.3 731.1M1396.07 725.6L1391.65 720.1M1396.07 741.9L1391.65 752.7M1443.55 676L1454.95 676M1427.72 670.4L1423.3 664.8M1427.72 686.7L1423.3 697.4M1443.55 708.7L1454.95 708.7M1427.72 703.05L1423.3 697.4M1427.72 719.9L1423.3 731.1M1443.55 741.2L1454.95 741.2M1427.72 736.15L1423.3 731.1M1427.72 752.45L1423.3 763.7M1475.2 686L1486.6 686M1459.38 681L1454.95 676M1459.38 697.35L1454.95 708.7M1475.2 720.1L1486.6 720.1M1459.38 714.4L1454.95 708.7M1459.38 730.65L1454.95 741.2M1506.85 697.4L1518.25 697.4M1491.02 691.7L1486.6 686M1491.02 708.75L1486.6 720.1M1506.85 731.1L1518.25 731.1M1491.02 725.6L1486.6 720.1M1491.02 741.9L1486.6 752.7M1538.5 686L1549.9 686M1522.67 691.7L1518.25 697.4M1522.67 675.4L1518.25 664.8M1538.5 720.1L1549.9 720.1M1522.67 725.6L1518.25 731.1M1522.67 708.75L1518.25 697.4M1570.15 697.4L1581.55 697.4M1554.32 691.7L1549.9 686M1554.32 708.75L1549.9 720.1M1570.15 731.1L1581.55 731.1M1554.32 725.6L1549.9 720.1M1554.32 741.9L1549.9 752.7M1601.8 686L1613.2 686M1585.97 691.7L1581.55 697.4M1585.97 675.4L1581.55 664.8M1601.8 720.1L1613.2 720.1M1585.97 725.6L1581.55 731.1M1585.97 708.75L1581.55 697.4M1633.45 697.4L1644.85 697.4M1617.62 691.7L1613.2 686M1617.62 708.75L1613.2 720.1M1633.45 731.1L1644.85 731.1M1617.62 725.6L1613.2 720.1M1617.62 741.9L1613.2 752.7M1665.1 686L1676.5 686M1649.27 691.7L1644.85 697.4M1649.27 675.4L1644.85 664.8M1665.1 720.1L1676.5 720.1M1649.27 725.6L1644.85 731.1M1649.27 708.75L1644.85 697.4M1696.75 697.4L1708.15 697.4M1680.92 691.7L1676.5 686M1680.92 708.75L1676.5 720.1M1696.75 731.1L1708.15 731.1M1680.92 725.6L1676.5 720.1M1680.92 741.9L1676.5 752.7M1728.4 676L1739.8 676M1712.57 670.4L1708.15 664.8M1712.57 686.7L1708.15 697.4M1728.4 708.7L1739.8 708.7M1712.57 703.05L1708.15 697.4M1712.57 719.9L1708.15 731.1M1728.4 741.2L1739.8 741.2M1712.57 736.15L1708.15 731.1M1712.57 752.45L1708.15 763.7M1760.05 686L1771.45 686M1744.22 681L1739.8 676M1744.22 697.35L1739.8 708.7M1760.05 720.1L1771.45 720.1M1744.22 714.4L1739.8 708.7M1744.22 730.65L1739.8 741.2M1791.7 697.4L1803.1 697.4M1775.87 691.7L1771.45 686M1775.87 708.75L1771.45 720.1M1791.7 731.1L1803.1 731.1M1775.87 725.6L1771.45 720.1M1775.87 741.9L1771.45 752.7M1823.35 676L1834.75 676M1807.52 670.4L1803.1 664.8M1807.52 686.7L1803.1 697.4M1823.35 708.7L1834.75 708.7M1807.52 703.05L1803.1 697.4M1807.52 719.9L1803.1 731.1M1823.35 741.2L1834.75 741.2M1807.52 736.15L1803.1 731.1M1807.52 752.45L1803.1 763.7M1855 686L1866.4 686M1839.17 681L1834.75 676M1839.17 697.35L1834.75 708.7M1855 720.1L1866.4 720.1M1839.17 714.4L1834.75 708.7M1839.17 730.65L1834.75 741.2M1886.65 697.4L1898.05 697.4M1870.82 691.7L1866.4 686M1870.82 708.75L1866.4 720.1M1886.65 731.1L1898.05 731.1M1870.82 725.6L1866.4 720.1M1870.82 741.9L1866.4 752.7M1918.3 686L1929.7 686M1902.47 691.7L1898.05 697.4M1902.47 675.4L1898.05 664.8M1918.3 720.1L1929.7 720.1M1902.47 725.6L1898.05 731.1M1902.47 708.75L1898.05 697.4M1949.95 697.4L1961.35 697.4M1934.12 691.7L1929.7 686M1934.12 708.75L1929.7 720.1M1949.95 731.1L1961.35 731.1M1934.12 725.6L1929.7 720.1M1934.12 741.9L1929.7 752.7M1981.6 686L1993 686M1965.77 691.7L1961.35 697.4M1965.77 675.4L1961.35 664.8M1981.6 720.1L1993 720.1M1965.77 725.6L1961.35 731.1M1965.77 708.75L1961.35 697.4M2013.25 697.4L2024.65 697.4M1997.42 691.7L1993 686M1997.42 708.75L1993 720.1M2013.25 731.1L2024.65 731.1M1997.42 725.6L1993 720.1M1997.42 741.9L1993 752.7M2044.9 686L2056.3 686M2029.07 691.7L2024.65 697.4M2029.07 675.4L2024.65 664.8M2044.9 720.1L2056.3 720.1M2029.07 725.6L2024.65 731.1M2029.07 708.75L2024.65 697.4" stroke="#E2E232" stroke-width="2.1" fill="none"/>
<circle cx="1145.7" cy="686" r="5.12" fill="url(#gMn)"/>
<circle cx="1147.3" cy="686" r="5.78" fill="url(#gCd)"/>
<circle cx="1170.1" cy="686" r="4.65" fill="url(#gS)"/>
<circle cx="1147.9" cy="721" r="5.58" fill="url(#gCd)"/>
<circle cx="1146.1" cy="720.1" r="5.62" fill="url(#gMn)"/>
<circle cx="1170.1" cy="720.1" r="4.65" fill="url(#gS)"/>
<circle cx="1177.35" cy="697.4" r="5.12" fill="url(#gMn)"/>
<circle cx="1178.95" cy="697.4" r="5.78" fill="url(#gCd)"/>
<circle cx="1201.75" cy="697.4" r="4.65" fill="url(#gS)"/>
<circle cx="1179.55" cy="732" r="5.58" fill="url(#gCd)"/>
<circle cx="1177.75" cy="731.1" r="5.62" fill="url(#gMn)"/>
<circle cx="1201.75" cy="731.1" r="4.65" fill="url(#gS)"/>
<circle cx="1210.6" cy="686" r="5.78" fill="url(#gCd)"/>
<circle cx="1233.4" cy="686" r="4.65" fill="url(#gS)"/>
<circle cx="1210.6" cy="720.1" r="5.78" fill="url(#gCd)"/>
<circle cx="1233.4" cy="720.1" r="4.65" fill="url(#gS)"/>
<circle cx="1240.65" cy="697.4" r="5.12" fill="url(#gMn)"/>
<circle cx="1242.25" cy="697.4" r="5.78" fill="url(#gCd)"/>
<circle cx="1265.05" cy="697.4" r="4.65" fill="url(#gS)"/>
<circle cx="1242.85" cy="732" r="5.58" fill="url(#gCd)"/>
<circle cx="1241.05" cy="731.1" r="5.62" fill="url(#gMn)"/>
<circle cx="1265.05" cy="731.1" r="4.65" fill="url(#gS)"/>
<circle cx="1272.3" cy="686" r="5.12" fill="url(#gMn)"/>
<circle cx="1273.9" cy="686" r="5.78" fill="url(#gCd)"/>
<circle cx="1296.7" cy="686" r="4.65" fill="url(#gS)"/>
<circle cx="1274.5" cy="721" r="5.58" fill="url(#gCd)"/>
<circle cx="1272.7" cy="720.1" r="5.62" fill="url(#gMn)"/>
<circle cx="1296.7" cy="720.1" r="4.65" fill="url(#gS)"/>
<circle cx="1303.95" cy="697.4" r="5.12" fill="url(#gMn)"/>
<circle cx="1305.55" cy="697.4" r="5.78" fill="url(#gCd)"/>
<circle cx="1328.35" cy="697.4" r="4.65" fill="url(#gS)"/>
<circle cx="1306.15" cy="732" r="5.58" fill="url(#gCd)"/>
<circle cx="1304.35" cy="731.1" r="5.62" fill="url(#gMn)"/>
<circle cx="1328.35" cy="731.1" r="4.65" fill="url(#gS)"/>
<circle cx="1335.6" cy="676" r="5.12" fill="url(#gMn)"/>
<circle cx="1337.2" cy="676" r="5.78" fill="url(#gCd)"/>
<circle cx="1360" cy="676" r="4.65" fill="url(#gS)"/>
<circle cx="1335.6" cy="708.7" r="5.12" fill="url(#gMn)"/>
<circle cx="1337.2" cy="708.7" r="5.78" fill="url(#gCd)"/>
<circle cx="1360" cy="708.7" r="4.65" fill="url(#gS)"/>
<circle cx="1337.8" cy="742.1" r="5.58" fill="url(#gCd)"/>
<circle cx="1336" cy="741.2" r="5.62" fill="url(#gMn)"/>
<circle cx="1360" cy="741.2" r="4.65" fill="url(#gS)"/>
<circle cx="1367.25" cy="686" r="5.12" fill="url(#gMn)"/>
<circle cx="1368.85" cy="686" r="5.78" fill="url(#gCd)"/>
<circle cx="1391.65" cy="686" r="4.65" fill="url(#gS)"/>
<circle cx="1369.45" cy="721" r="5.58" fill="url(#gCd)"/>
<circle cx="1367.65" cy="720.1" r="5.62" fill="url(#gMn)"/>
<circle cx="1391.65" cy="720.1" r="4.65" fill="url(#gS)"/>
<circle cx="1398.9" cy="697.4" r="5.12" fill="url(#gMn)"/>
<circle cx="1400.5" cy="697.4" r="5.78" fill="url(#gCd)"/>
<circle cx="1423.3" cy="697.4" r="4.65" fill="url(#gS)"/>
<circle cx="1401.1" cy="732" r="5.58" fill="url(#gCd)"/>
<circle cx="1399.3" cy="731.1" r="5.62" fill="url(#gMn)"/>
<circle cx="1423.3" cy="731.1" r="4.65" fill="url(#gS)"/>
<circle cx="1430.55" cy="676" r="5.12" fill="url(#gMn)"/>
<circle cx="1432.15" cy="676" r="5.78" fill="url(#gCd)"/>
<circle cx="1454.95" cy="676" r="4.65" fill="url(#gS)"/>
<circle cx="1430.55" cy="708.7" r="5.12" fill="url(#gMn)"/>
<circle cx="1432.15" cy="708.7" r="5.78" fill="url(#gCd)"/>
<circle cx="1454.95" cy="708.7" r="4.65" fill="url(#gS)"/>
<circle cx="1432.75" cy="742.1" r="5.58" fill="url(#gCd)"/>
<circle cx="1430.95" cy="741.2" r="5.62" fill="url(#gMn)"/>
<circle cx="1454.95" cy="741.2" r="4.65" fill="url(#gS)"/>
<circle cx="1462.2" cy="686" r="5.12" fill="url(#gMn)"/>
<circle cx="1463.8" cy="686" r="5.78" fill="url(#gCd)"/>
<circle cx="1486.6" cy="686" r="4.65" fill="url(#gS)"/>
<circle cx="1464.4" cy="721" r="5.58" fill="url(#gCd)"/>
<circle cx="1462.6" cy="720.1" r="5.62" fill="url(#gMn)"/>
<circle cx="1486.6" cy="720.1" r="4.65" fill="url(#gS)"/>
<circle cx="1493.85" cy="697.4" r="5.12" fill="url(#gMn)"/>
<circle cx="1495.45" cy="697.4" r="5.78" fill="url(#gCd)"/>
<circle cx="1518.25" cy="697.4" r="4.65" fill="url(#gS)"/>
<circle cx="1496.05" cy="732" r="5.58" fill="url(#gCd)"/>
<circle cx="1494.25" cy="731.1" r="5.62" fill="url(#gMn)"/>
<circle cx="1518.25" cy="731.1" r="4.65" fill="url(#gS)"/>
<circle cx="1525.5" cy="686" r="5.12" fill="url(#gMn)"/>
<circle cx="1527.1" cy="686" r="5.78" fill="url(#gCd)"/>
<circle cx="1549.9" cy="686" r="4.65" fill="url(#gS)"/>
<circle cx="1527.7" cy="721" r="5.58" fill="url(#gCd)"/>
<circle cx="1525.9" cy="720.1" r="5.62" fill="url(#gMn)"/>
<circle cx="1549.9" cy="720.1" r="4.65" fill="url(#gS)"/>
<circle cx="1557.15" cy="697.4" r="5.12" fill="url(#gMn)"/>
<circle cx="1558.75" cy="697.4" r="5.78" fill="url(#gCd)"/>
<circle cx="1581.55" cy="697.4" r="4.65" fill="url(#gS)"/>
<circle cx="1559.35" cy="732" r="5.58" fill="url(#gCd)"/>
<circle cx="1557.55" cy="731.1" r="5.62" fill="url(#gMn)"/>
<circle cx="1581.55" cy="731.1" r="4.65" fill="url(#gS)"/>
<circle cx="1588.8" cy="686" r="5.12" fill="url(#gMn)"/>
<circle cx="1590.4" cy="686" r="5.78" fill="url(#gCd)"/>
<circle cx="1613.2" cy="686" r="4.65" fill="url(#gS)"/>
<circle cx="1591" cy="721" r="5.58" fill="url(#gCd)"/>
<circle cx="1589.2" cy="720.1" r="5.62" fill="url(#gMn)"/>
<circle cx="1613.2" cy="720.1" r="4.65" fill="url(#gS)"/>
<circle cx="1620.45" cy="697.4" r="5.12" fill="url(#gMn)"/>
<circle cx="1622.05" cy="697.4" r="5.78" fill="url(#gCd)"/>
<circle cx="1644.85" cy="697.4" r="4.65" fill="url(#gS)"/>
<circle cx="1622.65" cy="732" r="5.58" fill="url(#gCd)"/>
<circle cx="1620.85" cy="731.1" r="5.62" fill="url(#gMn)"/>
<circle cx="1644.85" cy="731.1" r="4.65" fill="url(#gS)"/>
<circle cx="1652.1" cy="686" r="5.12" fill="url(#gMn)"/>
<circle cx="1653.7" cy="686" r="5.78" fill="url(#gCd)"/>
<circle cx="1676.5" cy="686" r="4.65" fill="url(#gS)"/>
<circle cx="1654.3" cy="721" r="5.58" fill="url(#gCd)"/>
<circle cx="1652.5" cy="720.1" r="5.62" fill="url(#gMn)"/>
<circle cx="1676.5" cy="720.1" r="4.65" fill="url(#gS)"/>
<circle cx="1683.75" cy="697.4" r="5.12" fill="url(#gMn)"/>
<circle cx="1685.35" cy="697.4" r="5.78" fill="url(#gCd)"/>
<circle cx="1708.15" cy="697.4" r="4.65" fill="url(#gS)"/>
<circle cx="1685.95" cy="732" r="5.58" fill="url(#gCd)"/>
<circle cx="1684.15" cy="731.1" r="5.62" fill="url(#gMn)"/>
<circle cx="1708.15" cy="731.1" r="4.65" fill="url(#gS)"/>
<circle cx="1715.4" cy="676" r="5.12" fill="url(#gMn)"/>
<circle cx="1717" cy="676" r="5.78" fill="url(#gCd)"/>
<circle cx="1739.8" cy="676" r="4.65" fill="url(#gS)"/>
<circle cx="1715.4" cy="708.7" r="5.12" fill="url(#gMn)"/>
<circle cx="1717" cy="708.7" r="5.78" fill="url(#gCd)"/>
<circle cx="1739.8" cy="708.7" r="4.65" fill="url(#gS)"/>
<circle cx="1717.6" cy="742.1" r="5.58" fill="url(#gCd)"/>
<circle cx="1715.8" cy="741.2" r="5.62" fill="url(#gMn)"/>
<circle cx="1739.8" cy="741.2" r="4.65" fill="url(#gS)"/>
<circle cx="1747.05" cy="686" r="5.12" fill="url(#gMn)"/>
<circle cx="1748.65" cy="686" r="5.78" fill="url(#gCd)"/>
<circle cx="1771.45" cy="686" r="4.65" fill="url(#gS)"/>
<circle cx="1749.25" cy="721" r="5.58" fill="url(#gCd)"/>
<circle cx="1747.45" cy="720.1" r="5.62" fill="url(#gMn)"/>
<circle cx="1771.45" cy="720.1" r="4.65" fill="url(#gS)"/>
<circle cx="1778.7" cy="697.4" r="5.12" fill="url(#gMn)"/>
<circle cx="1780.3" cy="697.4" r="5.78" fill="url(#gCd)"/>
<circle cx="1803.1" cy="697.4" r="4.65" fill="url(#gS)"/>
<circle cx="1780.9" cy="732" r="5.58" fill="url(#gCd)"/>
<circle cx="1779.1" cy="731.1" r="5.62" fill="url(#gMn)"/>
<circle cx="1803.1" cy="731.1" r="4.65" fill="url(#gS)"/>
<circle cx="1810.35" cy="676" r="5.12" fill="url(#gMn)"/>
<circle cx="1811.95" cy="676" r="5.78" fill="url(#gCd)"/>
<circle cx="1834.75" cy="676" r="4.65" fill="url(#gS)"/>
<circle cx="1810.35" cy="708.7" r="5.12" fill="url(#gMn)"/>
<circle cx="1811.95" cy="708.7" r="5.78" fill="url(#gCd)"/>
<circle cx="1834.75" cy="708.7" r="4.65" fill="url(#gS)"/>
<circle cx="1812.55" cy="742.1" r="5.58" fill="url(#gCd)"/>
<circle cx="1810.75" cy="741.2" r="5.62" fill="url(#gMn)"/>
<circle cx="1834.75" cy="741.2" r="4.65" fill="url(#gS)"/>
<circle cx="1842" cy="686" r="5.12" fill="url(#gMn)"/>
<circle cx="1843.6" cy="686" r="5.78" fill="url(#gCd)"/>
<circle cx="1866.4" cy="686" r="4.65" fill="url(#gS)"/>
<circle cx="1844.2" cy="721" r="5.58" fill="url(#gCd)"/>
<circle cx="1842.4" cy="720.1" r="5.62" fill="url(#gMn)"/>
<circle cx="1866.4" cy="720.1" r="4.65" fill="url(#gS)"/>
<circle cx="1873.65" cy="697.4" r="5.12" fill="url(#gMn)"/>
<circle cx="1875.25" cy="697.4" r="5.78" fill="url(#gCd)"/>
<circle cx="1898.05" cy="697.4" r="4.65" fill="url(#gS)"/>
<circle cx="1875.85" cy="732" r="5.58" fill="url(#gCd)"/>
<circle cx="1874.05" cy="731.1" r="5.62" fill="url(#gMn)"/>
<circle cx="1898.05" cy="731.1" r="4.65" fill="url(#gS)"/>
<circle cx="1905.3" cy="686" r="5.12" fill="url(#gMn)"/>
<circle cx="1906.9" cy="686" r="5.78" fill="url(#gCd)"/>
<circle cx="1929.7" cy="686" r="4.65" fill="url(#gS)"/>
<circle cx="1907.5" cy="721" r="5.58" fill="url(#gCd)"/>
<circle cx="1905.7" cy="720.1" r="5.62" fill="url(#gMn)"/>
<circle cx="1929.7" cy="720.1" r="4.65" fill="url(#gS)"/>
<circle cx="1936.95" cy="697.4" r="5.12" fill="url(#gMn)"/>
<circle cx="1938.55" cy="697.4" r="5.78" fill="url(#gCd)"/>
<circle cx="1961.35" cy="697.4" r="4.65" fill="url(#gS)"/>
<circle cx="1939.15" cy="732" r="5.58" fill="url(#gCd)"/>
<circle cx="1937.35" cy="731.1" r="5.62" fill="url(#gMn)"/>
<circle cx="1961.35" cy="731.1" r="4.65" fill="url(#gS)"/>
<circle cx="1970.8" cy="686.9" r="5.58" fill="url(#gCd)"/>
<circle cx="1969" cy="686" r="5.62" fill="url(#gMn)"/>
<circle cx="1993" cy="686" r="4.65" fill="url(#gS)"/>
<circle cx="1970.8" cy="721" r="5.58" fill="url(#gCd)"/>
<circle cx="1969" cy="720.1" r="5.62" fill="url(#gMn)"/>
<circle cx="1993" cy="720.1" r="4.65" fill="url(#gS)"/>
<circle cx="2000.25" cy="697.4" r="5.12" fill="url(#gMn)"/>
<circle cx="2001.85" cy="697.4" r="5.78" fill="url(#gCd)"/>
<circle cx="2024.65" cy="697.4" r="4.65" fill="url(#gS)"/>
<circle cx="2002.45" cy="732" r="5.58" fill="url(#gCd)"/>
<circle cx="2000.65" cy="731.1" r="5.62" fill="url(#gMn)"/>
<circle cx="2024.65" cy="731.1" r="4.65" fill="url(#gS)"/>
<circle cx="2031.9" cy="686" r="5.12" fill="url(#gMn)"/>
<circle cx="2033.5" cy="686" r="5.78" fill="url(#gCd)"/>
<circle cx="2056.3" cy="686" r="4.65" fill="url(#gS)"/>
<circle cx="2034.1" cy="721" r="5.58" fill="url(#gCd)"/>
<circle cx="2032.3" cy="720.1" r="5.62" fill="url(#gMn)"/>
<circle cx="2056.3" cy="720.1" r="4.65" fill="url(#gS)"/>
</g>
<polyline points="215.1,222.0 215.6,221.3 216.1,220.0 216.6,218.2 217.1,216.2 217.6,214.0 218.1,211.6 218.6,209.3 219.1,207.1 219.6,205.1 220.1,203.4 220.6,202.2 221.1,201.6 221.6,201.6 222.1,202.2 222.6,203.3 223.1,204.8 223.6,206.7 224.1,208.9 224.6,211.4 225.1,214.1 225.6,216.8 226.1,219.6 226.6,222.3 227.1,225.0 227.6,227.5 228.1,229.7 228.6,231.6 229.1,233.1 229.6,234.2 230.1,234.8 230.6,234.8 231.1,234.2 231.6,233.0 232.1,231.3 232.6,229.2 233.1,226.8 233.6,224.1 234.1,221.2 234.6,218.2 235.1,215.2 235.6,212.2 236.1,209.2 236.6,206.5 237.1,204.0 237.6,201.8 238.1,200.0 238.6,198.6 239.1,197.8 239.6,197.6 240.1,198.1 240.6,199.2 241.1,200.8 241.6,202.8 242.1,205.1 242.6,207.6 243.1,210.2 243.6,212.7 244.1,215.2 244.6,217.4 245.1,219.4 245.6,220.9 246.1,221.9 246.6,222.2 247.1,221.9 247.6,220.9 248.1,219.5 248.6,217.6 249.1,215.5 249.6,213.3 250.1,210.9 250.6,208.6 251.1,206.5 251.6,204.6 252.1,203.0 252.6,202.0 253.1,201.5 253.6,201.7 254.1,202.4 254.6,203.7 255.1,205.3 255.6,207.4 256.1,209.7 256.6,212.2 257.1,214.9 257.6,217.6 258.1,220.4 258.6,223.1 259.1,225.7 259.6,228.1 260.1,230.3 260.6,232.1 261.1,233.5 261.6,234.5 262.1,234.9 262.6,234.7 263.1,233.9 263.6,232.5 264.1,230.7 264.6,228.5 265.1,226.0 265.6,223.3 266.1,220.3 266.6,217.3 267.1,214.3 267.6,211.3 268.1,208.4 268.6,205.7 269.1,203.3 269.6,201.2 270.1,199.5 270.6,198.3 271.1,197.7 271.6,197.7 272.1,198.4 272.6,199.6 273.1,201.3 273.6,203.4 274.1,205.8 274.6,208.3 275.1,210.9 275.6,213.5 276.1,215.9 276.6,218.1 277.1,219.9 277.6,221.2 278.1,222.0 278.6,222.2 279.1,221.6 279.6,220.5 280.1,219.0 280.6,217.0 281.1,214.9 281.6,212.6 282.1,210.2 282.6,207.9 283.1,205.9 283.6,204.1 284.1,202.7 284.6,201.8 285.1,201.5 285.6,201.9 286.1,202.8 286.6,204.1 287.1,205.9 287.6,208.0 288.1,210.4 288.6,213.0 289.1,215.7 289.6,218.5 290.1,221.2 290.6,223.9 291.1,226.5 291.6,228.8 292.1,230.9 292.6,232.6 293.1,233.9 293.6,234.7 294.1,234.9 294.6,234.5 295.1,233.5 295.6,232.1 296.1,230.1 296.6,227.8 297.1,225.2 297.6,222.4 298.1,219.4 298.6,216.4 299.1,213.4 299.6,210.4 300.1,207.5 300.6,204.9 301.1,202.6 301.6,200.6 302.1,199.1 302.6,198.1 303.1,197.6 303.6,197.8 304.1,198.7 304.6,200.1 305.1,201.9 305.6,204.1 306.1,206.6 306.6,209.1 307.1,211.7 307.6,214.2 308.1,216.6 308.6,218.6 309.1,220.3 309.6,221.5 310.1,222.1 310.6,222.1 311.1,221.4 311.6,220.1 312.1,218.4 312.6,216.4 313.1,214.2 313.6,211.8 314.1,209.5 314.6,207.3 315.1,205.3 315.6,203.6 316.1,202.3 316.6,201.6 317.1,201.5 317.6,202.1 318.1,203.1 318.6,204.6 319.1,206.5 319.6,208.7 320.1,211.2 320.6,213.8 321.1,216.5 321.6,219.3 322.1,222.1 322.6,224.7 323.1,227.2 323.6,229.5 324.1,231.4 324.6,233.0 325.1,234.2 325.6,234.8 326.1,234.8 326.6,234.3 327.1,233.1 327.6,231.5 328.1,229.5 328.6,227.1 329.1,224.4 329.6,221.5 330.1,218.5 330.6,215.5 331.1,212.5 331.6,209.5 332.1,206.7 332.6,204.2 333.1,202.0 333.6,200.1 334.1,198.7 334.6,197.9 335.1,197.6 335.6,198.0 336.1,199.1 336.6,200.6 337.1,202.6 337.6,204.8 338.1,207.3 338.6,209.9 339.1,212.5 339.6,215.0 340.1,217.2 340.6,219.2 341.1,220.7 341.6,221.8 342.1,222.2 342.6,221.9 343.1,221.0 343.6,219.6 344.1,217.8 344.6,215.8 345.1,213.5 345.6,211.1 346.1,208.8 346.6,206.7 347.1,204.7 347.6,203.2 348.1,202.1 348.6,201.5 349.1,201.6 349.6,202.3 350.1,203.5 350.6,205.2 351.1,207.1 351.6,209.4 352.1,211.9 352.6,214.6 353.1,217.4 353.6,220.1 354.1,222.9 354.6,225.5 355.1,227.9 355.6,230.1 356.1,231.9 356.6,233.4 357.1,234.4 357.6,234.9 358.1,234.7 358.6,234.0 359.1,232.7 359.6,230.9 360.1,228.8 360.6,226.3 361.1,223.6 361.6,220.6 362.1,217.6 362.6,214.6 363.1,211.6 363.6,208.7 364.1,205.9 364.6,203.5 365.1,201.4 365.6,199.6 366.1,198.4 366.6,197.7 367.1,197.7 367.6,198.3 368.1,199.5 368.6,201.2 369.1,203.2 369.6,205.6 370.1,208.1 370.6,210.7 371.1,213.2 371.6,215.7 372.1,217.9 372.6,219.7 373.1,221.1 373.6,222.0 374.1,222.2 374.6,221.7 375.1,220.7 375.6,219.1 376.1,217.2 376.6,215.1 377.1,212.8 377.6,210.4 378.1,208.2 378.6,206.1 379.1,204.2 379.6,202.8 380.1,201.8 380.6,201.5 381.1,201.8 381.6,202.6 382.1,204.0 382.6,205.7 383.1,207.8 383.6,210.2 384.1,212.7 384.6,215.4 385.1,218.2 385.6,221.0 386.1,223.7 386.6,226.2 387.1,228.6 387.6,230.7 388.1,232.4 388.6,233.8 389.1,234.6 389.6,234.9 390.1,234.6 390.6,233.7 391.1,232.2 391.6,230.3 392.1,228.1 392.6,225.5 393.1,222.7 393.6,219.7 394.1,216.7 394.6,213.7 395.1,210.7 395.6,207.8 396.1,205.2 396.6,202.8 397.1,200.8 397.6,199.2 398.1,198.1 398.6,197.6 399.1,197.8 399.6,198.6 400.1,199.9 400.6,201.7 401.1,203.9 401.6,206.3 402.1,208.9 402.6,211.5 403.1,214.0 403.6,216.4 404.1,218.5 404.6,220.2 405.1,221.4 405.6,222.1 406.1,222.1 406.6,221.5 407.1,220.3 407.6,218.6 408.1,216.6 408.6,214.4 409.1,212.1 409.6,209.7 410.1,207.5 410.6,205.5 411.1,203.7 411.6,202.4 412.1,201.7 412.6,201.5 413.1,202.0 413.6,203.0 414.1,204.5 414.6,206.3 415.1,208.5 415.6,210.9 416.1,213.5 416.6,216.3 417.1,219.0 417.6,221.8 418.1,224.5 418.6,227.0 419.1,229.3 419.6,231.2 420.1,232.9 420.6,234.1 421.1,234.8 421.6,234.9 422.1,234.4 422.6,233.3 423.1,231.7 423.6,229.7 424.1,227.3 424.6,224.7 425.1,221.8 425.6,218.8 426.1,215.8 426.6,212.8 427.1,209.8 427.6,207.0 428.1,204.4 428.6,202.2 429.1,200.3 429.6,198.8 430.1,197.9 430.6,197.6 431.1,197.9 431.6,198.9 432.1,200.4 432.6,202.4 433.1,204.6 433.6,207.1 434.1,209.6 434.6,212.2 435.1,214.7 435.6,217.0 436.1,219.0 436.6,220.6 437.1,221.7 437.6,222.2 438.1,222.0 438.6,221.2 439.1,219.8 439.6,218.0 440.1,216.0 440.6,213.7 441.1,211.4 441.6,209.1 442.1,206.9 442.6,204.9 443.1,203.3 443.6,202.1 444.1,201.6 444.6,201.6 445.1,202.2 445.6,203.4 446.1,205.0 446.6,206.9 447.1,209.2 447.6,211.7 448.1,214.3 448.6,217.1 449.1,219.9 449.6,222.6 450.1,225.2 450.6,227.7 451.1,229.9 451.6,231.8 452.1,233.3 452.6,234.3 453.1,234.9 453.6,234.8 454.1,234.1 454.6,232.9 455.1,231.1 455.6,229.0 456.1,226.6 456.6,223.8 457.1,220.9 457.6,217.9 458.1,214.9 458.6,211.9 459.1,208.9 459.6,206.2 460.1,203.7 460.6,201.6 461.1,199.8 461.6,198.5 462.1,197.8 462.6,197.6 463.1,198.2 463.6,199.3 464.1,201.0 464.6,203.0 465.1,205.3 465.6,207.8 466.1,210.4 466.6,213.0 467.1,215.4 467.6,217.7 468.1,219.5 468.6,221.0 469.1,221.9 469.6,222.2 470.1,221.8 470.6,220.8 471.1,219.3 471.6,217.4 472.1,215.3 472.6,213.0 473.1,210.7 473.6,208.4 474.1,206.3 474.6,204.4 475.1,202.9 475.6,201.9 476.1,201.5 476.6,201.7 477.1,202.5 477.6,203.8 478.1,205.5 478.6,207.6 479.1,209.9 479.6,212.5 480.1,215.2 480.6,217.9 481.1,220.7 481.6,223.4 482.1,226.0 482.6,228.4 483.1,230.5 483.6,232.3 484.1,233.6 484.6,234.5 485.1,234.9 485.6,234.6 486.1,233.8 486.6,232.4 487.1,230.5 487.6,228.3 488.1,225.8 488.6,223.0 489.1,220.0 489.6,217.0 490.1,214.0 490.6,211.0 491.1,208.1 491.6,205.4 492.1,203.0 492.6,201.0 493.1,199.4 493.6,198.2 494.1,197.7 494.6,197.7 495.1,198.5 495.6,199.8 496.1,201.5 496.6,203.7 497.1,206.1 497.6,208.6 498.1,211.2 498.6,213.7 499.1,216.1 499.6,218.3 500.1,220.0 500.6,221.3 501.1,222.1 501.6,222.1 502.1,221.6 502.6,220.4 503.1,218.8 503.6,216.8 504.1,214.6 504.6,212.3 505.1,210.0 505.6,207.7 506.1,205.7 506.6,203.9 507.1,202.5 507.6,201.7 508.1,201.5 508.6,201.9 509.1,202.9 509.6,204.3 510.1,206.1 510.6,208.3 511.1,210.7 511.6,213.3 512.1,216.0 512.6,218.8 513.1,221.5 513.6,224.2 514.1,226.7 514.6,229.0 515.1,231.1 515.6,232.7 516.1,234.0 516.6,234.7 517.1,234.9 517.6,234.4 518.1,233.4 518.6,231.9 519.1,229.9 519.6,227.6 520.1,225.0 520.6,222.1 521.1,219.1 521.6,216.1 522.1,213.1 522.6,210.1 523.1,207.3 523.6,204.7 524.1,202.4 524.6,200.4 525.1,199.0 525.6,198.0 526.1,197.6 526.6,197.9 527.1,198.8 527.6,200.3 528.1,202.1 528.6,204.4 529.1,206.8 529.6,209.4 530.1,212.0 530.6,214.5 531.1,216.8 531.6,218.8 532.1,220.5 532.6,221.6 533.1,222.2 533.6,222.0 534.1,221.3 534.6,220.0 535.1,218.2 535.6,216.2 536.1,214.0 536.6,211.6 537.1,209.3 537.6,207.1 538.1,205.1 538.6,203.4 539.1,202.2 539.6,201.6 540.1,201.6 540.6,202.2 541.1,203.3 541.6,204.8 542.1,206.7 542.6,208.9 543.1,211.4 543.6,214.1 544.1,216.8 544.6,219.6 545.1,222.3 545.6,225.0 546.1,227.5 546.6,229.7 547.1,231.6 547.6,233.1 548.1,234.2 548.6,234.8 549.1,234.8 549.6,234.2 550.1,233.0 550.6,231.3 551.1,229.2 551.6,226.8 552.1,224.1 552.6,221.2 553.1,218.2 553.6,215.2 554.1,212.2 554.6,209.2 555.1,206.5 555.6,204.0 556.1,201.8 556.6,200.0 557.1,198.6 557.6,197.8 558.1,197.6 558.6,198.1 559.1,199.2 559.6,200.8 560.1,202.8 560.6,205.1 561.1,207.6 561.6,210.2 562.1,212.7 562.6,215.2 563.1,217.4 563.6,219.4 564.1,220.9 564.6,221.9 565.1,222.2 565.6,221.9 566.1,220.9 566.6,219.5 567.1,217.6 567.6,215.5 568.1,213.3 568.6,210.9 569.1,208.6 569.6,206.5 570.1,204.6 570.6,203.0 571.1,202.0 571.6,201.5 572.1,201.7 572.6,202.4 573.1,203.7 573.6,205.3 574.1,207.4 574.6,209.7 575.1,212.2 575.6,214.9 576.1,217.6 576.6,220.4 577.1,223.1 577.6,225.7 578.1,228.1 578.6,230.3 579.1,232.1 579.6,233.5 580.1,234.5 580.6,234.9 581.1,234.7 581.6,233.9 582.1,232.5 582.6,230.7 583.1,228.5 583.6,226.0 584.1,223.3 584.6,220.3 585.1,217.3 585.6,214.3 586.1,211.3 586.6,208.4 587.1,205.7 587.6,203.3 588.1,201.2 588.6,199.5 589.1,198.3 589.6,197.7 590.1,197.7 590.6,198.4 591.1,199.6 591.6,201.3 592.1,203.4 592.6,205.8 593.1,208.3 593.6,210.9 594.1,213.5 594.6,215.9 595.1,218.1 595.6,219.9 596.1,221.2 596.6,222.0 597.1,222.2 597.6,221.6 598.1,220.5 598.6,219.0 599.1,217.0 599.6,214.9 600.1,212.6 600.6,210.2 601.1,207.9 601.6,205.9 602.1,204.1 602.6,202.7 603.1,201.8 603.6,201.5 604.1,201.9 604.6,202.8 605.1,204.1 605.6,205.9 606.1,208.0 606.6,210.4 607.1,213.0 607.6,215.7 608.1,218.5 608.6,221.2 609.1,223.9 609.6,226.5 610.1,228.8 610.6,230.9 611.1,232.6 611.6,233.9 612.1,234.7 612.6,234.9 613.1,234.5 613.6,233.5 614.1,232.1 614.6,230.1 615.1,227.8 615.6,225.2 616.1,222.4 616.6,219.4 617.1,216.4 617.6,213.4 618.1,210.4 618.6,207.5 619.1,204.9 619.6,202.6 620.1,200.6 620.6,199.1 621.1,198.1 621.6,197.6 622.1,197.8 622.6,198.7 623.1,200.1 623.6,201.9 624.1,204.1 624.6,206.6 625.1,209.1 625.6,211.7 626.1,214.2 626.6,216.6 627.1,218.6 627.6,220.3 628.1,221.5 628.6,222.1 629.1,222.1 629.6,221.4 630.1,220.1 630.6,218.4 631.1,216.4 631.6,214.2 632.1,211.9 632.6,209.5 633.1,207.3 633.6,205.3 634.1,203.6 634.6,202.3 635.1,201.6 635.6,201.5 636.1,202.1 636.6,203.1 637.1,204.6 637.6,206.5 638.1,208.7 638.6,211.2 639.1,213.8 639.6,216.5 640.1,219.3 640.6,222.1 641.1,224.7 641.6,227.2 642.1,229.5 642.6,231.4 643.1,233.0 643.6,234.2 644.1,234.8 644.6,234.8 645.1,234.3 645.6,233.1 646.1,231.5 646.6,229.5 647.1,227.1 647.6,224.4 648.1,221.5 648.6,218.5 649.1,215.5 649.6,212.5 650.1,209.5 650.6,206.7 651.1,204.2 651.6,202.0 652.1,200.1 652.6,198.7 653.1,197.9 653.6,197.6 654.1,198.0 654.6,199.1 655.1,200.6 655.6,202.6 656.1,204.8 656.6,207.3 657.1,209.9 657.6,212.5 658.1,215.0 658.6,217.2 659.1,219.2 659.6,220.7 660.1,221.8 660.6,222.2 661.1,221.9 661.6,221.0 662.1,219.6 662.6,217.8 663.1,215.8 663.6,213.5 664.1,211.1 664.6,208.8 665.1,206.7 665.6,204.7 666.1,203.2 666.6,202.1 667.1,201.5 667.6,201.6 668.1,202.3 668.6,203.5 669.1,205.2 669.6,207.1 670.1,209.4 670.6,211.9 671.1,214.6 671.6,217.4 672.1,220.1 672.6,222.9 673.1,225.5 673.6,227.9 674.1,230.1 674.6,231.9 675.1,233.4 675.6,234.4 676.1,234.9 676.6,234.7 677.1,234.0 677.6,232.7 678.1,230.9 678.6,228.8 679.1,226.3 679.6,223.6 680.1,220.6 680.6,217.6 681.1,214.6 681.6,211.6 682.1,208.7 682.6,205.9 683.1,203.5 683.6,201.4 684.1,199.6 684.6,198.4 685.1,197.7 685.6,197.7 686.1,198.3 686.6,199.5 687.1,201.2 687.6,203.2 688.1,205.6 688.6,208.1 689.1,210.7 689.6,213.2 690.1,215.7 690.6,217.9 691.1,219.7 691.6,221.1 692.1,222.0 692.6,222.2 693.1,221.7 693.6,220.7 694.1,219.1 694.6,217.2 695.1,215.1 695.6,212.8 696.1,210.4 696.6,208.2 697.1,206.1 697.6,204.2 698.1,202.8 698.6,201.8 699.1,201.5 699.6,201.8 700.1,202.6 700.6,204.0 701.1,205.7 701.6,207.8 702.1,210.2 702.6,212.7 703.1,215.4 703.6,218.2 704.1,221.0 704.6,223.7 705.1,226.2 705.6,228.6 706.1,230.7 706.6,232.4 707.1,233.8 707.6,234.6 708.1,234.9 708.6,234.6 709.1,233.7 709.6,232.2 710.1,230.3 710.6,228.1 711.1,225.5 711.6,222.7 712.1,219.7 712.6,216.7 713.1,213.7 713.6,210.7 714.1,207.8 714.6,205.2 715.1,202.8 715.6,200.8 716.1,199.2 716.6,198.1 717.1,197.6 717.6,197.8 718.1,198.6 718.6,199.9 719.1,201.7 719.6,203.9 720.1,206.3 720.6,208.9 721.1,211.5 721.6,214.0 722.1,216.4 722.6,218.5 723.1,220.2 723.6,221.4 724.1,222.1 724.6,222.1 725.1,221.5 725.6,220.3 726.1,218.6 726.6,216.6 727.1,214.4 727.6,212.1 728.1,209.7 728.6,207.5 729.1,205.5 729.6,203.7 730.1,202.4 730.6,201.7 731.1,201.5 731.6,202.0 732.1,203.0 732.6,204.5 733.1,206.3 733.6,208.5 734.1,210.9 734.6,213.5 735.1,216.3 735.6,219.0 736.1,221.8 736.6,224.5 737.1,227.0 737.6,229.3 738.1,231.2 738.6,232.9 739.1,234.1 739.6,234.8 740.1,234.9 740.6,234.4 741.1,233.3 741.6,231.7 742.1,229.7 742.6,227.3 743.1,224.7 743.6,221.8 744.1,218.8 744.6,215.8 745.1,212.8 745.6,209.8 746.1,207.0 746.6,204.4 747.1,202.2 747.6,200.3 748.1,198.8 748.6,197.9 749.1,197.6 749.6,197.9 750.1,198.9 750.6,200.4 751.1,202.4 751.6,204.6 752.1,207.1 752.6,209.6 753.1,212.2 753.6,214.7 754.1,217.0 754.6,219.0 755.1,220.6 755.6,221.7 756.1,222.2 756.6,222.0 757.1,221.2 757.6,219.8 758.1,218.0 758.6,216.0 759.1,213.7 759.6,211.4 760.1,209.1 760.6,206.9 761.1,204.9 761.6,203.3 762.1,202.1 762.6,201.6 763.1,201.6 763.6,202.2 764.1,203.4 764.6,205.0 765.1,206.9 765.6,209.2 766.1,211.7 766.6,214.3 767.1,217.1 767.6,219.9 768.1,222.6 768.6,225.2 769.1,227.7 769.6,229.9 770.1,231.8 770.6,233.3 771.1,234.3 771.6,234.9 772.1,234.8 772.6,234.1 773.1,232.9 773.6,231.1 774.1,229.0 774.6,226.6 775.1,223.8 775.6,220.9 776.1,217.9 776.6,214.9 777.1,211.9 777.6,208.9 778.1,206.2 778.6,203.7 779.1,201.6 779.6,199.8 780.1,198.5 780.6,197.8 781.1,197.6 781.6,198.2 782.1,199.3 782.6,201.0 783.1,203.0 783.6,205.3 784.1,207.8 784.6,210.4 785.1,213.0 785.6,215.4 786.1,217.7 786.6,219.5 787.1,221.0 787.6,221.9 788.1,222.2 788.6,221.8 789.1,220.8 789.6,219.3 790.1,217.4 790.6,215.3 791.1,213.0 791.6,210.7 792.1,208.4 792.6,206.3 793.1,204.4 793.6,202.9 794.1,201.9 794.6,201.5 795.1,201.7 795.6,202.5 796.1,203.8 796.6,205.5 797.1,207.6 797.6,209.9 798.1,212.5 798.6,215.2 799.1,217.9 799.6,220.7 800.1,223.4 800.6,226.0 801.1,228.4 801.6,230.5 802.1,232.3 802.6,233.6 803.1,234.5 803.6,234.9 804.1,234.6 804.6,233.8 805.1,232.4 805.6,230.5 806.1,228.3 806.6,225.8 807.1,223.0 807.6,220.0 808.1,217.0 808.6,214.0 809.1,211.0 809.6,208.1 810.1,205.4 810.6,203.0 811.1,201.0 811.6,199.4 812.1,198.2 812.6,197.7 813.1,197.7 813.6,198.5 814.1,199.8 814.6,201.5 815.1,203.7 815.6,206.1 816.1,208.6 816.6,211.2 817.1,213.7 817.6,216.1 818.1,218.3 818.6,220.0 819.1,221.3 819.6,222.1 820.1,222.1 820.6,221.6 821.1,220.4 821.6,218.8 822.1,216.8 822.6,214.6 823.1,212.3 823.6,210.0 824.1,207.7 824.6,205.7 825.1,203.9 825.6,202.5 826.1,201.7 826.6,201.5 827.1,201.9 827.6,202.9 828.1,204.3 828.6,206.1 829.1,208.3 829.6,210.7 830.1,213.3 830.6,216.0 831.1,218.8 831.6,221.5 832.1,224.2 832.6,226.7 833.1,229.0 833.6,231.1 834.1,232.7 834.6,234.0 835.1,234.7 835.6,234.9 836.1,234.4 836.6,233.4 837.1,231.9 837.6,229.9 838.1,227.6 838.6,225.0 839.1,222.1 839.6,219.1 840.1,216.1 840.6,213.1 841.1,210.1 841.6,207.3 842.1,204.7 842.6,202.4 843.1,200.4 843.6,199.0 844.1,198.0 844.6,197.6 845.1,197.9 845.6,198.8 846.1,200.3 846.6,202.1 847.1,204.4 847.6,206.8 848.1,209.4 848.6,212.0 849.1,214.5 849.6,216.8 850.1,218.8 850.6,220.5 851.1,221.6 851.6,222.2 852.1,222.0 852.6,221.3 853.1,220.0 853.6,218.2 854.1,216.2 854.6,214.0 855.1,211.6 855.6,209.3 856.1,207.1 856.6,205.1 857.1,203.4 857.6,202.2 858.1,201.6 858.6,201.6 859.1,202.2 859.6,203.3 860.1,204.8 860.6,206.7 861.1,208.9 861.6,211.4 862.1,214.1 862.6,216.8 863.1,219.6 863.6,222.3 864.1,225.0 864.6,227.5 865.1,229.7 865.6,231.6 866.1,233.1 866.6,234.2 867.1,234.8 867.6,234.8 868.1,234.2 868.6,233.0 869.1,231.3 869.6,229.2 870.1,226.8 870.6,224.1 871.1,221.2 871.6,218.2 872.1,215.2 872.6,212.2 873.1,209.2 873.6,206.5 874.1,204.0 874.6,201.8 875.1,200.0 875.6,198.6 876.1,197.8 876.6,197.6 877.1,198.1 877.6,199.2 878.1,200.8 878.6,202.8 879.1,205.1 879.6,207.6 880.1,210.2 880.6,212.7 881.1,215.2 881.6,217.4 882.1,219.4 882.6,220.9 883.1,221.9 883.6,222.2 884.1,221.9 884.6,220.9 885.1,219.5 885.6,217.6 886.1,215.5 886.6,213.3 887.1,210.9 887.6,208.6 888.1,206.5 888.6,204.6 889.1,203.0 889.6,202.0 890.1,201.5 890.6,201.7 891.1,202.4 891.6,203.7 892.1,205.3 892.6,207.4 893.1,209.7 893.6,212.2 894.1,214.9 894.6,217.6 895.1,220.4 895.6,223.1 896.1,225.7 896.6,228.1 897.1,230.3 897.6,232.1 898.1,233.5 898.6,234.5 899.1,234.9 899.6,234.7 900.1,233.9 900.6,232.5 901.1,230.7 901.6,228.5 902.1,226.0 902.6,223.3 903.1,220.3 903.6,217.3 904.1,214.3 904.6,211.3 905.1,208.4 905.6,205.7 906.1,203.3 906.6,201.2 907.1,199.5 907.6,198.3 908.1,197.7 908.6,197.7 909.1,198.4 909.6,199.6 910.1,201.3 910.6,203.4 911.1,205.8 911.6,208.3 912.1,210.9 912.6,213.5 913.1,215.9 913.6,218.1 914.1,219.9 914.6,221.2 915.1,222.0 915.6,222.2 916.1,221.6 916.6,220.5 917.1,219.0 917.6,217.0 918.1,214.9 918.6,212.6 919.1,210.2 919.6,207.9 920.1,205.9 920.6,204.1 921.1,202.7 921.6,201.8 922.1,201.5 922.6,201.9 923.1,202.8 923.6,204.1 924.1,205.9 924.6,208.0 925.1,210.4 925.6,213.0 926.1,215.7 926.6,218.5 927.1,221.2 927.6,223.9 928.1,226.5 928.6,228.8 929.1,230.9 929.6,232.6 930.1,233.9 930.6,234.7 931.1,234.9 931.6,234.5 932.1,233.5 932.6,232.1 933.1,230.1 933.6,227.8 934.1,225.2 934.6,222.4 935.1,219.4 935.6,216.4 936.1,213.4 936.6,210.4 937.1,207.5 937.6,204.9 938.1,202.6 938.6,200.6 939.1,199.1 939.6,198.1 940.1,197.6 940.6,197.8 941.1,198.7 941.6,200.1 942.1,201.9 942.6,204.1 943.1,206.6 943.6,209.1 944.1,211.7 944.6,214.2 945.1,216.6 945.6,218.6 946.1,220.3 946.6,221.5 947.1,222.1 947.6,222.1 948.1,221.4 948.6,220.1 949.1,218.4 949.6,216.4 950.1,214.2 950.6,211.9 951.1,209.5 951.6,207.3 952.1,205.3 952.6,203.6 953.1,202.3 953.6,201.6 954.1,201.5 954.6,202.1 955.1,203.1 955.6,204.6 956.1,206.5 956.6,208.7 957.1,211.2 957.6,213.8 958.1,216.5 958.6,219.3 959.1,222.1 959.6,224.7 960.1,227.2 960.6,229.5 961.1,231.4 961.6,233.0 962.1,234.2 962.6,234.8 963.1,234.8 963.6,234.3 964.1,233.1 964.6,231.5 965.1,229.5 965.6,227.1 966.1,224.4 966.6,221.5 967.1,218.5 967.6,215.5 968.1,212.5 968.6,209.5 969.1,206.7 969.6,204.2 970.1,202.0 970.6,200.1 971.1,198.7 971.6,197.9 972.1,197.6 972.6,198.0 973.1,199.1 973.6,200.6 974.1,202.6 974.6,204.8 975.1,207.3 975.6,209.9 976.1,212.5 976.6,215.0 977.1,217.2 977.6,219.2 978.1,220.7 978.6,221.8 978.8,222.0" fill="none" stroke="#D5334D" stroke-width="2.25" stroke-linejoin="round"/>
<polyline points="215.1,546.7 215.6,547.9 216.1,549.2 216.6,550.7 217.1,552.2 217.6,553.7 218.1,555.3 218.6,557.0 219.1,558.7 219.6,560.1 220.1,561.0 220.6,561.8 221.1,562.5 221.6,563.1 222.1,563.7 222.6,564.3 223.1,564.7 223.6,565.0 224.1,565.2 224.6,565.3 225.1,565.3 225.6,565.1 226.1,564.9 226.6,564.6 227.1,564.3 227.6,563.9 228.1,563.4 228.6,563.0 229.1,562.4 229.6,561.9 230.1,561.1 230.6,560.0 231.1,558.7 231.6,557.3 232.1,555.8 232.6,554.3 233.1,552.6 233.6,550.8 234.1,548.9 234.6,547.2 235.1,545.7 235.6,544.2 236.1,542.8 236.6,541.5 237.1,540.6 237.6,539.8 238.1,539.0 238.6,538.5 239.1,538.1 239.6,538.1 240.1,538.3 240.6,538.6 241.1,539.1 241.6,539.5 242.1,539.9 242.6,540.3 243.1,540.7 243.6,541.2 244.1,541.7 244.6,542.3 245.1,543.0 245.6,543.8 246.1,544.8 246.6,545.9 247.1,547.1 247.6,548.3 248.1,549.7 248.6,551.2 249.1,552.7 249.6,554.2 250.1,555.8 250.6,557.6 251.1,559.2 251.6,560.4 252.1,561.3 252.6,562.0 253.1,562.7 253.6,563.4 254.1,563.9 254.6,564.4 255.1,564.8 255.6,565.1 256.1,565.3 256.6,565.3 257.1,565.2 257.6,565.1 258.1,564.8 258.6,564.5 259.1,564.2 259.6,563.7 260.1,563.3 260.6,562.8 261.1,562.3 261.6,561.6 262.1,560.7 262.6,559.6 263.1,558.2 263.6,556.8 264.1,555.3 264.6,553.8 265.1,552.0 265.6,550.2 266.1,548.3 266.6,546.7 267.1,545.2 267.6,543.7 268.1,542.3 268.6,541.2 269.1,540.3 269.6,539.5 270.1,538.8 270.6,538.3 271.1,538.1 271.6,538.2 272.1,538.4 272.6,538.8 273.1,539.2 273.6,539.6 274.1,540.1 274.6,540.5 275.1,540.9 275.6,541.4 276.1,541.9 276.6,542.5 277.1,543.3 277.6,544.1 278.1,545.2 278.6,546.3 279.1,547.5 279.6,548.8 280.1,550.2 280.6,551.7 281.1,553.2 281.6,554.7 282.1,556.4 282.6,558.1 283.1,559.7 283.6,560.8 284.1,561.5 284.6,562.3 285.1,562.9 285.6,563.6 286.1,564.1 286.6,564.6 287.1,564.9 287.6,565.2 288.1,565.3 288.6,565.3 289.1,565.2 289.6,565.0 290.1,564.7 290.6,564.4 291.1,564.0 291.6,563.6 292.1,563.1 292.6,562.6 293.1,562.1 293.6,561.4 294.1,560.4 294.6,559.1 295.1,557.7 295.6,556.3 296.1,554.8 296.6,553.2 297.1,551.4 297.6,549.5 298.1,547.7 298.6,546.2 299.1,544.7 299.6,543.2 300.1,541.9 300.6,540.8 301.1,540.0 301.6,539.3 302.1,538.6 302.6,538.2 303.1,538.1 303.6,538.2 304.1,538.5 304.6,538.9 305.1,539.3 305.6,539.8 306.1,540.2 306.6,540.6 307.1,541.1 307.6,541.6 308.1,542.1 308.6,542.8 309.1,543.5 309.6,544.5 310.1,545.5 310.6,546.7 311.1,547.9 311.6,549.2 312.1,550.7 312.6,552.2 313.1,553.7 313.6,555.3 314.1,557.0 314.6,558.7 315.1,560.1 315.6,561.0 316.1,561.8 316.6,562.5 317.1,563.2 317.6,563.8 318.1,564.3 318.6,564.7 319.1,565.0 319.6,565.2 320.1,565.3 320.6,565.3 321.1,565.1 321.6,564.9 322.1,564.6 322.6,564.3 323.1,563.9 323.6,563.4 324.1,562.9 324.6,562.4 325.1,561.9 325.6,561.1 326.1,560.0 326.6,558.7 327.1,557.2 327.6,555.8 328.1,554.3 328.6,552.6 329.1,550.8 329.6,548.9 330.1,547.2 330.6,545.7 331.1,544.2 331.6,542.8 332.1,541.5 332.6,540.5 333.1,539.8 333.6,539.0 334.1,538.4 334.6,538.1 335.1,538.1 335.6,538.3 336.1,538.7 336.6,539.1 337.1,539.5 337.6,539.9 338.1,540.3 338.6,540.8 339.1,541.2 339.6,541.7 340.1,542.3 340.6,543.0 341.1,543.8 341.6,544.8 342.1,545.9 342.6,547.1 343.1,548.3 343.6,549.7 344.1,551.2 344.6,552.7 345.1,554.2 345.6,555.9 346.1,557.6 346.6,559.2 347.1,560.5 347.6,561.3 348.1,562.0 348.6,562.7 349.1,563.4 349.6,563.9 350.1,564.4 350.6,564.8 351.1,565.1 351.6,565.3 352.1,565.3 352.6,565.2 353.1,565.1 353.6,564.8 354.1,564.5 354.6,564.2 355.1,563.7 355.6,563.3 356.1,562.8 356.6,562.2 357.1,561.6 357.6,560.7 358.1,559.6 358.6,558.2 359.1,556.7 359.6,555.2 360.1,553.7 360.6,552.0 361.1,550.1 361.6,548.3 362.1,546.7 362.6,545.2 363.1,543.7 363.6,542.3 364.1,541.2 364.6,540.3 365.1,539.5 365.6,538.8 366.1,538.3 366.6,538.1 367.1,538.2 367.6,538.4 368.1,538.8 368.6,539.2 369.1,539.6 369.6,540.1 370.1,540.5 370.6,540.9 371.1,541.4 371.6,541.9 372.1,542.5 372.6,543.3 373.1,544.2 373.6,545.2 374.1,546.3 374.6,547.5 375.1,548.8 375.6,550.2 376.1,551.7 376.6,553.2 377.1,554.8 377.6,556.5 378.1,558.2 378.6,559.7 379.1,560.8 379.6,561.5 380.1,562.3 380.6,563.0 381.1,563.6 381.6,564.1 382.1,564.6 382.6,564.9 383.1,565.2 383.6,565.3 384.1,565.3 384.6,565.2 385.1,565.0 385.6,564.7 386.1,564.4 386.6,564.0 387.1,563.6 387.6,563.1 388.1,562.6 388.6,562.1 389.1,561.4 389.6,560.3 390.1,559.1 390.6,557.7 391.1,556.2 391.6,554.7 392.1,553.2 392.6,551.4 393.1,549.5 393.6,547.7 394.1,546.2 394.6,544.7 395.1,543.2 395.6,541.9 396.1,540.8 396.6,540.0 397.1,539.3 397.6,538.6 398.1,538.2 398.6,538.1 399.1,538.3 399.6,538.5 400.1,538.9 400.6,539.4 401.1,539.8 401.6,540.2 402.1,540.6 402.6,541.1 403.1,541.6 403.6,542.1 404.1,542.8 404.6,543.6 405.1,544.5 405.6,545.6 406.1,546.7 406.6,547.9 407.1,549.3 407.6,550.7 408.1,552.3 408.6,553.8 409.1,555.3 409.6,557.1 410.1,558.7 410.6,560.1 411.1,561.0 411.6,561.8 412.1,562.5 412.6,563.2 413.1,563.8 413.6,564.3 414.1,564.7 414.6,565.0 415.1,565.2 415.6,565.3 416.1,565.3 416.6,565.1 417.1,564.9 417.6,564.6 418.1,564.3 418.6,563.9 419.1,563.4 419.6,562.9 420.1,562.4 420.6,561.9 421.1,561.0 421.6,560.0 422.1,558.6 422.6,557.2 423.1,555.7 423.6,554.2 424.1,552.6 424.6,550.7 425.1,548.9 425.6,547.2 426.1,545.6 426.6,544.1 427.1,542.7 427.6,541.5 428.1,540.5 428.6,539.8 429.1,539.0 429.6,538.4 430.1,538.1 430.6,538.1 431.1,538.3 431.6,538.7 432.1,539.1 432.6,539.5 433.1,539.9 433.6,540.3 434.1,540.8 434.6,541.2 435.1,541.8 435.6,542.3 436.1,543.0 436.6,543.9 437.1,544.9 437.6,546.0 438.1,547.1 438.6,548.4 439.1,549.8 439.6,551.2 440.1,552.8 440.6,554.3 441.1,555.9 441.6,557.6 442.1,559.2 442.6,560.5 443.1,561.3 443.6,562.0 444.1,562.7 444.6,563.4 445.1,564.0 445.6,564.4 446.1,564.8 446.6,565.1 447.1,565.3 447.6,565.3 448.1,565.2 448.6,565.1 449.1,564.8 449.6,564.5 450.1,564.1 450.6,563.7 451.1,563.3 451.6,562.8 452.1,562.2 452.6,561.6 453.1,560.7 453.6,559.5 454.1,558.2 454.6,556.7 455.1,555.2 455.6,553.7 456.1,552.0 456.6,550.1 457.1,548.3 457.6,546.6 458.1,545.1 458.6,543.7 459.1,542.3 459.6,541.1 460.1,540.3 460.6,539.5 461.1,538.8 461.6,538.3 462.1,538.1 462.6,538.2 463.1,538.4 463.6,538.8 464.1,539.2 464.6,539.7 465.1,540.1 465.6,540.5 466.1,540.9 466.6,541.4 467.1,541.9 467.6,542.6 468.1,543.3 468.6,544.2 469.1,545.2 469.6,546.3 470.1,547.5 470.6,548.8 471.1,550.3 471.6,551.8 472.1,553.3 472.6,554.8 473.1,556.5 473.6,558.2 474.1,559.7 474.6,560.8 475.1,561.6 475.6,562.3 476.1,563.0 476.6,563.6 477.1,564.1 477.6,564.6 478.1,564.9 478.6,565.2 479.1,565.3 479.6,565.3 480.1,565.2 480.6,565.0 481.1,564.7 481.6,564.4 482.1,564.0 482.6,563.6 483.1,563.1 483.6,562.6 484.1,562.0 484.6,561.3 485.1,560.3 485.6,559.1 486.1,557.7 486.6,556.2 487.1,554.7 487.6,553.1 488.1,551.3 488.6,549.5 489.1,547.7 489.6,546.1 490.1,544.6 490.6,543.2 491.1,541.9 491.6,540.8 492.1,540.0 492.6,539.2 493.1,538.6 493.6,538.2 494.1,538.1 494.6,538.3 495.1,538.5 495.6,538.9 496.1,539.4 496.6,539.8 497.1,540.2 497.6,540.6 498.1,541.1 498.6,541.6 499.1,542.1 499.6,542.8 500.1,543.6 500.6,544.5 501.1,545.6 501.6,546.7 502.1,547.9 502.6,549.3 503.1,550.8 503.6,552.3 504.1,553.8 504.6,555.4 505.1,557.1 505.6,558.8 506.1,560.1 506.6,561.0 507.1,561.8 507.6,562.5 508.1,563.2 508.6,563.8 509.1,564.3 509.6,564.7 510.1,565.0 510.6,565.2 511.1,565.3 511.6,565.2 512.1,565.1 512.6,564.9 513.1,564.6 513.6,564.3 514.1,563.9 514.6,563.4 515.1,562.9 515.6,562.4 516.1,561.8 516.6,561.0 517.1,559.9 517.6,558.6 518.1,557.2 518.6,555.7 519.1,554.2 519.6,552.5 520.1,550.7 520.6,548.8 521.1,547.1 521.6,545.6 522.1,544.1 522.6,542.7 523.1,541.5 523.6,540.5 524.1,539.7 524.6,539.0 525.1,538.4 525.6,538.1 526.1,538.1 526.6,538.3 527.1,538.7 527.6,539.1 528.1,539.5 528.6,539.9 529.1,540.3 529.6,540.8 530.1,541.2 530.6,541.8 531.1,542.3 531.6,543.0 532.1,543.9 532.6,544.9 533.1,546.0 533.6,547.1 534.1,548.4 534.6,549.8 535.1,551.3 535.6,552.8 536.1,554.3 536.6,555.9 537.1,557.7 537.6,559.3 538.1,560.5 538.6,561.3 539.1,562.1 539.6,562.8 540.1,563.4 540.6,564.0 541.1,564.5 541.6,564.8 542.1,565.1 542.6,565.3 543.1,565.3 543.6,565.2 544.1,565.0 544.6,564.8 545.1,564.5 545.6,564.1 546.1,563.7 546.6,563.3 547.1,562.8 547.6,562.2 548.1,561.6 548.6,560.7 549.1,559.5 549.6,558.1 550.1,556.7 550.6,555.2 551.1,553.7 551.6,551.9 552.1,550.1 552.6,548.2 553.1,546.6 553.6,545.1 554.1,543.6 554.6,542.3 555.1,541.1 555.6,540.2 556.1,539.5 556.6,538.8 557.1,538.3 557.6,538.1 558.1,538.2 558.6,538.4 559.1,538.8 559.6,539.2 560.1,539.7 560.6,540.1 561.1,540.5 561.6,540.9 562.1,541.4 562.6,542.0 563.1,542.6 563.6,543.3 564.1,544.2 564.6,545.2 565.1,546.4 565.6,547.5 566.1,548.8 566.6,550.3 567.1,551.8 567.6,553.3 568.1,554.8 568.6,556.5 569.1,558.2 569.6,559.7 570.1,560.8 570.6,561.6 571.1,562.3 571.6,563.0 572.1,563.6 572.6,564.1 573.1,564.6 573.6,565.0 574.1,565.2 574.6,565.3 575.1,565.3 575.6,565.2 576.1,565.0 576.6,564.7 577.1,564.4 577.6,564.0 578.1,563.6 578.6,563.1 579.1,562.6 579.6,562.0 580.1,561.3 580.6,560.3 581.1,559.1 581.6,557.7 582.1,556.2 582.6,554.7 583.1,553.1 583.6,551.3 584.1,549.4 584.6,547.6 585.1,546.1 585.6,544.6 586.1,543.1 586.6,541.9 587.1,540.8 587.6,540.0 588.1,539.2 588.6,538.6 589.1,538.2 589.6,538.1 590.1,538.3 590.6,538.6 591.1,538.9 591.6,539.4 592.1,539.8 592.6,540.2 593.1,540.6 593.6,541.1 594.1,541.6 594.6,542.2 595.1,542.8 595.6,543.6 596.1,544.5 596.6,545.6 597.1,546.8 597.6,548.0 598.1,549.3 598.6,550.8 599.1,552.3 599.6,553.8 600.1,555.4 600.6,557.1 601.1,558.8 601.6,560.2 602.1,561.1 602.6,561.8 603.1,562.5 603.6,563.2 604.1,563.8 604.6,564.3 605.1,564.7 605.6,565.0 606.1,565.2 606.6,565.3 607.1,565.2 607.6,565.1 608.1,564.9 608.6,564.6 609.1,564.3 609.6,563.9 610.1,563.4 610.6,562.9 611.1,562.4 611.6,561.8 612.1,561.0 612.6,559.9 613.1,558.6 613.6,557.2 614.1,555.7 614.6,554.2 615.1,552.5 615.6,550.7 616.1,548.8 616.6,547.1 617.1,545.6 617.6,544.1 618.1,542.7 618.6,541.5 619.1,540.5 619.6,539.7 620.1,539.0 620.6,538.4 621.1,538.1 621.6,538.1 622.1,538.3 622.6,538.7 623.1,539.1 623.6,539.5 624.1,540.0 624.6,540.4 625.1,540.8 625.6,541.3 626.1,541.8 626.6,542.4 627.1,543.0 627.6,543.9 628.1,544.9 628.6,546.0 629.1,547.2 629.6,548.4 630.1,549.8 630.6,551.3 631.1,552.8 631.6,554.3 632.1,556.0 632.6,557.7 633.1,559.3 633.6,560.5 634.1,561.3 634.6,562.1 635.1,562.8 635.6,563.4 636.1,564.0 636.6,564.5 637.1,564.9 637.6,565.1 638.1,565.3 638.6,565.3 639.1,565.2 639.6,565.0 640.1,564.8 640.6,564.5 641.1,564.1 641.6,563.7 642.1,563.2 642.6,562.7 643.1,562.2 643.6,561.6 644.1,560.7 644.6,559.5 645.1,558.1 645.6,556.6 646.1,555.2 646.6,553.6 647.1,551.9 647.6,550.0 648.1,548.2 648.6,546.6 649.1,545.1 649.6,543.6 650.1,542.2 650.6,541.1 651.1,540.2 651.6,539.5 652.1,538.8 652.6,538.3 653.1,538.1 653.6,538.2 654.1,538.4 654.6,538.8 655.1,539.2 655.6,539.7 656.1,540.1 656.6,540.5 657.1,540.9 657.6,541.4 658.1,542.0 658.6,542.6 659.1,543.3 659.6,544.2 660.1,545.3 660.6,546.4 661.1,547.6 661.6,548.9 662.1,550.3 662.6,551.8 663.1,553.3 663.6,554.9 664.1,556.6 664.6,558.3 665.1,559.8 665.6,560.8 666.1,561.6 666.6,562.3 667.1,563.0 667.6,563.6 668.1,564.2 668.6,564.6 669.1,565.0 669.6,565.2 670.1,565.3 670.6,565.3 671.1,565.2 671.6,565.0 672.1,564.7 672.6,564.4 673.1,564.0 673.6,563.6 674.1,563.1 674.6,562.6 675.1,562.0 675.6,561.3 676.1,560.3 676.6,559.0 677.1,557.6 677.6,556.1 678.1,554.7 678.6,553.1 679.1,551.3 679.6,549.4 680.1,547.6 680.6,546.1 681.1,544.6 681.6,543.1 682.1,541.8 682.6,540.8 683.1,540.0 683.6,539.2 684.1,538.6 684.6,538.2 685.1,538.1 685.6,538.3 686.1,538.6 686.6,538.9 687.1,539.4 687.6,539.8 688.1,540.2 688.6,540.6 689.1,541.1 689.6,541.6 690.1,542.2 690.6,542.8 691.1,543.6 691.6,544.6 692.1,545.6 692.6,546.8 693.1,548.0 693.6,549.4 694.1,550.8 694.6,552.3 695.1,553.8 695.6,555.4 696.1,557.2 696.6,558.8 697.1,560.2 697.6,561.1 698.1,561.8 698.6,562.5 699.1,563.2 699.6,563.8 700.1,564.3 700.6,564.7 701.1,565.1 701.6,565.2 702.1,565.3 702.6,565.2 703.1,565.1 703.6,564.9 704.1,564.6 704.6,564.3 705.1,563.9 705.6,563.4 706.1,562.9 706.6,562.4 707.1,561.8 707.6,561.0 708.1,559.9 708.6,558.6 709.1,557.1 709.6,555.6 710.1,554.1 710.6,552.5 711.1,550.6 711.6,548.8 712.1,547.1 712.6,545.6 713.1,544.1 713.6,542.7 714.1,541.4 714.6,540.5 715.1,539.7 715.6,539.0 716.1,538.4 716.6,538.1 717.1,538.1 717.6,538.4 718.1,538.7 718.6,539.1 719.1,539.5 719.6,540.0 720.1,540.4 720.6,540.8 721.1,541.3 721.6,541.8 722.1,542.4 722.6,543.1 723.1,543.9 723.6,544.9 724.1,546.0 724.6,547.2 725.1,548.4 725.6,549.8 726.1,551.3 726.6,552.9 727.1,554.4 727.6,556.0 728.1,557.7 728.6,559.3 729.1,560.5 729.6,561.3 730.1,562.1 730.6,562.8 731.1,563.4 731.6,564.0 732.1,564.5 732.6,564.9 733.1,565.1 733.6,565.3 734.1,565.3 734.6,565.2 735.1,565.0 735.6,564.8 736.1,564.5 736.6,564.1 737.1,563.7 737.6,563.2 738.1,562.7 738.6,562.2 739.1,561.6 739.6,560.6 740.1,559.4 740.6,558.1 741.1,556.6 741.6,555.1 742.1,553.6 742.6,551.8 743.1,550.0 743.6,548.2 744.1,546.5 744.6,545.0 745.1,543.6 745.6,542.2 746.1,541.1 746.6,540.2 747.1,539.4 747.6,538.8 748.1,538.3 748.6,538.1 749.1,538.2 749.6,538.5 750.1,538.8 750.6,539.2 751.1,539.7 751.6,540.1 752.1,540.5 752.6,540.9 753.1,541.4 753.6,542.0 754.1,542.6 754.6,543.3 755.1,544.2 755.6,545.3 756.1,546.4 756.6,547.6 757.1,548.9 757.6,550.3 758.1,551.9 758.6,553.4 759.1,554.9 759.6,556.6 760.1,558.3 760.6,559.8 761.1,560.8 761.6,561.6 762.1,562.3 762.6,563.0 763.1,563.6 763.6,564.2 764.1,564.6 764.6,565.0 765.1,565.2 765.6,565.3 766.1,565.3 766.6,565.2 767.1,565.0 767.6,564.7 768.1,564.4 768.6,564.0 769.1,563.5 769.6,563.1 770.1,562.6 770.6,562.0 771.1,561.3 771.6,560.3 772.1,559.0 772.6,557.6 773.1,556.1 773.6,554.6 774.1,553.0 774.6,551.2 775.1,549.3 775.6,547.6 776.1,546.0 776.6,544.5 777.1,543.1 777.6,541.8 778.1,540.8 778.6,540.0 779.1,539.2 779.6,538.6 780.1,538.2 780.6,538.1 781.1,538.3 781.6,538.6 782.1,539.0 782.6,539.4 783.1,539.8 783.6,540.2 784.1,540.7 784.6,541.1 785.1,541.6 785.6,542.2 786.1,542.8 786.6,543.6 787.1,544.6 787.6,545.7 788.1,546.8 788.6,548.0 789.1,549.4 789.6,550.9 790.1,552.4 790.6,553.9 791.1,555.5 791.6,557.2 792.1,558.8 792.6,560.2 793.1,561.1 793.6,561.8 794.1,562.6 794.6,563.2 795.1,563.8 795.6,564.3 796.1,564.7 796.6,565.1 797.1,565.2 797.6,565.3 798.1,565.2 798.6,565.1 799.1,564.9 799.6,564.6 800.1,564.2 800.6,563.8 801.1,563.4 801.6,562.9 802.1,562.4 802.6,561.8 803.1,561.0 803.6,559.9 804.1,558.5 804.6,557.1 805.1,555.6 805.6,554.1 806.1,552.4 806.6,550.6 807.1,548.7 807.6,547.0 808.1,545.5 808.6,544.0 809.1,542.6 809.6,541.4 810.1,540.5 810.6,539.7 811.1,539.0 811.6,538.4 812.1,538.1 812.6,538.1 813.1,538.4 813.6,538.7 814.1,539.1 814.6,539.5 815.1,540.0 815.6,540.4 816.1,540.8 816.6,541.3 817.1,541.8 817.6,542.4 818.1,543.1 818.6,543.9 819.1,544.9 819.6,546.0 820.1,547.2 820.6,548.5 821.1,549.9 821.6,551.4 822.1,552.9 822.6,554.4 823.1,556.1 823.6,557.8 824.1,559.4 824.6,560.6 825.1,561.4 825.6,562.1 826.1,562.8 826.6,563.4 827.1,564.0 827.6,564.5 828.1,564.9 828.6,565.1 829.1,565.3 829.6,565.3 830.1,565.2 830.6,565.0 831.1,564.8 831.6,564.5 832.1,564.1 832.6,563.7 833.1,563.2 833.6,562.7 834.1,562.2 834.6,561.6 835.1,560.6 835.6,559.4 836.1,558.1 836.6,556.6 837.1,555.1 837.6,553.6 838.1,551.8 838.6,549.9 839.1,548.1 839.6,546.5 840.1,545.0 840.6,543.5 841.1,542.2 841.6,541.1 842.1,540.2 842.6,539.4 843.1,538.8 843.6,538.3 844.1,538.1 844.6,538.2 845.1,538.5 845.6,538.8 846.1,539.3 846.6,539.7 847.1,540.1 847.6,540.5 848.1,541.0 848.6,541.4 849.1,542.0 849.6,542.6 850.1,543.4 850.6,544.3 851.1,545.3 851.6,546.4 852.1,547.6 852.6,548.9 853.1,550.4 853.6,551.9 854.1,553.4 854.6,554.9 855.1,556.6 855.6,558.3 856.1,559.8 856.6,560.8 857.1,561.6 857.6,562.3 858.1,563.0 858.6,563.6 859.1,564.2 859.6,564.6 860.1,565.0 860.6,565.2 861.1,565.3 861.6,565.3 862.1,565.2 862.6,565.0 863.1,564.7 863.6,564.4 864.1,564.0 864.6,563.5 865.1,563.1 865.6,562.5 866.1,562.0 866.6,561.3 867.1,560.2 867.6,559.0 868.1,557.6 868.6,556.1 869.1,554.6 869.6,553.0 870.1,551.2 870.6,549.3 871.1,547.5 871.6,546.0 872.1,544.5 872.6,543.1 873.1,541.8 873.6,540.7 874.1,539.9 874.6,539.2 875.1,538.6 875.6,538.2 876.1,538.1 876.6,538.3 877.1,538.6 877.6,539.0 878.1,539.4 878.6,539.8 879.1,540.2 879.6,540.7 880.1,541.1 880.6,541.6 881.1,542.2 881.6,542.8 882.1,543.6 882.6,544.6 883.1,545.7 883.6,546.8 884.1,548.0 884.6,549.4 885.1,550.9 885.6,552.4 886.1,553.9 886.6,555.5 887.1,557.2 887.6,558.9 888.1,560.2 888.6,561.1 889.1,561.9 889.6,562.6 890.1,563.2 890.6,563.8 891.1,564.3 891.6,564.8 892.1,565.1 892.6,565.2 893.1,565.3 893.6,565.2 894.1,565.1 894.6,564.9 895.1,564.6 895.6,564.2 896.1,563.8 896.6,563.4 897.1,562.9 897.6,562.4 898.1,561.8 898.6,560.9 899.1,559.8 899.6,558.5 900.1,557.1 900.6,555.6 901.1,554.1 901.6,552.4 902.1,550.5 902.6,548.7 903.1,547.0 903.6,545.5 904.1,544.0 904.6,542.6 905.1,541.4 905.6,540.4 906.1,539.7 906.6,539.0 907.1,538.4 907.6,538.1 908.1,538.2 908.6,538.4 909.1,538.7 909.6,539.1 910.1,539.6 910.6,540.0 911.1,540.4 911.6,540.8 912.1,541.3 912.6,541.8 913.1,542.4 913.6,543.1 914.1,544.0 914.6,545.0 915.1,546.1 915.6,547.2 916.1,548.5 916.6,549.9 917.1,551.4 917.6,552.9 918.1,554.4 918.6,556.1 919.1,557.8 919.6,559.4 920.1,560.6 920.6,561.4 921.1,562.1 921.6,562.8 922.1,563.4 922.6,564.0 923.1,564.5 923.6,564.9 924.1,565.1 924.6,565.3 925.1,565.3 925.6,565.2 926.1,565.0 926.6,564.8 927.1,564.5 927.6,564.1 928.1,563.7 928.6,563.2 929.1,562.7 929.6,562.2 930.1,561.5 930.6,560.6 931.1,559.4 931.6,558.0 932.1,556.6 932.6,555.1 933.1,553.5 933.6,551.8 934.1,549.9 934.6,548.1 935.1,546.5 935.6,545.0 936.1,543.5 936.6,542.2 937.1,541.0 937.6,540.2 938.1,539.4 938.6,538.7 939.1,538.3 939.6,538.1 940.1,538.2 940.6,538.5 941.1,538.8 941.6,539.3 942.1,539.7 942.6,540.1 943.1,540.5 943.6,541.0 944.1,541.5 944.6,542.0 945.1,542.6 945.6,543.4 946.1,544.3 946.6,545.3 947.1,546.5 947.6,547.6 948.1,549.0 948.6,550.4 949.1,551.9 949.6,553.4 950.1,555.0 950.6,556.7 951.1,558.4 951.6,559.8 952.1,560.9 952.6,561.6 953.1,562.4 953.6,563.0 954.1,563.6 954.6,564.2 955.1,564.6 955.6,565.0 956.1,565.2 956.6,565.3 957.1,565.3 957.6,565.2 958.1,565.0 958.6,564.7 959.1,564.4 959.6,564.0 960.1,563.5 960.6,563.0 961.1,562.5 961.6,562.0 962.1,561.3 962.6,560.2 963.1,558.9 963.6,557.5 964.1,556.1 964.6,554.6 965.1,553.0 965.6,551.1 966.1,549.3 966.6,547.5 967.1,546.0 967.6,544.5 968.1,543.0 968.6,541.8 969.1,540.7 969.6,539.9 970.1,539.2 970.6,538.5 971.1,538.2 971.6,538.1 972.1,538.3 972.6,538.6 973.1,539.0 973.6,539.4 974.1,539.8 974.6,540.2 975.1,540.7 975.6,541.1 976.1,541.6 976.6,542.2 977.1,542.9 977.6,543.7 978.1,544.6 978.6,545.7 978.8,546.2" fill="none" stroke="#2A82BD" stroke-width="2.25" stroke-linejoin="round"/>
<line x1="215.9" y1="854.6" x2="978.2" y2="854.6" stroke="#ECA913" stroke-width="2.6"/>
<polyline points="1207.1,221.6 1207.6,221.0 1208.1,219.8 1208.6,218.0 1209.1,215.8 1209.6,213.3 1210.1,210.6 1210.6,207.8 1211.1,205.2 1211.6,202.8 1212.1,200.7 1212.6,199.1 1213.1,198.2 1213.6,197.9 1214.1,198.4 1214.6,199.5 1215.1,201.2 1215.6,203.4 1216.1,206.0 1216.6,208.8 1217.1,211.9 1217.6,215.1 1218.1,218.4 1218.6,221.7 1219.1,224.9 1219.6,227.8 1220.1,230.5 1220.6,232.8 1221.1,234.7 1221.6,236.1 1222.1,236.9 1222.6,236.9 1223.1,236.3 1223.6,235.0 1224.1,233.2 1224.6,231.0 1225.1,228.4 1225.6,225.5 1226.1,222.5 1226.6,219.3 1227.1,216.2 1227.6,213.2 1228.1,210.3 1228.6,207.7 1229.1,205.5 1229.6,203.7 1230.1,202.4 1230.6,201.8 1231.1,201.8 1231.6,202.5 1232.1,203.6 1232.6,205.2 1233.1,207.1 1233.6,209.2 1234.1,211.5 1234.6,214.0 1235.1,216.4 1235.6,218.7 1236.1,220.9 1236.6,222.9 1237.1,224.5 1237.6,225.8 1238.1,226.5 1238.6,226.7 1239.1,226.2 1239.6,225.3 1240.1,223.8 1240.6,222.0 1241.1,219.9 1241.6,217.7 1242.1,215.3 1242.6,213.0 1243.1,210.8 1243.6,208.8 1244.1,207.2 1244.6,205.9 1245.1,205.1 1245.6,204.9 1246.1,205.3 1246.6,206.3 1247.1,207.7 1247.6,209.5 1248.1,211.7 1248.6,214.1 1249.1,216.7 1249.6,219.4 1250.1,222.2 1250.6,224.9 1251.1,227.6 1251.6,230.1 1252.1,232.4 1252.6,234.5 1253.1,236.1 1253.6,237.4 1254.1,238.1 1254.6,238.3 1255.1,237.8 1255.6,236.8 1256.1,235.3 1256.6,233.3 1257.1,231.0 1257.6,228.4 1258.1,225.7 1258.6,222.8 1259.1,219.8 1259.6,216.9 1260.1,214.2 1260.6,211.6 1261.1,209.3 1261.6,207.3 1262.1,205.8 1262.6,204.8 1263.1,204.3 1263.6,204.5 1264.1,205.3 1264.6,206.6 1265.1,208.3 1265.6,210.2 1266.1,212.5 1266.6,214.8 1267.1,217.2 1267.6,219.4 1268.1,221.6 1268.6,223.5 1269.1,225.0 1269.6,226.1 1270.1,226.6 1270.6,226.6 1271.1,225.9 1271.6,224.6 1272.1,222.9 1272.6,220.9 1273.1,218.7 1273.6,216.4 1274.1,214.0 1274.6,211.8 1275.1,209.7 1275.6,208.0 1276.1,206.6 1276.6,205.8 1277.1,205.6 1277.6,206.0 1278.1,206.8 1278.6,208.1 1279.1,209.8 1279.6,211.7 1280.1,213.9 1280.6,216.2 1281.1,218.6 1281.6,221.2 1282.1,223.6 1282.6,226.1 1283.1,228.3 1283.6,230.4 1284.1,232.2 1284.6,233.7 1285.1,234.9 1285.6,235.5 1286.1,235.7 1286.6,235.3 1287.1,234.4 1287.6,233.0 1288.1,231.2 1288.6,229.1 1289.1,226.7 1289.6,224.2 1290.1,221.4 1290.6,218.6 1291.1,215.7 1291.6,212.9 1292.1,210.2 1292.6,207.7 1293.1,205.3 1293.6,203.3 1294.1,201.6 1294.6,200.3 1295.1,199.5 1295.6,199.2 1296.1,199.6 1296.6,200.8 1297.1,202.5 1297.6,204.7 1298.1,207.2 1298.6,209.9 1299.1,212.7 1299.6,215.4 1300.1,217.9 1300.6,220.0 1301.1,221.6 1301.6,222.6 1302.1,222.9 1302.6,222.4 1303.1,221.4 1303.6,219.8 1304.1,217.9 1304.6,215.6 1305.1,213.2 1305.6,210.7 1306.1,208.1 1306.6,205.6 1307.1,203.3 1307.6,201.3 1308.1,199.7 1308.6,198.5 1309.1,198.0 1309.6,198.0 1310.1,198.7 1310.6,200.0 1311.1,201.7 1311.6,203.9 1312.1,206.4 1312.6,209.1 1313.1,211.9 1313.6,214.8 1314.1,217.8 1314.6,220.6 1315.1,223.3 1315.6,225.7 1316.1,227.7 1316.6,229.4 1317.1,230.6 1317.6,231.1 1318.1,231.1 1318.6,230.4 1319.1,229.1 1319.6,227.3 1320.1,225.0 1320.6,222.4 1321.1,219.5 1321.6,216.4 1322.1,213.1 1322.6,209.8 1323.1,206.4 1323.6,203.1 1324.1,199.9 1324.6,196.9 1325.1,194.2 1325.6,191.8 1326.1,189.8 1326.6,188.3 1327.1,187.3 1327.6,187.0 1328.1,187.5 1328.6,188.8 1329.1,190.8 1329.6,193.4 1330.1,196.3 1330.6,199.5 1331.1,202.7 1331.6,205.9 1332.1,208.7 1332.6,211.2 1333.1,213.1 1333.6,214.3 1334.1,214.6 1334.6,214.0 1335.1,212.7 1335.6,210.8 1336.1,208.4 1336.6,205.6 1337.1,202.6 1337.6,199.5 1338.1,196.4 1338.6,193.4 1339.1,190.7 1339.6,188.4 1340.1,186.6 1340.6,185.4 1341.1,185.0 1341.6,185.4 1342.1,186.4 1342.6,188.0 1343.1,190.2 1343.6,192.7 1344.1,195.6 1344.6,198.7 1345.1,201.9 1345.6,205.2 1346.1,208.5 1346.6,211.7 1347.1,214.7 1347.6,217.4 1348.1,219.7 1348.6,221.5 1349.1,222.8 1349.6,223.4 1350.1,223.3 1350.6,222.3 1351.1,220.6 1351.6,218.1 1352.1,215.1 1352.6,211.5 1353.1,207.6 1353.6,203.4 1354.1,199.1 1354.6,194.6 1355.1,190.2 1355.6,185.9 1356.1,181.9 1356.6,178.2 1357.1,174.9 1357.6,172.2 1358.1,170.2 1358.6,168.9 1359.1,168.4 1359.6,168.9 1360.1,170.5 1360.6,172.8 1361.1,175.7 1361.6,179.2 1362.1,182.9 1362.6,186.8 1363.1,190.6 1363.6,194.2 1364.1,197.5 1364.6,200.2 1365.1,202.3 1365.6,203.4 1366.1,203.5 1366.6,202.6 1367.1,200.9 1367.6,198.4 1368.1,195.4 1368.6,191.9 1369.1,188.3 1369.6,184.5 1370.1,180.8 1370.6,177.3 1371.1,174.2 1371.6,171.6 1372.1,169.7 1372.6,168.6 1373.1,168.5 1373.6,169.4 1374.1,171.1 1374.6,173.6 1375.1,176.7 1375.6,180.3 1376.1,184.2 1376.6,188.4 1377.1,192.8 1377.6,197.1 1378.1,201.3 1378.6,205.2 1379.1,208.8 1379.6,211.9 1380.1,214.4 1380.6,216.1 1381.1,217.0 1381.6,216.9 1382.1,215.8 1382.6,213.8 1383.1,211.0 1383.6,207.5 1384.1,203.4 1384.6,198.9 1385.1,194.1 1385.6,189.0 1386.1,183.8 1386.6,178.7 1387.1,173.6 1387.6,168.8 1388.1,164.3 1388.6,160.2 1389.1,156.7 1389.6,153.9 1390.1,151.9 1390.6,150.8 1391.1,150.7 1391.6,151.8 1392.1,154.0 1392.6,157.1 1393.1,160.8 1393.6,165.0 1394.1,169.5 1394.6,174.1 1395.1,178.5 1395.6,182.7 1396.1,186.3 1396.6,189.2 1397.1,191.2 1397.6,192.1 1398.1,191.7 1398.6,190.3 1399.1,187.9 1399.6,184.8 1400.1,181.1 1400.6,177.1 1401.1,172.8 1401.6,168.6 1402.1,164.6 1402.6,160.9 1403.1,157.8 1403.6,155.4 1404.1,154.0 1404.6,153.6 1405.1,154.4 1405.6,156.1 1406.1,158.7 1406.6,162.0 1407.1,165.8 1407.6,170.1 1408.1,174.7 1408.6,179.6 1409.1,184.4 1409.6,189.2 1410.1,193.8 1410.6,198.0 1411.1,201.8 1411.6,204.9 1412.1,207.3 1412.6,208.9 1413.1,209.4 1413.6,208.8 1414.1,207.1 1414.6,204.4 1415.1,200.9 1415.6,196.7 1416.1,191.9 1416.6,186.7 1417.1,181.1 1417.6,175.4 1418.1,169.6 1418.6,163.9 1419.1,158.4 1419.6,153.2 1420.1,148.5 1420.6,144.4 1421.1,141.1 1421.6,138.6 1422.1,137.1 1422.6,136.7 1423.1,137.7 1423.6,139.9 1424.1,143.1 1424.6,147.1 1425.1,151.7 1425.6,156.7 1426.1,161.9 1426.6,167.0 1427.1,171.9 1427.6,176.3 1428.1,180.0 1428.6,182.8 1429.1,184.5 1429.6,185.0 1430.1,184.1 1430.6,182.0 1431.1,179.0 1431.6,175.2 1432.1,171.0 1432.6,166.4 1433.1,161.7 1433.6,157.1 1434.1,152.9 1434.6,149.1 1435.1,146.1 1435.6,144.0 1436.1,143.1 1436.6,143.5 1437.1,145.1 1437.6,147.8 1438.1,151.4 1438.6,155.8 1439.1,160.7 1439.6,166.0 1440.1,171.5 1440.6,177.2 1441.1,182.7 1441.6,188.0 1442.1,192.9 1442.6,197.3 1443.1,200.9 1443.6,203.6 1444.1,205.2 1444.6,205.6 1445.1,204.7 1445.6,202.6 1446.1,199.6 1446.6,195.6 1447.1,191.0 1447.6,185.7 1448.1,180.1 1448.6,174.1 1449.1,167.9 1449.6,161.8 1450.1,155.7 1450.6,150.0 1451.1,144.6 1451.6,139.8 1452.1,135.7 1452.6,132.5 1453.1,130.2 1453.6,129.1 1454.1,129.3 1454.6,130.9 1455.1,133.9 1455.6,137.8 1456.1,142.5 1456.6,147.8 1457.1,153.5 1457.6,159.2 1458.1,164.8 1458.6,170.0 1459.1,174.6 1459.6,178.3 1460.1,181.0 1460.6,182.4 1461.1,182.3 1461.6,180.9 1462.1,178.4 1462.6,175.1 1463.1,171.1 1463.6,166.6 1464.1,161.9 1464.6,157.2 1465.1,152.7 1465.6,148.5 1466.1,144.9 1466.6,142.0 1467.1,140.2 1467.6,139.5 1468.1,140.1 1468.6,141.8 1469.1,144.5 1469.6,148.1 1470.1,152.3 1470.6,157.1 1471.1,162.4 1471.6,167.9 1472.1,173.6 1472.6,179.3 1473.1,184.8 1473.6,190.2 1474.1,195.1 1474.6,199.4 1475.1,203.1 1475.6,206.0 1476.1,207.9 1476.6,208.8 1477.1,208.3 1477.6,206.6 1478.1,203.6 1478.6,199.6 1479.1,194.8 1479.6,189.4 1480.1,183.5 1480.6,177.3 1481.1,170.9 1481.6,164.7 1482.1,158.6 1482.6,153.0 1483.1,147.9 1483.6,143.6 1484.1,140.2 1484.6,137.9 1485.1,136.9 1485.6,137.4 1486.1,139.1 1486.6,141.9 1487.1,145.7 1487.6,150.2 1488.1,155.2 1488.6,160.5 1489.1,165.9 1489.6,171.3 1490.1,176.4 1490.6,181.0 1491.1,184.9 1491.6,187.9 1492.1,189.9 1492.6,190.6 1493.1,190.0 1493.6,188.3 1494.1,185.8 1494.6,182.5 1495.1,178.8 1495.6,174.7 1496.1,170.5 1496.6,166.4 1497.1,162.5 1497.6,159.0 1498.1,156.2 1498.6,154.1 1499.1,153.1 1499.6,153.2 1500.1,154.5 1500.6,156.8 1501.1,160.0 1501.6,163.8 1502.1,168.3 1502.6,173.3 1503.1,178.5 1503.6,183.9 1504.1,189.3 1504.6,194.5 1505.1,199.5 1505.6,204.1 1506.1,208.1 1506.6,211.4 1507.1,213.9 1507.6,215.4 1508.1,215.8 1508.6,214.9 1509.1,212.9 1509.6,210.0 1510.1,206.2 1510.6,201.8 1511.1,196.9 1511.6,191.6 1512.1,186.1 1512.6,180.7 1513.1,175.3 1513.6,170.2 1514.1,165.6 1514.6,161.6 1515.1,158.3 1515.6,155.9 1516.1,154.5 1516.6,154.4 1517.1,155.4 1517.6,157.4 1518.1,160.1 1518.6,163.6 1519.1,167.5 1519.6,171.8 1520.1,176.3 1520.6,180.9 1521.1,185.3 1521.6,189.5 1522.1,193.3 1522.6,196.5 1523.1,198.9 1523.6,200.5 1524.1,201.1 1524.6,200.6 1525.1,199.2 1525.6,197.1 1526.1,194.4 1526.6,191.3 1527.1,187.9 1527.6,184.3 1528.1,180.8 1528.6,177.5 1529.1,174.6 1529.6,172.1 1530.1,170.2 1530.6,169.2 1531.1,169.1 1531.6,170.0 1532.1,171.9 1532.6,174.6 1533.1,178.0 1533.6,181.9 1534.1,186.2 1534.6,190.9 1535.1,195.6 1535.6,200.4 1536.1,205.1 1536.6,209.6 1537.1,213.7 1537.6,217.3 1538.1,220.3 1538.6,222.5 1539.1,223.9 1539.6,224.2 1540.1,223.5 1540.6,222.0 1541.1,219.7 1541.6,216.8 1542.1,213.5 1542.6,209.7 1543.1,205.6 1543.6,201.4 1544.1,197.2 1544.6,193.0 1545.1,189.1 1545.6,185.4 1546.1,182.2 1546.6,179.6 1547.1,177.6 1547.6,176.4 1548.1,176.1 1548.6,176.7 1549.1,178.0 1549.6,179.9 1550.1,182.4 1550.6,185.2 1551.1,188.3 1551.6,191.7 1552.1,195.1 1552.6,198.4 1553.1,201.7 1553.6,204.6 1554.1,207.3 1554.6,209.4 1555.1,211.0 1555.6,211.8 1556.1,211.9 1556.6,211.2 1557.1,209.7 1557.6,207.7 1558.1,205.2 1558.6,202.4 1559.1,199.4 1559.6,196.5 1560.1,193.6 1560.6,191.0 1561.1,188.7 1561.6,187.0 1562.1,186.0 1562.6,185.7 1563.1,186.3 1563.6,187.6 1564.1,189.6 1564.6,192.1 1565.1,195.0 1565.6,198.4 1566.1,202.0 1566.6,205.7 1567.1,209.6 1567.6,213.4 1568.1,217.1 1568.6,220.6 1569.1,223.8 1569.6,226.6 1570.1,228.9 1570.6,230.6 1571.1,231.6 1571.6,231.9 1572.1,231.3 1572.6,229.9 1573.1,227.8 1573.6,225.2 1574.1,222.1 1574.6,218.7 1575.1,215.1 1575.6,211.3 1576.1,207.6 1576.6,204.0 1577.1,200.7 1577.6,197.7 1578.1,195.1 1578.6,193.2 1579.1,191.9 1579.6,191.5 1580.1,191.8 1580.6,192.6 1581.1,193.9 1581.6,195.6 1582.1,197.7 1582.6,199.9 1583.1,202.4 1583.6,205.0 1584.1,207.6 1584.6,210.2 1585.1,212.7 1585.6,215.0 1586.1,217.1 1586.6,218.9 1587.1,220.2 1587.6,221.2 1588.1,221.6 1588.6,221.3 1589.1,220.4 1589.6,218.8 1590.1,216.7 1590.6,214.3 1591.1,211.7 1591.6,208.9 1592.1,206.2 1592.6,203.7 1593.1,201.5 1593.6,199.7 1594.1,198.5 1594.6,197.9 1595.1,198.1 1595.6,199.0 1596.1,200.5 1596.6,202.5 1597.1,204.9 1597.6,207.6 1598.1,210.7 1598.6,213.8 1599.1,217.1 1599.6,220.4 1600.1,223.6 1600.6,226.7 1601.1,229.5 1601.6,232.0 1602.1,234.0 1602.6,235.6 1603.1,236.6 1603.6,237.0 1604.1,236.6 1604.6,235.6 1605.1,234.0 1605.6,231.9 1606.1,229.5 1606.6,226.7 1607.1,223.7 1607.6,220.6 1608.1,217.5 1608.6,214.4 1609.1,211.4 1609.6,208.7 1610.1,206.3 1610.6,204.3 1611.1,202.8 1611.6,201.9 1612.1,201.7 1612.6,202.1 1613.1,203.1 1613.6,204.5 1614.1,206.3 1614.6,208.3 1615.1,210.6 1615.6,213.0 1616.1,215.4 1616.6,217.8 1617.1,220.1 1617.6,222.1 1618.1,223.9 1618.6,225.3 1619.1,226.3 1619.6,226.7 1620.1,226.5 1620.6,225.7 1621.1,224.4 1621.6,222.8 1622.1,220.8 1622.6,218.6 1623.1,216.3 1623.6,213.9 1624.1,211.7 1624.6,209.6 1625.1,207.8 1625.6,206.3 1626.1,205.4 1626.6,204.9 1627.1,205.1 1627.6,205.8 1628.1,207.1 1628.6,208.7 1629.1,210.8 1629.6,213.1 1630.1,215.6 1630.6,218.3 1631.1,221.0 1631.6,223.8 1632.1,226.5 1632.6,229.1 1633.1,231.5 1633.6,233.7 1634.1,235.5 1634.6,236.9 1635.1,237.9 1635.6,238.3 1636.1,238.1 1636.6,237.3 1637.1,235.9 1637.6,234.1 1638.1,232.0 1638.6,229.5 1639.1,226.8 1639.6,223.9 1640.1,221.0 1640.6,218.1 1641.1,215.3 1641.6,212.6 1642.1,210.2 1642.6,208.1 1643.1,206.4 1643.6,205.1 1644.1,204.4 1644.6,204.4 1645.1,204.9 1645.6,206.0 1646.1,207.5 1646.6,209.4 1647.1,211.6 1647.6,213.8 1648.1,216.2 1648.6,218.5 1649.1,220.8 1649.6,222.7 1650.1,224.4 1650.6,225.7 1651.1,226.5 1651.6,226.7 1652.1,226.2 1652.6,225.2 1653.1,223.7 1653.6,221.8 1654.1,219.6 1654.6,217.3 1655.1,215.0 1655.6,212.7 1656.1,210.5 1656.6,208.6 1657.1,207.1 1657.6,206.1 1658.1,205.6 1658.6,205.8 1659.1,206.4 1659.6,207.6 1660.1,209.1 1660.6,210.9 1661.1,213.0 1661.6,215.2 1662.1,217.7 1662.6,220.1 1663.1,222.7 1663.6,225.1 1664.1,227.4 1664.6,229.6 1665.1,231.5 1665.6,233.2 1666.1,234.5 1666.6,235.3 1667.1,235.7 1667.6,235.5 1668.1,234.8 1668.6,233.6 1669.1,232.0 1669.6,230.0 1670.1,227.7 1670.6,225.2 1671.1,222.5 1671.6,219.7 1672.1,216.9 1672.6,214.0 1673.1,211.3 1673.6,208.7 1674.1,206.2 1674.6,204.1 1675.1,202.2 1675.6,200.8 1676.1,199.8 1676.6,199.2 1677.1,199.4 1677.6,200.2 1678.1,201.7 1678.6,203.8 1679.1,206.2 1679.6,208.8 1680.1,211.6 1680.6,214.3 1681.1,216.9 1681.6,219.2 1682.1,221.0 1682.6,222.3 1683.1,222.9 1683.6,222.7 1684.1,221.9 1684.6,220.5 1685.1,218.7 1685.6,216.6 1686.1,214.2 1686.6,211.7 1687.1,209.1 1687.6,206.6 1688.1,204.2 1688.6,202.1 1689.1,200.3 1689.6,198.9 1690.1,198.1 1690.6,197.9 1691.1,198.4 1691.6,199.4 1692.1,201.0 1692.6,203.0 1693.1,205.3 1693.6,208.0 1694.1,210.8 1694.6,213.7 1695.1,216.6 1695.6,219.5 1696.1,222.2 1696.6,224.7 1697.1,227.0 1697.6,228.8 1698.1,230.2 1698.6,231.0 1699.1,231.2 1699.6,230.7 1700.1,229.7 1700.6,228.1 1701.1,226.0 1701.6,223.5 1702.1,220.7 1702.6,217.7 1703.1,214.5 1703.6,211.1 1704.1,207.7 1704.6,204.4 1705.1,201.1 1705.6,198.1 1706.1,195.2 1706.6,192.7 1707.1,190.5 1707.6,188.8 1708.1,187.6 1708.6,187.1 1709.1,187.2 1709.6,188.2 1710.1,190.0 1710.6,192.3 1711.1,195.1 1711.6,198.2 1712.1,201.4 1712.6,204.6 1713.1,207.6 1713.6,210.3 1714.1,212.4 1714.6,213.9 1715.1,214.6 1715.6,214.3 1716.1,213.3 1716.6,211.6 1717.1,209.4 1717.6,206.7 1718.1,203.8 1718.6,200.7 1719.1,197.6 1719.6,194.6 1720.1,191.8 1720.6,189.3 1721.1,187.3 1721.6,185.8 1722.1,185.1 1722.6,185.1 1723.1,185.9 1723.6,187.3 1724.1,189.3 1724.6,191.6 1725.1,194.4 1725.6,197.4 1726.1,200.6 1726.6,203.9 1727.1,207.2 1727.6,210.5 1728.1,213.5 1728.6,216.3 1729.1,218.8 1729.6,220.8 1730.1,222.3 1730.6,223.3 1731.1,223.5 1731.6,222.8 1732.1,221.4 1732.6,219.2 1733.1,216.3 1733.6,213.0 1734.1,209.2 1734.6,205.1 1735.1,200.8 1735.6,196.4 1736.1,192.0 1736.6,187.6 1737.1,183.5 1737.6,179.6 1738.1,176.2 1738.6,173.3 1739.1,170.9 1739.6,169.3 1740.1,168.5 1740.6,168.6 1741.1,169.7 1741.6,171.8 1742.1,174.5 1742.6,177.8 1743.1,181.4 1743.6,185.2 1744.1,189.1 1744.6,192.8 1745.1,196.3 1745.6,199.2 1746.1,201.5 1746.6,203.1 1747.1,203.6 1747.6,203.1 1748.1,201.7 1748.6,199.4 1749.1,196.6 1749.6,193.3 1750.1,189.7 1750.6,186.0 1751.1,182.3 1751.6,178.7 1752.1,175.4 1752.6,172.6 1753.1,170.3 1753.6,168.9 1754.1,168.4 1754.6,168.9 1755.1,170.3 1755.6,172.5 1756.1,175.4 1756.6,178.8 1757.1,182.6 1757.6,186.7 1758.1,191.0 1758.6,195.4 1759.1,199.6 1759.6,203.7 1760.1,207.4 1760.6,210.8 1761.1,213.5 1761.6,215.5 1762.1,216.8 1762.6,217.1 1763.1,216.4 1763.6,214.7 1764.1,212.2 1764.6,208.9 1765.1,205.1 1765.6,200.8 1766.1,196.1 1766.6,191.1 1767.1,185.9 1767.6,180.7 1768.1,175.6 1768.6,170.7 1769.1,166.0 1769.6,161.8 1770.1,158.1 1770.6,155.0 1771.1,152.6 1771.6,151.1 1772.1,150.6 1772.6,151.2 1773.1,153.0 1773.6,155.8 1774.1,159.3 1774.6,163.3 1775.1,167.7 1775.6,172.3 1776.1,176.8 1776.6,181.1 1777.1,184.9 1777.6,188.1 1778.1,190.5 1778.6,191.9 1779.1,192.0 1779.6,191.0 1780.1,188.9 1780.6,186.1 1781.1,182.6 1781.6,178.7 1782.1,174.5 1782.6,170.3 1783.1,166.2 1783.6,162.3 1784.1,159.0 1784.6,156.3 1785.1,154.4 1785.6,153.6 1786.1,154.0 1786.6,155.3 1787.1,157.6 1787.6,160.6 1788.1,164.2 1788.6,168.4 1789.1,172.9 1789.6,177.6 1790.1,182.5 1790.6,187.3 1791.1,192.0 1791.6,196.4 1792.1,200.3 1792.6,203.7 1793.1,206.4 1793.6,208.4 1794.1,209.3 1794.6,209.2 1795.1,207.9 1795.6,205.6 1796.1,202.4 1796.6,198.5 1797.1,193.9 1797.6,188.8 1798.1,183.4 1798.6,177.7 1799.1,171.9 1799.6,166.1 1800.1,160.5 1800.6,155.2 1801.1,150.3 1801.6,146.0 1802.1,142.3 1802.6,139.5 1803.1,137.6 1803.6,136.7 1804.1,137.2 1804.6,138.9 1805.1,141.7 1805.6,145.4 1806.1,149.8 1806.6,154.7 1807.1,159.8 1807.6,165.0 1808.1,170.0 1808.6,174.6 1809.1,178.6 1809.6,181.8 1810.1,184.0 1810.6,185.0 1811.1,184.6 1811.6,182.9 1812.1,180.3 1812.6,176.8 1813.1,172.7 1813.6,168.2 1814.1,163.6 1814.6,158.9 1815.1,154.5 1815.6,150.5 1816.1,147.2 1816.6,144.7 1817.1,143.3 1817.6,143.2 1818.1,144.4 1818.6,146.6 1819.1,149.9 1819.6,153.9 1820.1,158.6 1820.6,163.8 1821.1,169.3 1821.6,174.9 1822.1,180.5 1822.6,186.0 1823.1,191.0 1823.6,195.6 1824.1,199.5 1824.6,202.6 1825.1,204.7 1825.6,205.6 1826.1,205.2 1826.6,203.6 1827.1,200.9 1827.6,197.3 1828.1,192.9 1828.6,187.9 1829.1,182.4 1829.6,176.5 1830.1,170.4 1830.6,164.2 1831.1,158.1 1831.6,152.2 1832.1,146.7 1832.6,141.7 1833.1,137.3 1833.6,133.7 1834.1,131.0 1834.6,129.4 1835.1,129.0 1835.6,130.1 1836.1,132.5 1836.6,136.1 1837.1,140.6 1837.6,145.7 1838.1,151.2 1838.6,156.9 1839.1,162.6 1839.6,167.9 1840.1,172.8 1840.6,176.9 1841.1,180.1 1841.6,182.0 1842.1,182.5 1842.6,181.6 1843.1,179.5 1843.6,176.5 1844.1,172.7 1844.6,168.4 1845.1,163.8 1845.6,159.1 1846.1,154.5 1846.6,150.1 1847.1,146.2 1847.6,143.0 1848.1,140.8 1848.6,139.6 1849.1,139.7 1849.6,141.0 1850.1,143.3 1850.6,146.6 1851.1,150.5 1851.6,155.1 1852.1,160.2 1852.6,165.7 1853.1,171.3 1853.6,177.0 1854.1,182.6 1854.6,188.1 1855.1,193.2 1855.6,197.8 1856.1,201.7 1856.6,205.0 1857.1,207.3 1857.6,208.6 1858.1,208.7 1858.6,207.4 1859.1,204.9 1859.6,201.3 1860.1,196.8 1860.6,191.6 1861.1,185.9 1861.6,179.8 1862.1,173.5 1862.6,167.2 1863.1,161.0 1863.6,155.2 1864.1,149.8 1864.6,145.2 1865.1,141.4 1865.6,138.7 1866.1,137.2 1866.6,137.0 1867.1,138.3 1867.6,140.7 1868.1,144.1 1868.6,148.3 1869.1,153.1 1869.6,158.3 1870.1,163.8 1870.6,169.2 1871.1,174.4 1871.6,179.2 1872.1,183.4 1872.6,186.8 1873.1,189.2 1873.6,190.5 1874.1,190.4 1874.6,189.1 1875.1,186.9 1875.6,183.9 1876.1,180.3 1876.6,176.4 1877.1,172.2 1877.6,168.0 1878.1,164.0 1878.6,160.4 1879.1,157.2 1879.6,154.9 1880.1,153.4 1880.6,153.0 1881.1,153.9 1881.6,155.8 1882.1,158.6 1882.6,162.2 1883.1,166.5 1883.6,171.2 1884.1,176.4 1884.6,181.7 1885.1,187.1 1885.6,192.4 1886.1,197.6 1886.6,202.3 1887.1,206.6 1887.6,210.2 1888.1,213.0 1888.6,214.9 1889.1,215.8 1889.6,215.4 1890.1,213.8 1890.6,211.2 1891.1,207.8 1891.6,203.6 1892.1,198.9 1892.6,193.7 1893.1,188.3 1893.6,182.9 1894.1,177.4 1894.6,172.2 1895.1,167.4 1895.6,163.1 1896.1,159.5 1896.6,156.7 1897.1,154.9 1897.6,154.3 1898.1,154.9 1898.6,156.5 1899.1,158.9 1899.6,162.1 1900.1,165.9 1900.6,170.1 1901.1,174.5 1901.6,179.1 1902.1,183.6 1902.6,187.9 1903.1,191.8 1903.6,195.3 1904.1,198.0 1904.6,200.0 1905.1,201.0 1905.6,200.9 1906.1,199.9 1906.6,198.0 1907.1,195.5 1907.6,192.6 1908.1,189.3 1908.6,185.8 1909.1,182.2 1909.6,178.8 1910.1,175.7 1910.6,173.0 1911.1,170.9 1911.6,169.5 1912.1,169.0 1912.6,169.5 1913.1,171.1 1913.6,173.5 1914.1,176.6 1914.6,180.3 1915.1,184.5 1915.6,189.0 1916.1,193.7 1916.6,198.5 1917.1,203.3 1917.6,207.9 1918.1,212.1 1918.6,215.9 1919.1,219.2 1919.6,221.7 1920.1,223.4 1920.6,224.2 1921.1,223.9 1921.6,222.7 1922.1,220.7 1922.6,218.1 1923.1,214.9 1923.6,211.2 1924.1,207.3 1924.6,203.1 1925.1,198.9 1925.6,194.7 1926.1,190.6 1926.6,186.8 1927.1,183.5 1927.6,180.6 1928.1,178.3 1928.6,176.8 1929.1,176.1 1929.6,176.4 1930.1,177.4 1930.6,179.1 1931.1,181.3 1931.6,184.0 1932.1,187.1 1932.6,190.3 1933.1,193.7 1933.6,197.1 1934.1,200.4 1934.6,203.5 1935.1,206.3 1935.6,208.6 1936.1,210.4 1936.6,211.6 1937.1,212.0 1937.6,211.6 1938.1,210.4 1938.6,208.5 1939.1,206.2 1939.6,203.5 1940.1,200.6 1940.6,197.7 1941.1,194.7 1941.6,192.0 1942.1,189.6 1942.6,187.6 1943.1,186.3 1943.6,185.7 1944.1,186.0 1944.6,187.0 1945.1,188.7 1945.6,191.0 1946.1,193.8 1946.6,197.0 1947.1,200.5 1947.6,204.2 1948.1,208.0 1948.6,211.9 1949.1,215.6 1949.6,219.2 1950.1,222.6 1950.6,225.5 1951.1,228.0 1951.6,230.0 1952.1,231.3 1952.6,231.9 1953.1,231.6 1953.6,230.5 1954.1,228.7 1954.6,226.3 1955.1,223.4 1955.6,220.1 1956.1,216.5 1956.6,212.8 1957.1,209.1 1957.6,205.4 1958.1,202.0 1958.6,198.8 1959.1,196.1 1959.6,193.9 1960.1,192.4 1960.6,191.6 1961.1,191.6 1961.6,192.2 1962.1,193.4 1962.6,194.9 1963.1,196.8 1963.6,199.0 1964.1,201.4 1964.6,203.9 1965.1,206.6 1965.6,209.2 1966.1,211.7 1966.6,214.1 1967.1,216.3 1967.6,218.2 1968.1,219.7 1968.6,220.9 1969.1,221.5 1969.4,221.6" fill="none" stroke="#D5334D" stroke-width="2.25" stroke-linejoin="round"/>
<polyline points="1207.1,464.7 1207.6,471.3 1208.1,478.8 1208.6,486.5 1209.1,493.9 1209.6,500.7 1210.1,507.5 1210.6,514.3 1211.1,521.0 1211.6,527.2 1212.1,532.7 1212.6,537.4 1213.1,541.9 1213.6,546.1 1214.1,549.9 1214.6,553.2 1215.1,555.8 1215.6,557.7 1216.1,559.5 1216.6,561.2 1217.1,562.5 1217.6,563.5 1218.1,563.9 1218.6,563.8 1219.1,563.3 1219.6,562.5 1220.1,561.5 1220.6,560.2 1221.1,558.8 1221.6,557.4 1222.1,555.8 1222.6,554.2 1223.1,552.2 1223.6,549.7 1224.1,546.9 1224.6,544.0 1225.1,541.1 1225.6,538.3 1226.1,535.9 1226.6,533.7 1227.1,531.4 1227.6,529.3 1228.1,527.4 1228.6,525.7 1229.1,524.2 1229.6,522.5 1230.1,521.1 1230.6,519.9 1231.1,519.1 1231.6,519.0 1232.1,519.2 1232.6,519.5 1233.1,520.0 1233.6,520.7 1234.1,521.4 1234.6,522.3 1235.1,523.3 1235.6,524.3 1236.1,525.3 1236.6,526.4 1237.1,527.7 1237.6,529.4 1238.1,531.4 1238.6,533.6 1239.1,535.9 1239.6,538.2 1240.1,540.5 1240.6,543.1 1241.1,546.0 1241.6,548.8 1242.1,551.4 1242.6,553.6 1243.1,555.2 1243.6,556.5 1244.1,557.8 1244.6,559.1 1245.1,560.2 1245.6,561.3 1246.1,562.3 1246.6,563.2 1247.1,563.9 1247.6,564.4 1248.1,564.7 1248.6,564.9 1249.1,564.9 1249.6,564.7 1250.1,564.3 1250.6,563.9 1251.1,563.3 1251.6,562.7 1252.1,562.0 1252.6,561.2 1253.1,560.4 1253.6,559.5 1254.1,558.7 1254.6,557.8 1255.1,556.7 1255.6,555.3 1256.1,553.8 1256.6,552.0 1257.1,550.2 1257.6,548.4 1258.1,546.7 1258.6,545.1 1259.1,543.7 1259.6,542.5 1260.1,541.7 1260.6,540.9 1261.1,540.1 1261.6,539.4 1262.1,538.8 1262.6,538.4 1263.1,538.1 1263.6,538.0 1264.1,538.1 1264.6,538.3 1265.1,538.5 1265.6,538.9 1266.1,539.3 1266.6,539.8 1267.1,540.4 1267.6,541.0 1268.1,541.6 1268.6,542.3 1269.1,543.0 1269.6,543.8 1270.1,544.9 1270.6,546.3 1271.1,548.0 1271.6,549.8 1272.1,551.6 1272.6,553.5 1273.1,555.2 1273.6,556.8 1274.1,558.1 1274.6,559.1 1275.1,559.9 1275.6,560.7 1276.1,561.5 1276.6,562.2 1277.1,562.9 1277.6,563.5 1278.1,564.1 1278.6,564.6 1279.1,565.0 1279.6,565.2 1280.1,565.4 1280.6,565.4 1281.1,565.3 1281.6,565.1 1282.1,564.7 1282.6,564.3 1283.1,563.8 1283.6,563.3 1284.1,562.6 1284.6,562.0 1285.1,561.3 1285.6,560.6 1286.1,559.9 1286.6,559.2 1287.1,558.5 1287.6,557.8 1288.1,557.2 1288.6,556.6 1289.1,556.0 1289.6,555.2 1290.1,554.5 1290.6,553.7 1291.1,552.9 1291.6,552.2 1292.1,551.5 1292.6,550.9 1293.1,550.5 1293.6,550.2 1294.1,550.1 1294.6,550.1 1295.1,550.2 1295.6,550.2 1296.1,550.3 1296.6,550.4 1297.1,550.6 1297.6,550.7 1298.1,550.9 1298.6,551.1 1299.1,551.3 1299.6,551.5 1300.1,551.8 1300.6,552.0 1301.1,552.3 1301.6,552.9 1302.1,553.7 1302.6,554.7 1303.1,555.9 1303.6,557.1 1304.1,558.4 1304.6,559.6 1305.1,560.7 1305.6,561.6 1306.1,562.2 1306.6,562.7 1307.1,563.1 1307.6,563.5 1308.1,563.9 1308.6,564.3 1309.1,564.6 1309.6,564.9 1310.1,565.1 1310.6,565.3 1311.1,565.4 1311.6,565.4 1312.1,565.4 1312.6,565.3 1313.1,565.2 1313.6,565.0 1314.1,564.8 1314.6,564.6 1315.1,564.3 1315.6,564.1 1316.1,563.8 1316.6,563.5 1317.1,563.2 1317.6,562.9 1318.1,562.6 1318.6,562.3 1319.1,562.1 1319.6,561.8 1320.1,561.6 1320.6,561.3 1321.1,561.2 1321.6,561.0 1322.1,560.8 1322.6,560.6 1323.1,560.4 1323.6,560.2 1324.1,560.0 1324.6,559.9 1325.1,559.7 1325.6,559.5 1326.1,559.4 1326.6,559.3 1327.1,559.2 1327.6,559.1 1328.1,559.1 1328.6,559.1 1329.1,559.2 1329.6,559.2 1330.1,559.4 1330.6,559.5 1331.1,559.7 1331.6,559.9 1332.1,560.1 1332.6,560.3 1333.1,560.5 1333.6,560.7 1334.1,560.9 1334.6,561.2 1335.1,561.6 1335.6,562.0 1336.1,562.4 1336.6,562.8 1337.1,563.2 1337.6,563.7 1338.1,564.1 1338.6,564.4 1339.1,564.8 1339.6,565.0 1340.1,565.2 1340.6,565.4 1341.1,565.4 1341.6,565.4 1342.1,565.4 1342.6,565.4 1343.1,565.4 1343.6,565.4 1344.1,565.3 1344.6,565.3 1345.1,565.3 1345.6,565.3 1346.1,565.3 1346.6,565.2 1347.1,565.2 1347.6,565.2 1348.1,565.2 1348.6,565.1 1349.1,565.1 1349.6,565.1 1350.1,565.0 1350.6,565.0 1351.1,565.0 1351.6,564.9 1352.1,564.9 1352.6,564.9 1353.1,564.8 1353.6,564.8 1354.1,564.7 1354.6,564.7 1355.1,564.7 1355.6,564.6 1356.1,564.6 1356.6,564.6 1357.1,564.6 1357.6,564.5 1358.1,564.5 1358.6,564.5 1359.1,564.4 1359.6,564.4 1360.1,564.4 1360.6,564.4 1361.1,564.4 1361.6,564.3 1362.1,564.3 1362.6,564.3 1363.1,564.3 1363.6,564.3 1364.1,564.3 1364.6,564.3 1365.1,564.3 1365.6,564.4 1366.1,564.5 1366.6,564.6 1367.1,564.7 1367.6,564.8 1368.1,564.9 1368.6,565.1 1369.1,565.2 1369.6,565.4 1370.1,565.5 1370.6,565.7 1371.1,565.8 1371.6,565.9 1372.1,566.0 1372.6,566.1 1373.1,566.2 1373.6,566.3 1374.1,566.3 1374.6,566.3 1375.1,566.3 1375.6,566.3 1376.1,566.3 1376.6,566.2 1377.1,566.2 1377.6,566.2 1378.1,566.1 1378.6,566.1 1379.1,566.0 1379.6,565.9 1380.1,565.9 1380.6,565.8 1381.1,565.7 1381.6,565.7 1382.1,565.6 1382.6,565.5 1383.1,565.4 1383.6,565.4 1384.1,565.3 1384.6,565.2 1385.1,565.1 1385.6,565.1 1386.1,565.0 1386.6,564.9 1387.1,564.9 1387.6,564.8 1388.1,564.7 1388.6,564.7 1389.1,564.6 1389.6,564.6 1390.1,564.5 1390.6,564.5 1391.1,564.5 1391.6,564.4 1392.1,564.4 1392.6,564.4 1393.1,564.4 1393.6,564.4 1394.1,564.4 1394.6,564.5 1395.1,564.5 1395.6,564.6 1396.1,564.7 1396.6,564.8 1397.1,564.9 1397.6,565.0 1398.1,565.1 1398.6,565.2 1399.1,565.3 1399.6,565.4 1400.1,565.5 1400.6,565.6 1401.1,565.7 1401.6,565.9 1402.1,566.0 1402.6,566.0 1403.1,566.1 1403.6,566.2 1404.1,566.3 1404.6,566.3 1405.1,566.4 1405.6,566.4 1406.1,566.4 1406.6,566.4 1407.1,566.4 1407.6,566.4 1408.1,566.3 1408.6,566.3 1409.1,566.3 1409.6,566.2 1410.1,566.2 1410.6,566.1 1411.1,566.1 1411.6,566.0 1412.1,565.9 1412.6,565.9 1413.1,565.8 1413.6,565.7 1414.1,565.6 1414.6,565.6 1415.1,565.5 1415.6,565.4 1416.1,565.3 1416.6,565.3 1417.1,565.2 1417.6,565.1 1418.1,565.0 1418.6,565.0 1419.1,564.9 1419.6,564.8 1420.1,564.8 1420.6,564.7 1421.1,564.6 1421.6,564.6 1422.1,564.5 1422.6,564.5 1423.1,564.5 1423.6,564.4 1424.1,564.4 1424.6,564.4 1425.1,564.4 1425.6,564.4 1426.1,564.4 1426.6,564.5 1427.1,564.5 1427.6,564.6 1428.1,564.6 1428.6,564.7 1429.1,564.8 1429.6,564.9 1430.1,565.0 1430.6,565.1 1431.1,565.2 1431.6,565.3 1432.1,565.5 1432.6,565.6 1433.1,565.7 1433.6,565.8 1434.1,565.9 1434.6,566.0 1435.1,566.1 1435.6,566.2 1436.1,566.2 1436.6,566.3 1437.1,566.3 1437.6,566.4 1438.1,566.4 1438.6,566.4 1439.1,566.4 1439.6,566.4 1440.1,566.4 1440.6,566.4 1441.1,566.3 1441.6,566.3 1442.1,566.3 1442.6,566.3 1443.1,566.2 1443.6,566.2 1444.1,566.2 1444.6,566.1 1445.1,566.1 1445.6,566.1 1446.1,566.0 1446.6,566.0 1447.1,565.9 1447.6,565.9 1448.1,565.9 1448.6,565.8 1449.1,565.8 1449.6,565.7 1450.1,565.7 1450.6,565.7 1451.1,565.6 1451.6,565.6 1452.1,565.6 1452.6,565.5 1453.1,565.5 1453.6,565.5 1454.1,565.5 1454.6,565.4 1455.1,565.4 1455.6,565.4 1456.1,565.4 1456.6,565.4 1457.1,565.4 1457.6,565.4 1458.1,565.4 1458.6,565.5 1459.1,565.5 1459.6,565.5 1460.1,565.6 1460.6,565.6 1461.1,565.6 1461.6,565.7 1462.1,565.7 1462.6,565.8 1463.1,565.8 1463.6,565.9 1464.1,565.9 1464.6,566.0 1465.1,566.1 1465.6,566.1 1466.1,566.2 1466.6,566.2 1467.1,566.2 1467.6,566.3 1468.1,566.3 1468.6,566.3 1469.1,566.4 1469.6,566.4 1470.1,566.4 1470.6,566.4 1471.1,566.4 1471.6,566.4 1472.1,566.4 1472.6,566.4 1473.1,566.3 1473.6,566.3 1474.1,566.2 1474.6,566.2 1475.1,566.2 1475.6,566.1 1476.1,566.0 1476.6,566.0 1477.1,565.9 1477.6,565.9 1478.1,565.8 1478.6,565.7 1479.1,565.7 1479.6,565.6 1480.1,565.5 1480.6,565.4 1481.1,565.4 1481.6,565.3 1482.1,565.2 1482.6,565.1 1483.1,565.1 1483.6,565.0 1484.1,564.9 1484.6,564.9 1485.1,564.8 1485.6,564.7 1486.1,564.7 1486.6,564.6 1487.1,564.6 1487.6,564.5 1488.1,564.5 1488.6,564.5 1489.1,564.4 1489.6,564.4 1490.1,564.4 1490.6,564.4 1491.1,564.4 1491.6,564.4 1492.1,564.5 1492.6,564.5 1493.1,564.6 1493.6,564.7 1494.1,564.8 1494.6,564.9 1495.1,565.0 1495.6,565.2 1496.1,565.3 1496.6,565.4 1497.1,565.6 1497.6,565.7 1498.1,565.8 1498.6,566.0 1499.1,566.1 1499.6,566.2 1500.1,566.2 1500.6,566.3 1501.1,566.4 1501.6,566.4 1502.1,566.4 1502.6,566.4 1503.1,566.3 1503.6,566.3 1504.1,566.2 1504.6,566.0 1505.1,565.9 1505.6,565.7 1506.1,565.5 1506.6,565.3 1507.1,565.1 1507.6,564.9 1508.1,564.7 1508.6,564.4 1509.1,564.1 1509.6,563.9 1510.1,563.6 1510.6,563.3 1511.1,563.0 1511.6,562.8 1512.1,562.5 1512.6,562.2 1513.1,561.9 1513.6,561.7 1514.1,561.4 1514.6,561.1 1515.1,560.9 1515.6,560.7 1516.1,560.5 1516.6,560.3 1517.1,560.1 1517.6,559.9 1518.1,559.8 1518.6,559.6 1519.1,559.5 1519.6,559.5 1520.1,559.4 1520.6,559.4 1521.1,559.4 1521.6,559.5 1522.1,559.6 1522.6,559.8 1523.1,560.0 1523.6,560.2 1524.1,560.5 1524.6,560.7 1525.1,561.0 1525.6,561.3 1526.1,561.7 1526.6,562.0 1527.1,562.3 1527.6,562.6 1528.1,562.9 1528.6,563.2 1529.1,563.5 1529.6,563.7 1530.1,564.0 1530.6,564.1 1531.1,564.3 1531.6,564.4 1532.1,564.4 1532.6,564.3 1533.1,564.1 1533.6,563.6 1534.1,562.9 1534.6,562.1 1535.1,561.1 1535.6,560.0 1536.1,558.7 1536.6,557.3 1537.1,555.8 1537.6,554.2 1538.1,552.6 1538.6,550.8 1539.1,549.0 1539.6,547.2 1540.1,545.3 1540.6,543.4 1541.1,541.5 1541.6,539.6 1542.1,537.2 1542.6,534.2 1543.1,530.6 1543.6,526.7 1544.1,522.5 1544.6,518.1 1545.1,513.8 1545.6,509.6 1546.1,505.6 1546.6,502.0 1547.1,498.8 1547.6,496.3 1548.1,494.6 1548.6,493.7 1549.1,493.6 1549.6,493.8 1550.1,494.0 1550.6,494.4 1551.1,494.9 1551.6,495.5 1552.1,496.2 1552.6,496.9 1553.1,497.8 1553.6,498.7 1554.1,499.7 1554.6,500.7 1555.1,502.0 1555.6,504.1 1556.1,506.8 1556.6,509.9 1557.1,513.4 1557.6,517.0 1558.1,520.6 1558.6,524.1 1559.1,527.3 1559.6,530.5 1560.1,534.1 1560.6,538.0 1561.1,542.0 1561.6,546.0 1562.1,549.9 1562.6,553.5 1563.1,556.8 1563.6,559.6 1564.1,561.8 1564.6,563.3 1565.1,564.0 1565.6,563.9 1566.1,563.7 1566.6,563.2 1567.1,562.5 1567.6,561.6 1568.1,560.6 1568.6,559.4 1569.1,558.0 1569.6,556.5 1570.1,554.8 1570.6,552.9 1571.1,551.0 1571.6,548.8 1572.1,545.3 1572.6,540.2 1573.1,533.7 1573.6,526.5 1574.1,518.8 1574.6,511.0 1575.1,502.2 1575.6,492.1 1576.1,481.5 1576.6,470.8 1577.1,459.4 1577.6,446.7 1578.1,436.0 1578.6,430.2 1579.1,426.0 1579.6,422.9 1580.1,421.2 1580.6,421.2 1581.1,422.2 1581.6,423.9 1582.1,426.2 1582.6,428.8 1583.1,431.6 1583.6,434.3 1584.1,436.9 1584.6,439.3 1585.1,441.8 1585.6,444.4 1586.1,447.2 1586.6,450.3 1587.1,453.7 1587.6,457.6 1588.1,462.3 1588.6,468.6 1589.1,475.7 1589.6,483.4 1590.1,491.0 1590.6,498.0 1591.1,504.7 1591.6,511.6 1592.1,518.4 1592.6,524.8 1593.1,530.6 1593.6,535.5 1594.1,540.1 1594.6,544.4 1595.1,548.4 1595.6,552.0 1596.1,554.8 1596.6,557.0 1597.1,558.8 1597.6,560.5 1598.1,562.0 1598.6,563.1 1599.1,563.8 1599.6,563.9 1600.1,563.5 1600.6,562.9 1601.1,561.9 1601.6,560.8 1602.1,559.4 1602.6,558.0 1603.1,556.4 1603.6,554.9 1604.1,553.1 1604.6,550.7 1605.1,548.1 1605.6,545.2 1606.1,542.3 1606.6,539.4 1607.1,536.8 1607.6,534.6 1608.1,532.3 1608.6,530.2 1609.1,528.2 1609.6,526.4 1610.1,524.8 1610.6,523.2 1611.1,521.6 1611.6,520.3 1612.1,519.4 1612.6,519.0 1613.1,519.1 1613.6,519.4 1614.1,519.8 1614.6,520.4 1615.1,521.1 1615.6,522.0 1616.1,522.9 1616.6,523.9 1617.1,524.9 1617.6,526.0 1618.1,527.1 1618.6,528.7 1619.1,530.6 1619.6,532.7 1620.1,535.0 1620.6,537.3 1621.1,539.6 1621.6,542.1 1622.1,544.8 1622.6,547.7 1623.1,550.4 1623.6,552.8 1624.1,554.6 1624.6,556.0 1625.1,557.3 1625.6,558.6 1626.1,559.8 1626.6,560.9 1627.1,561.9 1627.6,562.8 1628.1,563.6 1628.6,564.2 1629.1,564.6 1629.6,564.9 1630.1,564.9 1630.6,564.7 1631.1,564.5 1631.6,564.1 1632.1,563.6 1632.6,563.0 1633.1,562.3 1633.6,561.5 1634.1,560.7 1634.6,559.9 1635.1,559.0 1635.6,558.2 1636.1,557.2 1636.6,555.9 1637.1,554.4 1637.6,552.7 1638.1,550.9 1638.6,549.1 1639.1,547.3 1639.6,545.7 1640.1,544.2 1640.6,543.0 1641.1,542.0 1641.6,541.2 1642.1,540.4 1642.6,539.7 1643.1,539.0 1643.6,538.5 1644.1,538.2 1644.6,538.0 1645.1,538.0 1645.6,538.2 1646.1,538.4 1646.6,538.7 1647.1,539.2 1647.6,539.6 1648.1,540.2 1648.6,540.8 1649.1,541.4 1649.6,542.1 1650.1,542.7 1650.6,543.4 1651.1,544.4 1651.6,545.7 1652.1,547.3 1652.6,549.0 1653.1,550.9 1653.6,552.7 1654.1,554.5 1654.6,556.2 1655.1,557.6 1655.6,558.7 1656.1,559.6 1656.6,560.4 1657.1,561.2 1657.6,561.9 1658.1,562.6 1658.6,563.3 1659.1,563.9 1659.6,564.4 1660.1,564.8 1660.6,565.1 1661.1,565.3 1661.6,565.4 1662.1,565.3 1662.6,565.2 1663.1,564.9 1663.6,564.5 1664.1,564.0 1664.6,563.5 1665.1,562.9 1665.6,562.2 1666.1,561.6 1666.6,560.9 1667.1,560.2 1667.6,559.5 1668.1,558.8 1668.6,558.1 1669.1,557.5 1669.6,556.9 1670.1,556.3 1670.6,555.5 1671.1,554.8 1671.6,554.0 1672.1,553.2 1672.6,552.4 1673.1,551.7 1673.6,551.1 1674.1,550.6 1674.6,550.3 1675.1,550.1 1675.6,550.1 1676.1,550.1 1676.6,550.2 1677.1,550.3 1677.6,550.4 1678.1,550.5 1678.6,550.7 1679.1,550.8 1679.6,551.0 1680.1,551.2 1680.6,551.4 1681.1,551.7 1681.6,551.9 1682.1,552.2 1682.6,552.6 1683.1,553.4 1683.6,554.3 1684.1,555.4 1684.6,556.6 1685.1,557.9 1685.6,559.1 1686.1,560.2 1686.6,561.2 1687.1,562.0 1687.6,562.5 1688.1,562.9 1688.6,563.3 1689.1,563.8 1689.6,564.1 1690.1,564.5 1690.6,564.8 1691.1,565.0 1691.6,565.2 1692.1,565.3 1692.6,565.4 1693.1,565.4 1693.6,565.3 1694.1,565.2 1694.6,565.1 1695.1,564.9 1695.6,564.7 1696.1,564.4 1696.6,564.2 1697.1,563.9 1697.6,563.6 1698.1,563.3 1698.6,563.0 1699.1,562.7 1699.6,562.4 1700.1,562.2 1700.6,561.9 1701.1,561.7 1701.6,561.4 1702.1,561.2 1702.6,561.1 1703.1,560.9 1703.6,560.7 1704.1,560.5 1704.6,560.3 1705.1,560.1 1705.6,559.9 1706.1,559.8 1706.6,559.6 1707.1,559.4 1707.6,559.3 1708.1,559.2 1708.6,559.2 1709.1,559.1 1709.6,559.1 1710.1,559.1 1710.6,559.2 1711.1,559.3 1711.6,559.5 1712.1,559.6 1712.6,559.8 1713.1,560.0 1713.6,560.2 1714.1,560.4 1714.6,560.6 1715.1,560.8 1715.6,561.1 1716.1,561.4 1716.6,561.8 1717.1,562.2 1717.6,562.6 1718.1,563.1 1718.6,563.5 1719.1,563.9 1719.6,564.3 1720.1,564.7 1720.6,564.9 1721.1,565.2 1721.6,565.3 1722.1,565.4 1722.6,565.4 1723.1,565.4 1723.6,565.4 1724.1,565.4 1724.6,565.4 1725.1,565.4 1725.6,565.3 1726.1,565.3 1726.6,565.3 1727.1,565.3 1727.6,565.3 1728.1,565.2 1728.6,565.2 1729.1,565.2 1729.6,565.1 1730.1,565.1 1730.6,565.1 1731.1,565.0 1731.6,565.0 1732.1,565.0 1732.6,564.9 1733.1,564.9 1733.6,564.9 1734.1,564.8 1734.6,564.8 1735.1,564.8 1735.6,564.7 1736.1,564.7 1736.6,564.7 1737.1,564.6 1737.6,564.6 1738.1,564.6 1738.6,564.5 1739.1,564.5 1739.6,564.5 1740.1,564.4 1740.6,564.4 1741.1,564.4 1741.6,564.4 1742.1,564.4 1742.6,564.3 1743.1,564.3 1743.6,564.3 1744.1,564.3 1744.6,564.3 1745.1,564.3 1745.6,564.3 1746.1,564.3 1746.6,564.4 1747.1,564.4 1747.6,564.5 1748.1,564.6 1748.6,564.7 1749.1,564.9 1749.6,565.0 1750.1,565.2 1750.6,565.3 1751.1,565.5 1751.6,565.6 1752.1,565.7 1752.6,565.9 1753.1,566.0 1753.6,566.1 1754.1,566.2 1754.6,566.2 1755.1,566.3 1755.6,566.3 1756.1,566.3 1756.6,566.3 1757.1,566.3 1757.6,566.2 1758.1,566.2 1758.6,566.2 1759.1,566.1 1759.6,566.1 1760.1,566.0 1760.6,566.0 1761.1,565.9 1761.6,565.8 1762.1,565.8 1762.6,565.7 1763.1,565.6 1763.6,565.5 1764.1,565.5 1764.6,565.4 1765.1,565.3 1765.6,565.2 1766.1,565.2 1766.6,565.1 1767.1,565.0 1767.6,564.9 1768.1,564.9 1768.6,564.8 1769.1,564.8 1769.6,564.7 1770.1,564.6 1770.6,564.6 1771.1,564.5 1771.6,564.5 1772.1,564.5 1772.6,564.4 1773.1,564.4 1773.6,564.4 1774.1,564.4 1774.6,564.4 1775.1,564.4 1775.6,564.5 1776.1,564.5 1776.6,564.6 1777.1,564.7 1777.6,564.7 1778.1,564.8 1778.6,564.9 1779.1,565.0 1779.6,565.1 1780.1,565.3 1780.6,565.4 1781.1,565.5 1781.6,565.6 1782.1,565.7 1782.6,565.8 1783.1,565.9 1783.6,566.0 1784.1,566.1 1784.6,566.2 1785.1,566.2 1785.6,566.3 1786.1,566.4 1786.6,566.4 1787.1,566.4 1787.6,566.4 1788.1,566.4 1788.6,566.4 1789.1,566.4 1789.6,566.3 1790.1,566.3 1790.6,566.2 1791.1,566.2 1791.6,566.1 1792.1,566.1 1792.6,566.0 1793.1,566.0 1793.6,565.9 1794.1,565.8 1794.6,565.8 1795.1,565.7 1795.6,565.6 1796.1,565.5 1796.6,565.4 1797.1,565.4 1797.6,565.3 1798.1,565.2 1798.6,565.1 1799.1,565.1 1799.6,565.0 1800.1,564.9 1800.6,564.9 1801.1,564.8 1801.6,564.7 1802.1,564.7 1802.6,564.6 1803.1,564.6 1803.6,564.5 1804.1,564.5 1804.6,564.5 1805.1,564.4 1805.6,564.4 1806.1,564.4 1806.6,564.4 1807.1,564.4 1807.6,564.4 1808.1,564.5 1808.6,564.5 1809.1,564.6 1809.6,564.7 1810.1,564.8 1810.6,564.9 1811.1,565.0 1811.6,565.1 1812.1,565.2 1812.6,565.3 1813.1,565.4 1813.6,565.5 1814.1,565.6 1814.6,565.7 1815.1,565.9 1815.6,566.0 1816.1,566.0 1816.6,566.1 1817.1,566.2 1817.6,566.3 1818.1,566.3 1818.6,566.4 1819.1,566.4 1819.6,566.4 1820.1,566.4 1820.6,566.4 1821.1,566.4 1821.6,566.4 1822.1,566.3 1822.6,566.3 1823.1,566.3 1823.6,566.3 1824.1,566.2 1824.6,566.2 1825.1,566.2 1825.6,566.1 1826.1,566.1 1826.6,566.1 1827.1,566.0 1827.6,566.0 1828.1,565.9 1828.6,565.9 1829.1,565.9 1829.6,565.8 1830.1,565.8 1830.6,565.7 1831.1,565.7 1831.6,565.7 1832.1,565.6 1832.6,565.6 1833.1,565.6 1833.6,565.5 1834.1,565.5 1834.6,565.5 1835.1,565.5 1835.6,565.4 1836.1,565.4 1836.6,565.4 1837.1,565.4 1837.6,565.4 1838.1,565.4 1838.6,565.4 1839.1,565.4 1839.6,565.4 1840.1,565.5 1840.6,565.5 1841.1,565.5 1841.6,565.6 1842.1,565.6 1842.6,565.7 1843.1,565.7 1843.6,565.8 1844.1,565.8 1844.6,565.9 1845.1,565.9 1845.6,566.0 1846.1,566.0 1846.6,566.1 1847.1,566.1 1847.6,566.2 1848.1,566.2 1848.6,566.3 1849.1,566.3 1849.6,566.3 1850.1,566.4 1850.6,566.4 1851.1,566.4 1851.6,566.4 1852.1,566.4 1852.6,566.4 1853.1,566.4 1853.6,566.4 1854.1,566.3 1854.6,566.3 1855.1,566.3 1855.6,566.2 1856.1,566.2 1856.6,566.1 1857.1,566.1 1857.6,566.0 1858.1,566.0 1858.6,565.9 1859.1,565.8 1859.6,565.7 1860.1,565.7 1860.6,565.6 1861.1,565.5 1861.6,565.5 1862.1,565.4 1862.6,565.3 1863.1,565.2 1863.6,565.2 1864.1,565.1 1864.6,565.0 1865.1,565.0 1865.6,564.9 1866.1,564.8 1866.6,564.8 1867.1,564.7 1867.6,564.7 1868.1,564.6 1868.6,564.6 1869.1,564.5 1869.6,564.5 1870.1,564.5 1870.6,564.4 1871.1,564.4 1871.6,564.4 1872.1,564.4 1872.6,564.4 1873.1,564.4 1873.6,564.5 1874.1,564.6 1874.6,564.7 1875.1,564.8 1875.6,564.9 1876.1,565.0 1876.6,565.1 1877.1,565.3 1877.6,565.4 1878.1,565.5 1878.6,565.7 1879.1,565.8 1879.6,565.9 1880.1,566.0 1880.6,566.1 1881.1,566.2 1881.6,566.3 1882.1,566.3 1882.6,566.4 1883.1,566.4 1883.6,566.4 1884.1,566.4 1884.6,566.3 1885.1,566.2 1885.6,566.1 1886.1,565.9 1886.6,565.8 1887.1,565.6 1887.6,565.4 1888.1,565.2 1888.6,565.0 1889.1,564.7 1889.6,564.5 1890.1,564.2 1890.6,564.0 1891.1,563.7 1891.6,563.4 1892.1,563.2 1892.6,562.9 1893.1,562.6 1893.6,562.3 1894.1,562.0 1894.6,561.8 1895.1,561.5 1895.6,561.2 1896.1,561.0 1896.6,560.8 1897.1,560.5 1897.6,560.3 1898.1,560.1 1898.6,560.0 1899.1,559.8 1899.6,559.7 1900.1,559.6 1900.6,559.5 1901.1,559.4 1901.6,559.4 1902.1,559.4 1902.6,559.5 1903.1,559.6 1903.6,559.7 1904.1,559.9 1904.6,560.1 1905.1,560.3 1905.6,560.6 1906.1,560.9 1906.6,561.2 1907.1,561.5 1907.6,561.9 1908.1,562.2 1908.6,562.5 1909.1,562.8 1909.6,563.1 1910.1,563.4 1910.6,563.7 1911.1,563.9 1911.6,564.1 1912.1,564.2 1912.6,564.3 1913.1,564.4 1913.6,564.4 1914.1,564.2 1914.6,563.8 1915.1,563.2 1915.6,562.5 1916.1,561.5 1916.6,560.4 1917.1,559.2 1917.6,557.9 1918.1,556.4 1918.6,554.9 1919.1,553.2 1919.6,551.5 1920.1,549.8 1920.6,547.9 1921.1,546.1 1921.6,544.2 1922.1,542.3 1922.6,540.4 1923.1,538.2 1923.6,535.4 1924.1,532.1 1924.6,528.3 1925.1,524.2 1925.6,519.9 1926.1,515.5 1926.6,511.2 1927.1,507.1 1927.6,503.3 1928.1,500.0 1928.6,497.2 1929.1,495.2 1929.6,493.9 1930.1,493.6 1930.6,493.7 1931.1,493.9 1931.6,494.2 1932.1,494.7 1932.6,495.2 1933.1,495.9 1933.6,496.6 1934.1,497.4 1934.6,498.3 1935.1,499.3 1935.6,500.3 1936.1,501.4 1936.6,503.2 1937.1,505.6 1937.6,508.6 1938.1,512.0 1938.6,515.5 1939.1,519.2 1939.6,522.7 1940.1,526.1 1940.6,529.2 1941.1,532.7 1941.6,536.4 1942.1,540.4 1942.6,544.4 1943.1,548.3 1943.6,552.1 1944.1,555.5 1944.6,558.5 1945.1,561.0 1945.6,562.8 1946.1,563.8 1946.6,564.0 1947.1,563.8 1947.6,563.4 1948.1,562.8 1948.6,562.0 1949.1,561.0 1949.6,559.9 1950.1,558.6 1950.6,557.1 1951.1,555.5 1951.6,553.7 1952.1,551.8 1952.6,549.7 1953.1,546.9 1953.6,542.4 1954.1,536.4 1954.6,529.5 1955.1,521.9 1955.6,514.1 1956.1,505.9 1956.6,496.3 1957.1,485.8 1957.6,475.0 1958.1,464.3 1958.6,451.7 1959.1,439.8 1959.6,432.0 1960.1,427.6 1960.6,424.0 1961.1,421.6 1961.6,421.0 1962.1,421.7 1962.6,423.1 1963.1,425.2 1963.6,427.7 1964.1,430.5 1964.6,433.3 1965.1,435.9 1965.6,438.3 1966.1,440.8 1966.6,443.3 1967.1,446.1 1967.6,449.0 1968.1,452.3 1968.6,456.0 1969.1,460.2 1969.4,463.5" fill="none" stroke="#2A82BD" stroke-width="2.25" stroke-linejoin="round"/>
<polyline points="1204.6,849.5 1205.1,849.0 1205.6,848.6 1206.1,848.2 1206.6,847.8 1207.1,847.4 1207.6,847.1 1208.1,846.7 1208.6,846.4 1209.1,846.0 1209.6,845.7 1210.1,845.3 1210.6,845.0 1211.1,844.7 1211.6,844.4 1212.1,844.1 1212.6,843.8 1213.1,843.5 1213.6,843.2 1214.1,842.9 1214.6,842.6 1215.1,842.3 1215.6,842.0 1216.1,841.7 1216.6,841.3 1217.1,841.0 1217.6,840.7 1218.1,840.4 1218.6,840.1 1219.1,839.7 1219.6,839.4 1220.1,839.0 1220.6,838.7 1221.1,838.3 1221.6,837.9 1222.1,837.6 1222.6,837.2 1223.1,836.8 1223.6,836.5 1224.1,836.1 1224.6,835.7 1225.1,835.3 1225.6,834.9 1226.1,834.5 1226.6,834.2 1227.1,833.8 1227.6,833.4 1228.1,833.0 1228.6,832.6 1229.1,832.2 1229.6,831.8 1230.1,831.4 1230.6,831.0 1231.1,830.7 1231.6,830.3 1232.1,829.9 1232.6,829.5 1233.1,829.1 1233.6,828.7 1234.1,828.4 1234.6,828.0 1235.1,827.6 1235.6,827.2 1236.1,826.9 1236.6,826.5 1237.1,826.1 1237.6,825.7 1238.1,825.4 1238.6,825.0 1239.1,824.6 1239.6,824.2 1240.1,823.9 1240.6,823.5 1241.1,823.1 1241.6,822.7 1242.1,822.4 1242.6,822.0 1243.1,821.6 1243.6,821.3 1244.1,820.9 1244.6,820.5 1245.1,820.2 1245.6,819.8 1246.1,819.4 1246.6,819.1 1247.1,818.7 1247.6,818.4 1248.1,818.0 1248.6,817.7 1249.1,817.3 1249.6,817.0 1250.1,816.6 1250.6,816.2 1251.1,815.9 1251.6,815.5 1252.1,815.2 1252.6,814.8 1253.1,814.5 1253.6,814.1 1254.1,813.8 1254.6,813.4 1255.1,813.1 1255.6,812.7 1256.1,812.4 1256.6,812.0 1257.1,811.7 1257.6,811.3 1258.1,811.0 1258.6,810.6 1259.1,810.3 1259.6,810.0 1260.1,809.6 1260.6,809.3 1261.1,809.0 1261.6,808.7 1262.1,808.4 1262.6,808.1 1263.1,807.8 1263.6,807.5 1264.1,807.2 1264.6,806.9 1265.1,806.6 1265.6,806.3 1266.1,806.1 1266.6,805.8 1267.1,805.5 1267.6,805.3 1268.1,805.0 1268.6,804.7 1269.1,804.5 1269.6,804.2 1270.1,804.0 1270.6,803.8 1271.1,803.5 1271.6,803.3 1272.1,803.0 1272.6,802.8 1273.1,802.6 1273.6,802.3 1274.1,802.1 1274.6,801.9 1275.1,801.7 1275.6,801.5 1276.1,801.2 1276.6,801.0 1277.1,800.8 1277.6,800.6 1278.1,800.4 1278.6,800.2 1279.1,800.0 1279.6,799.7 1280.1,799.5 1280.6,799.3 1281.1,799.1 1281.6,798.9 1282.1,798.7 1282.6,798.5 1283.1,798.3 1283.6,798.1 1284.1,797.9 1284.6,797.6 1285.1,797.4 1285.6,797.2 1286.1,797.0 1286.6,796.8 1287.1,796.6 1287.6,796.4 1288.1,796.2 1288.6,796.0 1289.1,795.8 1289.6,795.6 1290.1,795.5 1290.6,795.3 1291.1,795.1 1291.6,795.0 1292.1,794.8 1292.6,794.7 1293.1,794.5 1293.6,794.4 1294.1,794.2 1294.6,794.1 1295.1,794.0 1295.6,793.9 1296.1,793.8 1296.6,793.7 1297.1,793.6 1297.6,793.5 1298.1,793.4 1298.6,793.3 1299.1,793.2 1299.6,793.1 1300.1,793.0 1300.6,792.9 1301.1,792.8 1301.6,792.8 1302.1,792.7 1302.6,792.6 1303.1,792.6 1303.6,792.6 1304.1,792.5 1304.6,792.5 1305.1,792.5 1305.6,792.5 1306.1,792.5 1306.6,792.5 1307.1,792.5 1307.6,792.5 1308.1,792.5 1308.6,792.5 1309.1,792.5 1309.6,792.5 1310.1,792.6 1310.6,792.6 1311.1,792.6 1311.6,792.6 1312.1,792.6 1312.6,792.6 1313.1,792.6 1313.6,792.6 1314.1,792.7 1314.6,792.7 1315.1,792.7 1315.6,792.7 1316.1,792.8 1316.6,792.8 1317.1,792.9 1317.6,792.9 1318.1,793.0 1318.6,793.1 1319.1,793.2 1319.6,793.3 1320.1,793.4 1320.6,793.6 1321.1,793.7 1321.6,793.8 1322.1,794.0 1322.6,794.1 1323.1,794.3 1323.6,794.5 1324.1,794.6 1324.6,794.8 1325.1,794.9 1325.6,795.1 1326.1,795.3 1326.6,795.5 1327.1,795.7 1327.6,795.9 1328.1,796.1 1328.6,796.4 1329.1,796.6 1329.6,796.9 1330.1,797.2 1330.6,797.5 1331.1,797.8 1331.6,798.1 1332.1,798.4 1332.6,798.7 1333.1,799.1 1333.6,799.4 1334.1,799.8 1334.6,800.1 1335.1,800.5 1335.6,800.9 1336.1,801.2 1336.6,801.6 1337.1,802.0 1337.6,802.4 1338.1,802.8 1338.6,803.2 1339.1,803.6 1339.6,803.9 1340.1,804.3 1340.6,804.7 1341.1,805.2 1341.6,805.6 1342.1,806.0 1342.6,806.5 1343.1,807.0 1343.6,807.5 1344.1,808.0 1344.6,808.5 1345.1,809.0 1345.6,809.5 1346.1,810.1 1346.6,810.6 1347.1,811.2 1347.6,811.7 1348.1,812.3 1348.6,812.8 1349.1,813.4 1349.6,814.0 1350.1,814.5 1350.6,815.1 1351.1,815.6 1351.6,816.2 1352.1,816.7 1352.6,817.3 1353.1,817.8 1353.6,818.4 1354.1,818.9 1354.6,819.4 1355.1,819.9 1355.6,820.4 1356.1,820.9 1356.6,821.4 1357.1,821.9 1357.6,822.4 1358.1,822.9 1358.6,823.4 1359.1,823.9 1359.6,824.4 1360.1,824.8 1360.6,825.3 1361.1,825.8 1361.6,826.3 1362.1,826.8 1362.6,827.3 1363.1,827.8 1363.6,828.2 1364.1,828.7 1364.6,829.2 1365.1,829.6 1365.6,830.1 1366.1,830.5 1366.6,831.0 1367.1,831.4 1367.6,831.9 1368.1,832.3 1368.6,832.7 1369.1,833.1 1369.6,833.5 1370.1,833.9 1370.6,834.3 1371.1,834.7 1371.6,835.1 1372.1,835.5 1372.6,836.0 1373.1,836.4 1373.6,836.8 1374.1,837.2 1374.6,837.6 1375.1,837.9 1375.6,838.3 1376.1,838.7 1376.6,839.0 1377.1,839.4 1377.6,839.7 1378.1,840.0 1378.6,840.3 1379.1,840.5 1379.6,840.8 1380.1,841.0 1380.6,841.2 1381.1,841.3 1381.6,841.5 1382.1,841.7 1382.6,841.8 1383.1,842.0 1383.6,842.1 1384.1,842.2 1384.6,842.4 1385.1,842.5 1385.6,842.6 1386.1,842.7 1386.6,842.8 1387.1,842.9 1387.6,843.0 1388.1,843.1 1388.6,843.2 1389.1,843.3 1389.6,843.4 1390.1,843.5 1390.6,843.6 1391.1,843.7 1391.6,843.8 1392.1,843.8 1392.6,843.9 1393.1,844.0 1393.6,844.0 1394.1,844.1 1394.6,844.2 1395.1,844.2 1395.6,844.3 1396.1,844.4 1396.6,844.4 1397.1,844.5 1397.6,844.6 1398.1,844.6 1398.6,844.7 1399.1,844.8 1399.6,844.9 1400.1,845.0 1400.6,845.1 1401.1,845.3 1401.6,845.4 1402.1,845.5 1402.6,845.7 1403.1,845.9 1403.6,846.0 1404.1,846.2 1404.6,846.4 1405.1,846.6 1405.6,846.8 1406.1,847.0 1406.6,847.3 1407.1,847.5 1407.6,847.7 1408.1,848.0 1408.6,848.2 1409.1,848.5 1409.6,848.8 1410.1,849.1 1410.6,849.4 1411.1,849.7 1411.6,850.1 1412.1,850.5 1412.6,850.9 1413.1,851.3 1413.6,851.8 1414.1,852.3 1414.6,852.8 1415.1,853.3 1415.6,853.8 1416.1,854.3 1416.6,854.9 1417.1,855.4 1417.6,855.9 1418.1,856.5 1418.6,857.0 1419.1,857.6 1419.6,858.1 1420.1,858.6 1420.6,859.1 1421.1,859.6 1421.6,860.1 1422.1,860.7 1422.6,861.2 1423.1,861.7 1423.6,862.3 1424.1,862.8 1424.6,863.4 1425.1,863.9 1425.6,864.5 1426.1,865.0 1426.6,865.6 1427.1,866.1 1427.6,866.7 1428.1,867.3 1428.6,867.9 1429.1,868.4 1429.6,869.0 1430.1,869.6 1430.6,870.2 1431.1,870.8 1431.6,871.4 1432.1,872.0 1432.6,872.7 1433.1,873.3 1433.6,873.9 1434.1,874.6 1434.6,875.2 1435.1,875.9 1435.6,876.5 1436.1,877.1 1436.6,877.8 1437.1,878.4 1437.6,879.0 1438.1,879.7 1438.6,880.3 1439.1,880.9 1439.6,881.5 1440.1,882.1 1440.6,882.7 1441.1,883.3 1441.6,883.8 1442.1,884.4 1442.6,885.0 1443.1,885.6 1443.6,886.1 1444.1,886.7 1444.6,887.2 1445.1,887.8 1445.6,888.3 1446.1,888.9 1446.6,889.4 1447.1,890.0 1447.6,890.5 1448.1,891.0 1448.6,891.6 1449.1,892.1 1449.6,892.6 1450.1,893.1 1450.6,893.6 1451.1,894.1 1451.6,894.6 1452.1,895.1 1452.6,895.6 1453.1,896.1 1453.6,896.6 1454.1,897.1 1454.6,897.6 1455.1,898.0 1455.6,898.5 1456.1,899.0 1456.6,899.4 1457.1,899.9 1457.6,900.4 1458.1,900.8 1458.6,901.3 1459.1,901.7 1459.6,902.2 1460.1,902.6 1460.6,903.0 1461.1,903.5 1461.6,903.9 1462.1,904.3 1462.6,904.8 1463.1,905.2 1463.6,905.6 1464.1,906.0 1464.6,906.4 1465.1,906.8 1465.6,907.2 1466.1,907.6 1466.6,908.0 1467.1,908.4 1467.6,908.8 1468.1,909.2 1468.6,909.6 1469.1,909.9 1469.6,910.3 1470.1,910.6 1470.6,911.0 1471.1,911.3 1471.6,911.6 1472.1,912.0 1472.6,912.3 1473.1,912.6 1473.6,912.9 1474.1,913.2 1474.6,913.5 1475.1,913.8 1475.6,914.1 1476.1,914.4 1476.6,914.7 1477.1,914.9 1477.6,915.2 1478.1,915.5 1478.6,915.8 1479.1,916.1 1479.6,916.4 1480.1,916.6 1480.6,916.9 1481.1,917.2 1481.6,917.5 1482.1,917.8 1482.6,918.1 1483.1,918.5 1483.6,918.8 1484.1,919.1 1484.6,919.4 1485.1,919.7 1485.6,920.0 1486.1,920.3 1486.6,920.5 1487.1,920.8 1487.6,921.1 1488.1,921.3 1488.6,921.6 1489.1,921.8 1489.6,922.0 1490.1,922.2 1490.6,922.3 1491.1,922.5 1491.6,922.7 1492.1,922.8 1492.6,923.0 1493.1,923.1 1493.6,923.2 1494.1,923.4 1494.6,923.5 1495.1,923.6 1495.6,923.8 1496.1,923.9 1496.6,924.0 1497.1,924.1 1497.6,924.2 1498.1,924.3 1498.6,924.4 1499.1,924.5 1499.6,924.6 1500.1,924.7 1500.6,924.8 1501.1,924.9 1501.6,925.0 1502.1,925.0 1502.6,925.1 1503.1,925.2 1503.6,925.3 1504.1,925.4 1504.6,925.5 1505.1,925.6 1505.6,925.7 1506.1,925.8 1506.6,925.8 1507.1,925.9 1507.6,926.0 1508.1,926.0 1508.6,926.1 1509.1,926.1 1509.6,926.1 1510.1,926.2 1510.6,926.2 1511.1,926.2 1511.6,926.2 1512.1,926.2 1512.6,926.1 1513.1,926.1 1513.6,926.0 1514.1,925.9 1514.6,925.8 1515.1,925.7 1515.6,925.6 1516.1,925.5 1516.6,925.3 1517.1,925.2 1517.6,925.0 1518.1,924.9 1518.6,924.7 1519.1,924.6 1519.6,924.4 1520.1,924.3 1520.6,924.1 1521.1,923.9 1521.6,923.8 1522.1,923.6 1522.6,923.4 1523.1,923.2 1523.6,923.0 1524.1,922.7 1524.6,922.5 1525.1,922.3 1525.6,922.0 1526.1,921.7 1526.6,921.5 1527.1,921.2 1527.6,920.9 1528.1,920.6 1528.6,920.3 1529.1,920.0 1529.6,919.7 1530.1,919.3 1530.6,919.0 1531.1,918.6 1531.6,918.3 1532.1,917.8 1532.6,917.4 1533.1,917.0 1533.6,916.5 1534.1,916.0 1534.6,915.5 1535.1,915.0 1535.6,914.5 1536.1,914.0 1536.6,913.4 1537.1,912.9 1537.6,912.3 1538.1,911.8 1538.6,911.2 1539.1,910.6 1539.6,910.0 1540.1,909.4 1540.6,908.8 1541.1,908.2 1541.6,907.6 1542.1,907.0 1542.6,906.3 1543.1,905.6 1543.6,904.9 1544.1,904.2 1544.6,903.5 1545.1,902.8 1545.6,902.1 1546.1,901.3 1546.6,900.6 1547.1,899.8 1547.6,899.1 1548.1,898.4 1548.6,897.6 1549.1,896.9 1549.6,896.1 1550.1,895.4 1550.6,894.7 1551.1,893.9 1551.6,893.2 1552.1,892.4 1552.6,891.7 1553.1,890.9 1553.6,890.2 1554.1,889.4 1554.6,888.7 1555.1,887.9 1555.6,887.1 1556.1,886.4 1556.6,885.6 1557.1,884.8 1557.6,884.1 1558.1,883.3 1558.6,882.6 1559.1,881.9 1559.6,881.1 1560.1,880.4 1560.6,879.7 1561.1,878.9 1561.6,878.2 1562.1,877.5 1562.6,876.8 1563.1,876.0 1563.6,875.3 1564.1,874.6 1564.6,873.9 1565.1,873.1 1565.6,872.4 1566.1,871.7 1566.6,871.0 1567.1,870.3 1567.6,869.7 1568.1,869.0 1568.6,868.3 1569.1,867.7 1569.6,867.1 1570.1,866.5 1570.6,865.9 1571.1,865.3 1571.6,864.7 1572.1,864.1 1572.6,863.6 1573.1,863.1 1573.6,862.5 1574.1,862.0 1574.6,861.5 1575.1,861.0 1575.6,860.5 1576.1,860.0 1576.6,859.5 1577.1,859.0 1577.6,858.5 1578.1,858.0 1578.6,857.5 1579.1,857.0 1579.6,856.4 1580.1,855.9 1580.6,855.4 1581.1,854.8 1581.6,854.3 1582.1,853.7 1582.6,853.2 1583.1,852.6 1583.6,852.0 1584.1,851.5 1584.6,850.9 1585.1,850.4 1585.6,849.9 1586.1,849.5 1586.6,849.0 1587.1,848.6 1587.6,848.2 1588.1,847.8 1588.6,847.4 1589.1,847.1 1589.6,846.7 1590.1,846.4 1590.6,846.0 1591.1,845.7 1591.6,845.3 1592.1,845.0 1592.6,844.7 1593.1,844.4 1593.6,844.1 1594.1,843.8 1594.6,843.5 1595.1,843.2 1595.6,842.9 1596.1,842.6 1596.6,842.3 1597.1,842.0 1597.6,841.7 1598.1,841.3 1598.6,841.0 1599.1,840.7 1599.6,840.4 1600.1,840.1 1600.6,839.7 1601.1,839.4 1601.6,839.0 1602.1,838.7 1602.6,838.3 1603.1,837.9 1603.6,837.6 1604.1,837.2 1604.6,836.8 1605.1,836.5 1605.6,836.1 1606.1,835.7 1606.6,835.3 1607.1,834.9 1607.6,834.5 1608.1,834.2 1608.6,833.8 1609.1,833.4 1609.6,833.0 1610.1,832.6 1610.6,832.2 1611.1,831.8 1611.6,831.4 1612.1,831.0 1612.6,830.7 1613.1,830.3 1613.6,829.9 1614.1,829.5 1614.6,829.1 1615.1,828.7 1615.6,828.4 1616.1,828.0 1616.6,827.6 1617.1,827.2 1617.6,826.9 1618.1,826.5 1618.6,826.1 1619.1,825.7 1619.6,825.4 1620.1,825.0 1620.6,824.6 1621.1,824.2 1621.6,823.9 1622.1,823.5 1622.6,823.1 1623.1,822.7 1623.6,822.4 1624.1,822.0 1624.6,821.6 1625.1,821.3 1625.6,820.9 1626.1,820.5 1626.6,820.2 1627.1,819.8 1627.6,819.4 1628.1,819.1 1628.6,818.7 1629.1,818.4 1629.6,818.0 1630.1,817.7 1630.6,817.3 1631.1,817.0 1631.6,816.6 1632.1,816.2 1632.6,815.9 1633.1,815.5 1633.6,815.2 1634.1,814.8 1634.6,814.5 1635.1,814.1 1635.6,813.8 1636.1,813.4 1636.6,813.1 1637.1,812.7 1637.6,812.4 1638.1,812.0 1638.6,811.7 1639.1,811.3 1639.6,811.0 1640.1,810.6 1640.6,810.3 1641.1,810.0 1641.6,809.6 1642.1,809.3 1642.6,809.0 1643.1,808.7 1643.6,808.4 1644.1,808.1 1644.6,807.8 1645.1,807.5 1645.6,807.2 1646.1,806.9 1646.6,806.6 1647.1,806.3 1647.6,806.1 1648.1,805.8 1648.6,805.5 1649.1,805.3 1649.6,805.0 1650.1,804.7 1650.6,804.5 1651.1,804.2 1651.6,804.0 1652.1,803.8 1652.6,803.5 1653.1,803.3 1653.6,803.0 1654.1,802.8 1654.6,802.6 1655.1,802.3 1655.6,802.1 1656.1,801.9 1656.6,801.7 1657.1,801.5 1657.6,801.2 1658.1,801.0 1658.6,800.8 1659.1,800.6 1659.6,800.4 1660.1,800.2 1660.6,800.0 1661.1,799.7 1661.6,799.5 1662.1,799.3 1662.6,799.1 1663.1,798.9 1663.6,798.7 1664.1,798.5 1664.6,798.3 1665.1,798.1 1665.6,797.9 1666.1,797.6 1666.6,797.4 1667.1,797.2 1667.6,797.0 1668.1,796.8 1668.6,796.6 1669.1,796.4 1669.6,796.2 1670.1,796.0 1670.6,795.8 1671.1,795.6 1671.6,795.5 1672.1,795.3 1672.6,795.1 1673.1,795.0 1673.6,794.8 1674.1,794.7 1674.6,794.5 1675.1,794.4 1675.6,794.2 1676.1,794.1 1676.6,794.0 1677.1,793.9 1677.6,793.8 1678.1,793.7 1678.6,793.6 1679.1,793.5 1679.6,793.4 1680.1,793.3 1680.6,793.2 1681.1,793.1 1681.6,793.0 1682.1,792.9 1682.6,792.8 1683.1,792.8 1683.6,792.7 1684.1,792.6 1684.6,792.6 1685.1,792.6 1685.6,792.5 1686.1,792.5 1686.6,792.5 1687.1,792.5 1687.6,792.5 1688.1,792.5 1688.6,792.5 1689.1,792.5 1689.6,792.5 1690.1,792.5 1690.6,792.5 1691.1,792.5 1691.6,792.6 1692.1,792.6 1692.6,792.6 1693.1,792.6 1693.6,792.6 1694.1,792.6 1694.6,792.6 1695.1,792.6 1695.6,792.7 1696.1,792.7 1696.6,792.7 1697.1,792.7 1697.6,792.8 1698.1,792.8 1698.6,792.9 1699.1,792.9 1699.6,793.0 1700.1,793.1 1700.6,793.2 1701.1,793.3 1701.6,793.4 1702.1,793.6 1702.6,793.7 1703.1,793.8 1703.6,794.0 1704.1,794.1 1704.6,794.3 1705.1,794.5 1705.6,794.6 1706.1,794.8 1706.6,794.9 1707.1,795.1 1707.6,795.3 1708.1,795.5 1708.6,795.7 1709.1,795.9 1709.6,796.1 1710.1,796.4 1710.6,796.6 1711.1,796.9 1711.6,797.2 1712.1,797.5 1712.6,797.8 1713.1,798.1 1713.6,798.4 1714.1,798.7 1714.6,799.1 1715.1,799.4 1715.6,799.8 1716.1,800.1 1716.6,800.5 1717.1,800.9 1717.6,801.2 1718.1,801.6 1718.6,802.0 1719.1,802.4 1719.6,802.8 1720.1,803.2 1720.6,803.6 1721.1,803.9 1721.6,804.3 1722.1,804.7 1722.6,805.2 1723.1,805.6 1723.6,806.0 1724.1,806.5 1724.6,807.0 1725.1,807.5 1725.6,808.0 1726.1,808.5 1726.6,809.0 1727.1,809.5 1727.6,810.1 1728.1,810.6 1728.6,811.2 1729.1,811.7 1729.6,812.3 1730.1,812.8 1730.6,813.4 1731.1,814.0 1731.6,814.5 1732.1,815.1 1732.6,815.6 1733.1,816.2 1733.6,816.7 1734.1,817.3 1734.6,817.8 1735.1,818.4 1735.6,818.9 1736.1,819.4 1736.6,819.9 1737.1,820.4 1737.6,820.9 1738.1,821.4 1738.6,821.9 1739.1,822.4 1739.6,822.9 1740.1,823.4 1740.6,823.9 1741.1,824.4 1741.6,824.8 1742.1,825.3 1742.6,825.8 1743.1,826.3 1743.6,826.8 1744.1,827.3 1744.6,827.8 1745.1,828.2 1745.6,828.7 1746.1,829.2 1746.6,829.6 1747.1,830.1 1747.6,830.5 1748.1,831.0 1748.6,831.4 1749.1,831.9 1749.6,832.3 1750.1,832.7 1750.6,833.1 1751.1,833.5 1751.6,833.9 1752.1,834.3 1752.6,834.7 1753.1,835.1 1753.6,835.5 1754.1,836.0 1754.6,836.4 1755.1,836.8 1755.6,837.2 1756.1,837.6 1756.6,837.9 1757.1,838.3 1757.6,838.7 1758.1,839.0 1758.6,839.4 1759.1,839.7 1759.6,840.0 1760.1,840.3 1760.6,840.5 1761.1,840.8 1761.6,841.0 1762.1,841.2 1762.6,841.3 1763.1,841.5 1763.6,841.7 1764.1,841.8 1764.6,842.0 1765.1,842.1 1765.6,842.2 1766.1,842.4 1766.6,842.5 1767.1,842.6 1767.6,842.7 1768.1,842.8 1768.6,842.9 1769.1,843.0 1769.6,843.1 1770.1,843.2 1770.6,843.3 1771.1,843.4 1771.6,843.5 1772.1,843.6 1772.6,843.7 1773.1,843.8 1773.6,843.8 1774.1,843.9 1774.6,844.0 1775.1,844.0 1775.6,844.1 1776.1,844.2 1776.6,844.2 1777.1,844.3 1777.6,844.4 1778.1,844.4 1778.6,844.5 1779.1,844.6 1779.6,844.6 1780.1,844.7 1780.6,844.8 1781.1,844.9 1781.6,845.0 1782.1,845.1 1782.6,845.3 1783.1,845.4 1783.6,845.5 1784.1,845.7 1784.6,845.9 1785.1,846.0 1785.6,846.2 1786.1,846.4 1786.6,846.6 1787.1,846.8 1787.6,847.0 1788.1,847.3 1788.6,847.5 1789.1,847.7 1789.6,848.0 1790.1,848.2 1790.6,848.5 1791.1,848.8 1791.6,849.1 1792.1,849.4 1792.6,849.7 1793.1,850.1 1793.6,850.5 1794.1,850.9 1794.6,851.3 1795.1,851.8 1795.6,852.3 1796.1,852.8 1796.6,853.3 1797.1,853.8 1797.6,854.3 1798.1,854.9 1798.6,855.4 1799.1,855.9 1799.6,856.5 1800.1,857.0 1800.6,857.6 1801.1,858.1 1801.6,858.6 1802.1,859.1 1802.6,859.6 1803.1,860.1 1803.6,860.7 1804.1,861.2 1804.6,861.7 1805.1,862.3 1805.6,862.8 1806.1,863.4 1806.6,863.9 1807.1,864.5 1807.6,865.0 1808.1,865.6 1808.6,866.1 1809.1,866.7 1809.6,867.3 1810.1,867.9 1810.6,868.4 1811.1,869.0 1811.6,869.6 1812.1,870.2 1812.6,870.8 1813.1,871.4 1813.6,872.0 1814.1,872.7 1814.6,873.3 1815.1,873.9 1815.6,874.6 1816.1,875.2 1816.6,875.9 1817.1,876.5 1817.6,877.1 1818.1,877.8 1818.6,878.4 1819.1,879.0 1819.6,879.7 1820.1,880.3 1820.6,880.9 1821.1,881.5 1821.6,882.1 1822.1,882.7 1822.6,883.3 1823.1,883.8 1823.6,884.4 1824.1,885.0 1824.6,885.6 1825.1,886.1 1825.6,886.7 1826.1,887.2 1826.6,887.8 1827.1,888.3 1827.6,888.9 1828.1,889.4 1828.6,890.0 1829.1,890.5 1829.6,891.0 1830.1,891.6 1830.6,892.1 1831.1,892.6 1831.6,893.1 1832.1,893.6 1832.6,894.1 1833.1,894.6 1833.6,895.1 1834.1,895.6 1834.6,896.1 1835.1,896.6 1835.6,897.1 1836.1,897.6 1836.6,898.0 1837.1,898.5 1837.6,899.0 1838.1,899.4 1838.6,899.9 1839.1,900.4 1839.6,900.8 1840.1,901.3 1840.6,901.7 1841.1,902.2 1841.6,902.6 1842.1,903.0 1842.6,903.5 1843.1,903.9 1843.6,904.3 1844.1,904.8 1844.6,905.2 1845.1,905.6 1845.6,906.0 1846.1,906.4 1846.6,906.8 1847.1,907.2 1847.6,907.6 1848.1,908.0 1848.6,908.4 1849.1,908.8 1849.6,909.2 1850.1,909.6 1850.6,909.9 1851.1,910.3 1851.6,910.6 1852.1,911.0 1852.6,911.3 1853.1,911.6 1853.6,912.0 1854.1,912.3 1854.6,912.6 1855.1,912.9 1855.6,913.2 1856.1,913.5 1856.6,913.8 1857.1,914.1 1857.6,914.4 1858.1,914.7 1858.6,914.9 1859.1,915.2 1859.6,915.5 1860.1,915.8 1860.6,916.1 1861.1,916.4 1861.6,916.6 1862.1,916.9 1862.6,917.2 1863.1,917.5 1863.6,917.8 1864.1,918.1 1864.6,918.5 1865.1,918.8 1865.6,919.1 1866.1,919.4 1866.6,919.7 1867.1,920.0 1867.6,920.3 1868.1,920.5 1868.6,920.8 1869.1,921.1 1869.6,921.3 1870.1,921.6 1870.6,921.8 1871.1,922.0 1871.6,922.2 1872.1,922.3 1872.6,922.5 1873.1,922.7 1873.6,922.8 1874.1,923.0 1874.6,923.1 1875.1,923.2 1875.6,923.4 1876.1,923.5 1876.6,923.6 1877.1,923.8 1877.6,923.9 1878.1,924.0 1878.6,924.1 1879.1,924.2 1879.6,924.3 1880.1,924.4 1880.6,924.5 1881.1,924.6 1881.6,924.7 1882.1,924.8 1882.6,924.9 1883.1,925.0 1883.6,925.0 1884.1,925.1 1884.6,925.2 1885.1,925.3 1885.6,925.4 1886.1,925.5 1886.6,925.6 1887.1,925.7 1887.6,925.8 1888.1,925.8 1888.6,925.9 1889.1,926.0 1889.6,926.0 1890.1,926.1 1890.6,926.1 1891.1,926.1 1891.6,926.2 1892.1,926.2 1892.6,926.2 1893.1,926.2 1893.6,926.2 1894.1,926.1 1894.6,926.1 1895.1,926.0 1895.6,925.9 1896.1,925.8 1896.6,925.7 1897.1,925.6 1897.6,925.5 1898.1,925.3 1898.6,925.2 1899.1,925.0 1899.6,924.9 1900.1,924.7 1900.6,924.6 1901.1,924.4 1901.6,924.3 1902.1,924.1 1902.6,923.9 1903.1,923.8 1903.6,923.6 1904.1,923.4 1904.6,923.2 1905.1,923.0 1905.6,922.7 1906.1,922.5 1906.6,922.3 1907.1,922.0 1907.6,921.7 1908.1,921.5 1908.6,921.2 1909.1,920.9 1909.6,920.6 1910.1,920.3 1910.6,920.0 1911.1,919.7 1911.6,919.3 1912.1,919.0 1912.6,918.6 1913.1,918.3 1913.6,917.8 1914.1,917.4 1914.6,917.0 1915.1,916.5 1915.6,916.0 1916.1,915.5 1916.6,915.0 1917.1,914.5 1917.6,914.0 1918.1,913.4 1918.6,912.9 1919.1,912.3 1919.6,911.8 1920.1,911.2 1920.6,910.6 1921.1,910.0 1921.6,909.4 1922.1,908.8 1922.6,908.2 1923.1,907.6 1923.6,907.0 1924.1,906.3 1924.6,905.6 1925.1,904.9 1925.6,904.2 1926.1,903.5 1926.6,902.8 1927.1,902.1 1927.6,901.3 1928.1,900.6 1928.6,899.8 1929.1,899.1 1929.6,898.4 1930.1,897.6 1930.6,896.9 1931.1,896.1 1931.6,895.4 1932.1,894.7 1932.6,893.9 1933.1,893.2 1933.6,892.4 1934.1,891.7 1934.6,890.9 1935.1,890.2 1935.6,889.4 1936.1,888.7 1936.6,887.9 1937.1,887.1 1937.6,886.4 1938.1,885.6 1938.6,884.8 1939.1,884.1 1939.6,883.3 1940.1,882.6 1940.6,881.9 1941.1,881.1 1941.6,880.4 1942.1,879.7 1942.6,878.9 1943.1,878.2 1943.6,877.5 1944.1,876.8 1944.6,876.0 1945.1,875.3 1945.6,874.6 1946.1,873.9 1946.6,873.1 1947.1,872.4 1947.6,871.7 1948.1,871.0 1948.6,870.3 1949.1,869.7 1949.6,869.0 1950.1,868.3 1950.6,867.7 1951.1,867.1 1951.6,866.5 1952.1,865.9 1952.6,865.3 1953.1,864.7 1953.6,864.1 1954.1,863.6 1954.6,863.1 1955.1,862.5 1955.6,862.0 1956.1,861.5 1956.6,861.0 1957.1,860.5 1957.6,860.0 1958.1,859.5 1958.6,859.0 1959.1,858.5 1959.6,858.0 1960.1,857.5 1960.6,857.0 1961.1,856.4 1961.6,855.9 1962.1,855.4 1962.6,854.8 1963.1,854.3 1963.6,853.7 1964.1,853.2 1964.6,852.6 1965.1,852.0 1965.6,851.5 1966.1,850.9 1966.6,850.4 1967.1,849.9 1967.6,849.5 1968.1,849.0 1968.6,848.6 1969.0,848.3" fill="none" stroke="#6DB52D" stroke-width="2.2" stroke-linejoin="round"/>
<rect x="214.9" y="1.79" width="764.3" height="296.24" fill="none" stroke="#000" stroke-width="1.9"/>
<path d="M204.4 261H214.9M204.4 186.94H214.9M204.4 112.88H214.9M204.4 38.82H214.9M209.4 298.03H214.9M209.4 223.97H214.9M209.4 149.91H214.9M209.4 75.85H214.9M209.4 1.79H214.9" stroke="#000" stroke-width="1.9" fill="none"/>
<text transform="translate(197.3 274.6) scale(1 1.045)" text-anchor="end" font-size="40">0.0</text>
<text transform="translate(197.3 200.54) scale(1 1.045)" text-anchor="end" font-size="40">0.2</text>
<text transform="translate(197.3 126.48) scale(1 1.045)" text-anchor="end" font-size="40">0.4</text>
<text transform="translate(197.3 52.42) scale(1 1.045)" text-anchor="end" font-size="40">0.6</text>
<rect x="214.9" y="313.28" width="764.3" height="294.84" fill="none" stroke="#000" stroke-width="1.9"/>
<path d="M204.4 566H214.9M204.4 502.82H214.9M204.4 439.64H214.9M204.4 376.46H214.9M204.4 313.28H214.9M209.4 597.59H214.9M209.4 534.41H214.9M209.4 471.23H214.9M209.4 408.05H214.9M209.4 344.87H214.9" stroke="#000" stroke-width="1.9" fill="none"/>
<text transform="translate(197.3 579.6) scale(1 1.045)" text-anchor="end" font-size="40">0.0</text>
<text transform="translate(197.3 516.42) scale(1 1.045)" text-anchor="end" font-size="40">0.6</text>
<text transform="translate(197.3 453.24) scale(1 1.045)" text-anchor="end" font-size="40">1.2</text>
<text transform="translate(197.3 390.06) scale(1 1.045)" text-anchor="end" font-size="40">1.8</text>
<text transform="translate(197.3 326.88) scale(1 1.045)" text-anchor="end" font-size="40">2.4</text>
<rect x="215.6" y="672.76" width="763.2" height="294.84" fill="none" stroke="#000" stroke-width="1.9"/>
<path d="M205.1 922.24H215.6M205.1 854.2H215.6M205.1 786.16H215.6M205.1 718.12H215.6M210.1 956.26H215.6M210.1 888.22H215.6M210.1 820.18H215.6M210.1 752.14H215.6M210.1 684.1H215.6M215.6 967.6V977.6M311 967.6V973.1M406.4 967.6V977.6M501.8 967.6V973.1M597.2 967.6V977.6M692.6 967.6V973.1M788 967.6V977.6M883.4 967.6V973.1M978.8 967.6V977.6" stroke="#000" stroke-width="1.9" fill="none"/>
<text transform="translate(198 935.84) scale(1 1.045)" text-anchor="end" font-size="40">−0.06</text>
<text transform="translate(198 867.8) scale(1 1.045)" text-anchor="end" font-size="40">0.00</text>
<text transform="translate(198 799.76) scale(1 1.045)" text-anchor="end" font-size="40">0.06</text>
<text transform="translate(198 731.72) scale(1 1.045)" text-anchor="end" font-size="40">0.12</text>
<text transform="translate(215.9 1017.6) scale(1 1.045)" text-anchor="middle" font-size="40">0.0</text>
<text transform="translate(406.7 1017.6) scale(1 1.045)" text-anchor="middle" font-size="40">0.5</text>
<text transform="translate(597.5 1017.6) scale(1 1.045)" text-anchor="middle" font-size="40">1.0</text>
<text transform="translate(788.3 1017.6) scale(1 1.045)" text-anchor="middle" font-size="40">1.5</text>
<text transform="translate(979.1 1017.6) scale(1 1.045)" text-anchor="middle" font-size="40">2.0</text>
<rect x="1206.9" y="3.68" width="762.9" height="295.68" fill="none" stroke="#000" stroke-width="1.9"/>
<path d="M1196.4 262.4H1206.9M1196.4 188.48H1206.9M1196.4 114.56H1206.9M1196.4 40.64H1206.9M1201.4 299.36H1206.9M1201.4 225.44H1206.9M1201.4 151.52H1206.9M1201.4 77.6H1206.9M1201.4 3.68H1206.9" stroke="#000" stroke-width="1.9" fill="none"/>
<text transform="translate(1189.3 276) scale(1 1.045)" text-anchor="end" font-size="40">0.0</text>
<text transform="translate(1189.3 202.08) scale(1 1.045)" text-anchor="end" font-size="40">0.2</text>
<text transform="translate(1189.3 128.16) scale(1 1.045)" text-anchor="end" font-size="40">0.4</text>
<text transform="translate(1189.3 54.24) scale(1 1.045)" text-anchor="end" font-size="40">0.6</text>
<rect x="1206.9" y="313.89" width="762.9" height="294.48" fill="none" stroke="#000" stroke-width="1.9"/>
<path d="M1196.4 566.3H1206.9M1196.4 503.2H1206.9M1196.4 440.1H1206.9M1196.4 376.99H1206.9M1196.4 313.89H1206.9M1201.4 597.85H1206.9M1201.4 534.75H1206.9M1201.4 471.65H1206.9M1201.4 408.54H1206.9M1201.4 345.44H1206.9" stroke="#000" stroke-width="1.9" fill="none"/>
<text transform="translate(1189.3 579.9) scale(1 1.045)" text-anchor="end" font-size="40">0.0</text>
<text transform="translate(1189.3 516.8) scale(1 1.045)" text-anchor="end" font-size="40">0.6</text>
<text transform="translate(1189.3 453.7) scale(1 1.045)" text-anchor="end" font-size="40">1.2</text>
<text transform="translate(1189.3 390.59) scale(1 1.045)" text-anchor="end" font-size="40">1.8</text>
<text transform="translate(1189.3 327.49) scale(1 1.045)" text-anchor="end" font-size="40">2.4</text>
<path d="M1204.4 838V672.38H1969.8V967.19H1205.4V838" fill="none" stroke="#000" stroke-width="1.9" stroke-linejoin="miter"/>
<path d="M1194.9 921.83H1205.4M1194.9 853.8H1205.4M1193.9 785.77H1204.4M1193.9 717.73H1204.4M1199.9 955.85H1205.4M1199.9 887.82H1205.4M1198.9 819.78H1204.4M1198.9 751.75H1204.4M1198.9 683.71H1204.4M1205 967.19V977.19M1300.6 967.19V972.69M1396.2 967.19V977.19M1491.8 967.19V972.69M1587.4 967.19V977.19M1683 967.19V972.69M1778.6 967.19V977.19M1874.2 967.19V972.69M1969.8 967.19V977.19" stroke="#000" stroke-width="1.9" fill="none"/>
<text transform="translate(1186.8 935.43) scale(1 1.045)" text-anchor="end" font-size="40">−0.06</text>
<text transform="translate(1186.8 867.4) scale(1 1.045)" text-anchor="end" font-size="40">0.00</text>
<text transform="translate(1186.8 799.37) scale(1 1.045)" text-anchor="end" font-size="40">0.06</text>
<text transform="translate(1186.8 731.33) scale(1 1.045)" text-anchor="end" font-size="40">0.12</text>
<text transform="translate(1205.3 1017.19) scale(1 1.045)" text-anchor="middle" font-size="40">0.0</text>
<text transform="translate(1396.5 1017.19) scale(1 1.045)" text-anchor="middle" font-size="40">0.5</text>
<text transform="translate(1587.7 1017.19) scale(1 1.045)" text-anchor="middle" font-size="40">1.0</text>
<text transform="translate(1778.9 1017.19) scale(1 1.045)" text-anchor="middle" font-size="40">1.5</text>
<text transform="translate(1970.1 1017.19) scale(1 1.045)" text-anchor="middle" font-size="40">2.0</text>
<line x1="1314.3" y1="134.4" x2="1314.3" y2="3.5" stroke="#000" stroke-width="2" stroke-dasharray="5 4.4" stroke-dashoffset="3"/>
<line x1="1476.9" y1="129.2" x2="1476.9" y2="3.5" stroke="#000" stroke-width="2" stroke-dasharray="5 4.4" stroke-dashoffset="3"/>
<line x1="1699" y1="129.3" x2="1699" y2="3.5" stroke="#000" stroke-width="2" stroke-dasharray="5 4.4" stroke-dashoffset="3"/>
<line x1="1858.8" y1="129.3" x2="1858.8" y2="3.5" stroke="#000" stroke-width="2" stroke-dasharray="5 4.4" stroke-dashoffset="3"/>
<text transform="translate(1213.9 107) scale(1 1.04)" font-size="37.6" style="font-style:italic">WZ</text>
<line x1="1275.1" y1="93.6" x2="1300" y2="93.6" stroke="#000" stroke-width="1.9"/>
<path d="M1313 93.6L1299 90.1L1299 97.1Z" fill="#000"/>
<line x1="1367.7" y1="93.6" x2="1328.1" y2="93.6" stroke="#000" stroke-width="1.9"/>
<path d="M1315.1 93.6L1329.1 90.1L1329.1 97.1Z" fill="#000"/>
<text transform="translate(1368.2 107) scale(1 1.04)" font-size="37.6" style="font-style:italic">ZB</text>
<line x1="1421" y1="93.6" x2="1459.9" y2="93.6" stroke="#000" stroke-width="1.9"/>
<path d="M1472.9 93.6L1458.9 90.1L1458.9 97.1Z" fill="#000"/>
<line x1="1560.2" y1="93.6" x2="1493" y2="93.6" stroke="#000" stroke-width="1.9"/>
<path d="M1480 93.6L1494 90.1L1494 97.1Z" fill="#000"/>
<text transform="translate(1559.8 107) scale(1 1.04)" font-size="37.6" style="font-style:italic">WZ</text>
<line x1="1616.5" y1="93.6" x2="1682" y2="93.6" stroke="#000" stroke-width="1.9"/>
<path d="M1695 93.6L1681 90.1L1681 97.1Z" fill="#000"/>
<line x1="1751.8" y1="93.6" x2="1713.5" y2="93.6" stroke="#000" stroke-width="1.9"/>
<path d="M1700.5 93.6L1714.5 90.1L1714.5 97.1Z" fill="#000"/>
<text transform="translate(1754.8 107) scale(1 1.04)" font-size="37.6" style="font-style:italic">ZB</text>
<line x1="1803.2" y1="93.6" x2="1841.5" y2="93.6" stroke="#000" stroke-width="1.9"/>
<path d="M1854.5 93.6L1840.5 90.1L1840.5 97.1Z" fill="#000"/>
<line x1="1967.2" y1="93.6" x2="1875" y2="93.6" stroke="#000" stroke-width="1.9"/>
<path d="M1862 93.6L1876 90.1L1876 97.1Z" fill="#000"/>
<line x1="1312.6" y1="446.4" x2="1312.6" y2="314.5" stroke="#000" stroke-width="2" stroke-dasharray="5 4.4" stroke-dashoffset="3"/>
<line x1="1474.8" y1="441.4" x2="1474.8" y2="314.5" stroke="#000" stroke-width="2" stroke-dasharray="5 4.4" stroke-dashoffset="3"/>
<line x1="1697" y1="441.5" x2="1697" y2="314.5" stroke="#000" stroke-width="2" stroke-dasharray="5 4.4" stroke-dashoffset="3"/>
<line x1="1856.6" y1="441" x2="1856.6" y2="314.5" stroke="#000" stroke-width="2" stroke-dasharray="5 4.4" stroke-dashoffset="3"/>
<text transform="translate(1212.7 419.9) scale(1 1.04)" font-size="37.6" style="font-style:italic">WZ</text>
<line x1="1272.5" y1="406.5" x2="1298" y2="406.5" stroke="#000" stroke-width="1.9"/>
<path d="M1311 406.5L1297 403L1297 410Z" fill="#000"/>
<line x1="1366" y1="406.5" x2="1327.5" y2="406.5" stroke="#000" stroke-width="1.9"/>
<path d="M1314.5 406.5L1328.5 403L1328.5 410Z" fill="#000"/>
<text transform="translate(1367.8 419.9) scale(1 1.04)" font-size="37.6" style="font-style:italic">ZB</text>
<line x1="1419" y1="406.5" x2="1458.5" y2="406.5" stroke="#000" stroke-width="1.9"/>
<path d="M1471.5 406.5L1457.5 403L1457.5 410Z" fill="#000"/>
<line x1="1559.8" y1="406.5" x2="1493.1" y2="406.5" stroke="#000" stroke-width="1.9"/>
<path d="M1480.1 406.5L1494.1 403L1494.1 410Z" fill="#000"/>
<text transform="translate(1559.5 419.9) scale(1 1.04)" font-size="37.6" style="font-style:italic">WZ</text>
<line x1="1615.5" y1="406.5" x2="1680.9" y2="406.5" stroke="#000" stroke-width="1.9"/>
<path d="M1693.9 406.5L1679.9 403L1679.9 410Z" fill="#000"/>
<line x1="1750.9" y1="406.5" x2="1712" y2="406.5" stroke="#000" stroke-width="1.9"/>
<path d="M1699 406.5L1713 403L1713 410Z" fill="#000"/>
<text transform="translate(1753.9 419.9) scale(1 1.04)" font-size="37.6" style="font-style:italic">ZB</text>
<line x1="1802.7" y1="406.5" x2="1840.4" y2="406.5" stroke="#000" stroke-width="1.9"/>
<path d="M1853.4 406.5L1839.4 403L1839.4 410Z" fill="#000"/>
<line x1="1966" y1="406.5" x2="1874" y2="406.5" stroke="#000" stroke-width="1.9"/>
<path d="M1861 406.5L1875 403L1875 410Z" fill="#000"/>
<line x1="1310.7" y1="785.9" x2="1310.7" y2="672.6" stroke="#000" stroke-width="2" stroke-dasharray="5 4.4" stroke-dashoffset="3"/>
<line x1="1475.6" y1="788.8" x2="1475.6" y2="672.6" stroke="#000" stroke-width="2" stroke-dasharray="5 4.4" stroke-dashoffset="3"/>
<line x1="1697" y1="778" x2="1697" y2="672.6" stroke="#000" stroke-width="2" stroke-dasharray="5 4.4" stroke-dashoffset="3"/>
<line x1="1855.1" y1="797" x2="1855.1" y2="672.6" stroke="#000" stroke-width="2" stroke-dasharray="5 4.4" stroke-dashoffset="3"/>
<text transform="translate(1212.2 769.9) scale(1 1.04)" font-size="37.6" style="font-style:italic">WZ</text>
<line x1="1269.4" y1="758.5" x2="1293.8" y2="758.5" stroke="#000" stroke-width="1.9"/>
<path d="M1306.8 758.5L1292.8 755L1292.8 762Z" fill="#000"/>
<line x1="1367.1" y1="758.5" x2="1327" y2="758.5" stroke="#000" stroke-width="1.9"/>
<path d="M1314 758.5L1328 755L1328 762Z" fill="#000"/>
<text transform="translate(1371.2 769.9) scale(1 1.04)" font-size="37.6" style="font-style:italic">ZB</text>
<line x1="1421.6" y1="758.5" x2="1460.9" y2="758.5" stroke="#000" stroke-width="1.9"/>
<path d="M1473.9 758.5L1459.9 755L1459.9 762Z" fill="#000"/>
<line x1="1559.8" y1="758.5" x2="1491.9" y2="758.5" stroke="#000" stroke-width="1.9"/>
<path d="M1478.9 758.5L1492.9 755L1492.9 762Z" fill="#000"/>
<text transform="translate(1560.8 769.9) scale(1 1.04)" font-size="37.6" style="font-style:italic">WZ</text>
<line x1="1615.5" y1="758.5" x2="1681" y2="758.5" stroke="#000" stroke-width="1.9"/>
<path d="M1694 758.5L1680 755L1680 762Z" fill="#000"/>
<line x1="1752.1" y1="758.5" x2="1712" y2="758.5" stroke="#000" stroke-width="1.9"/>
<path d="M1699 758.5L1713 755L1713 762Z" fill="#000"/>
<text transform="translate(1752.6 769.9) scale(1 1.04)" font-size="37.6" style="font-style:italic">ZB</text>
<line x1="1801.5" y1="758.5" x2="1840.4" y2="758.5" stroke="#000" stroke-width="1.9"/>
<path d="M1853.4 758.5L1839.4 755L1839.4 762Z" fill="#000"/>
<line x1="1969" y1="758.5" x2="1871.4" y2="758.5" stroke="#000" stroke-width="1.9"/>
<path d="M1858.4 758.5L1872.4 755L1872.4 762Z" fill="#000"/>
<text transform="translate(966.5 284.3) scale(1 1.04)" text-anchor="end" font-size="40" style="fill:#D5334D">CBM</text>
<text transform="translate(969.3 600.6) scale(1 1.04)" text-anchor="end" font-size="40" style="fill:#3087C0">VBM</text>
<text transform="translate(1956.3 284.8) scale(1 1.04)" text-anchor="end" font-size="40" style="fill:#D5334D">CBM</text>
<text transform="translate(1957.6 601.9) scale(1 1.04)" text-anchor="end" font-size="40" style="fill:#3087C0">VBM</text>
<text transform="translate(969.8 948.5) scale(1 1.04)" text-anchor="end" font-size="40.6" style="fill:#DC9510"><tspan font-style="italic">WZ</tspan>−MCS</text>
<text transform="translate(1965.5 959.8) scale(1 1.04)" text-anchor="end" font-size="40.6" style="fill:#6CB42C"><tspan font-style="italic">SL</tspan>−MCS</text>
<circle cx="588.1" cy="896" r="9.5" fill="url(#gMn)"/>
<circle cx="667.5" cy="896" r="10.5" fill="url(#gCd)"/>
<circle cx="737.8" cy="896" r="9.2" fill="url(#gS)"/>
<text transform="translate(588.2 957.1) scale(1 1.0)" text-anchor="middle" font-size="37.6">Mn</text>
<text transform="translate(669.6 957.1) scale(1 1.0)" text-anchor="middle" font-size="37.6">Cd</text>
<text transform="translate(737.4 957.1) scale(1 1.0)" text-anchor="middle" font-size="37.6">S</text>
<circle cx="1594.4" cy="886.7" r="9.5" fill="url(#gMn)"/>
<circle cx="1673.1" cy="886.7" r="10.5" fill="url(#gCd)"/>
<circle cx="1742.8" cy="886.7" r="9.2" fill="url(#gS)"/>
<text transform="translate(1593.1 947.9) scale(1 1.0)" text-anchor="middle" font-size="37.6">Mn</text>
<text transform="translate(1674.5 947.9) scale(1 1.0)" text-anchor="middle" font-size="37.6">Cd</text>
<text transform="translate(1743.6 947.9) scale(1 1.0)" text-anchor="middle" font-size="37.6">S</text>
<line x1="331.5" y1="937.1" x2="331.5" y2="889.2" stroke="#000" stroke-width="1.9"/>
<path d="M331.5 887.2L326.5 897.7L331.5 895.2L336.5 897.7Z" fill="#000"/>
<line x1="340.7" y1="946.3" x2="389.4" y2="946.3" stroke="#000" stroke-width="1.9"/>
<path d="M391.4 946.3L380.9 941.3L383.4 946.3L380.9 951.3Z" fill="#000"/>
<circle cx="331.5" cy="946.3" r="7.9" fill="#fff" stroke="#000" stroke-width="2.3"/>
<circle cx="331.5" cy="946.3" r="2.9" fill="#000"/>
<text transform="translate(331 884.6) scale(1 1.03)" text-anchor="middle" font-size="30.5">[01<tspan>1</tspan>0]</text>
<text transform="translate(313.7 954.6) scale(1 1.03)" text-anchor="end" font-size="30.5">[2110]</text>
<text transform="translate(399.2 954.6) scale(1 1.03)" font-size="30.5">[0001]</text>
<line x1="1328.3" y1="932.9" x2="1328.3" y2="886.1" stroke="#000" stroke-width="1.9"/>
<path d="M1328.3 884.1L1323.3 894.6L1328.3 892.1L1333.3 894.6Z" fill="#000"/>
<line x1="1337.5" y1="942.1" x2="1385.6" y2="942.1" stroke="#000" stroke-width="1.9"/>
<path d="M1387.6 942.1L1377.1 937.1L1379.6 942.1L1377.1 947.1Z" fill="#000"/>
<circle cx="1328.3" cy="942.1" r="7.9" fill="#fff" stroke="#000" stroke-width="2.3"/>
<circle cx="1328.3" cy="942.1" r="2.9" fill="#000"/>
<text transform="translate(1327.7 880.6) scale(1 1.03)" text-anchor="middle" font-size="30.5">[01<tspan>1</tspan>0]</text>
<text transform="translate(1309.2 950.3) scale(1 1.03)" text-anchor="end" font-size="30.5">[2110]</text>
<text transform="translate(1396.4 950.3) scale(1 1.03)" font-size="30.5">[0001]</text>
<line x1="334.2" y1="860.8" x2="347.2" y2="860.8" stroke="#000" stroke-width="1.6"/>
<line x1="240.2" y1="929.6" x2="253.6" y2="929.6" stroke="#000" stroke-width="1.6"/>
<line x1="1330.3" y1="857" x2="1343.3" y2="857" stroke="#000" stroke-width="1.6"/>
<line x1="1236.8" y1="925.4" x2="1250.2" y2="925.4" stroke="#000" stroke-width="1.6"/>
<text transform="translate(-0.4 27.2) scale(1 1.0)" font-size="44" font-weight="bold">a</text>
<text transform="translate(-1.6 706) scale(1 1.0)" font-size="44" font-weight="bold">b</text>
<text transform="translate(1018.6 31.2) scale(1 1.0)" font-size="44" font-weight="bold">c</text>
<text transform="translate(1010.2 706) scale(1 1.0)" font-size="44" font-weight="bold">d</text>
<text transform="translate(58.1 502.6) rotate(-90) scale(1 1.0)" font-size="42.4">Partial charge density</text>
<text transform="translate(123.3 540.4) rotate(-90) scale(1 1.0)" font-size="42.4">distribution (×10<tspan font-size="28" dy="-17.6">-3</tspan><tspan dy="17.6"> e/Bohr</tspan><tspan font-size="28" dy="-17.6">3</tspan><tspan dy="17.6">)</tspan></text>
<text transform="translate(83 545.6) rotate(-90) scale(1 1.0)" text-anchor="end" font-size="42.4">Macro-average potential (eV)</text>
<text transform="translate(1049.1 486.2) rotate(-90) scale(1 1.0)" font-size="42.4">Partial charge density</text>
<text transform="translate(1114.3 535.2) rotate(-90) scale(1 1.0)" font-size="42.4">distribution (×10<tspan font-size="28" dy="-17.6">-3</tspan><tspan dy="17.6"> e/Bohr</tspan><tspan font-size="28" dy="-17.6">3</tspan><tspan dy="17.6">)</tspan></text>
<text transform="translate(1074 541.3) rotate(-90) scale(1 1.0)" text-anchor="end" font-size="42.4">Macro-average potential (eV)</text>
<text transform="translate(598 1069.6) scale(1 1.0)" text-anchor="middle" font-size="42.4">Fractional coordinate</text>
<text transform="translate(1587.6 1067.7) scale(1 1.0)" text-anchor="middle" font-size="42.4">Fractional coordinate</text>
</svg></body></html>
